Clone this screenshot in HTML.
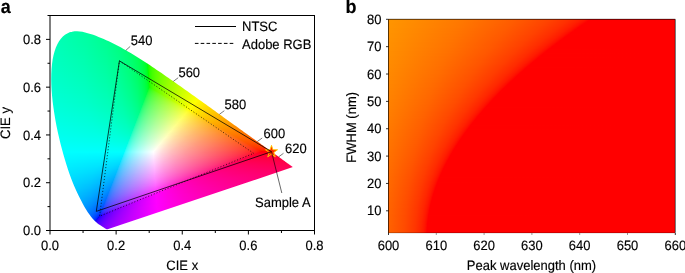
<!DOCTYPE html>
<html><head><meta charset="utf-8"><style>
html,body{margin:0;padding:0;background:#fff;}
body{width:685px;height:273px;overflow:hidden;position:relative;font-family:"Liberation Sans",sans-serif;}
.L{position:absolute;left:0;top:0;width:685px;height:273px;}
.L i{position:absolute;height:1px;display:block;}
#hs{clip-path:path('M107.57 229.31 L107.56 229.31 L107.55 229.31 L107.55 229.31 L107.54 229.31 L107.53 229.31 L107.52 229.31 L107.51 229.32 L107.49 229.32 L107.48 229.33 L107.46 229.33 L107.45 229.32 L107.43 229.32 L107.41 229.32 L107.40 229.32 L107.38 229.32 L107.37 229.33 L107.35 229.34 L107.34 229.34 L107.32 229.35 L107.31 229.35 L107.29 229.36 L107.28 229.36 L107.26 229.36 L107.23 229.36 L107.21 229.36 L107.18 229.36 L107.15 229.36 L107.12 229.35 L107.09 229.35 L107.06 229.35 L107.03 229.35 L107.00 229.35 L106.97 229.35 L106.93 229.35 L106.90 229.35 L106.86 229.34 L106.82 229.33 L106.78 229.32 L106.73 229.30 L106.67 229.28 L106.61 229.26 L106.53 229.23 L106.46 229.19 L106.39 229.16 L106.31 229.12 L106.22 229.07 L106.14 229.02 L106.04 228.97 L105.94 228.91 L105.84 228.85 L105.72 228.78 L105.59 228.71 L105.46 228.63 L105.32 228.55 L105.18 228.46 L105.03 228.36 L104.88 228.25 L104.71 228.14 L104.54 228.03 L104.36 227.91 L104.17 227.78 L103.96 227.65 L103.74 227.51 L103.51 227.36 L103.27 227.20 L103.00 227.04 L102.72 226.86 L102.43 226.67 L102.12 226.48 L101.79 226.27 L101.45 226.05 L101.09 225.83 L100.72 225.59 L100.33 225.34 L99.92 225.07 L99.49 224.78 L99.04 224.47 L98.58 224.14 L98.10 223.78 L97.60 223.40 L97.08 223.00 L96.55 222.57 L96.00 222.09 L95.42 221.56 L94.80 220.97 L94.14 220.30 L93.43 219.54 L92.68 218.69 L91.88 217.74 L91.04 216.69 L90.16 215.55 L89.25 214.30 L88.29 212.92 L87.29 211.41 L86.23 209.75 L85.13 207.93 L83.98 205.93 L82.77 203.74 L81.51 201.37 L80.18 198.80 L78.79 196.02 L77.34 193.03 L75.83 189.79 L74.28 186.30 L72.72 182.55 L71.16 178.55 L69.61 174.30 L68.07 169.80 L66.54 165.04 L65.01 160.03 L63.48 154.78 L61.97 149.30 L60.50 143.64 L59.09 137.83 L57.76 131.91 L56.51 125.92 L55.38 119.91 L54.36 113.87 L53.46 107.85 L52.70 101.88 L52.08 95.99 L51.61 90.24 L51.32 84.67 L51.20 79.28 L51.28 74.07 L51.54 69.04 L51.99 64.20 L52.64 59.61 L53.51 55.30 L54.59 51.29 L55.87 47.60 L57.35 44.26 L59.02 41.28 L60.85 38.69 L62.85 36.52 L64.99 34.76 L67.25 33.38 L69.61 32.36 L72.06 31.68 L74.57 31.31 L77.13 31.25 L79.74 31.44 L82.38 31.84 L85.05 32.42 L87.74 33.13 L90.45 33.95 L93.16 34.87 L95.86 35.86 L98.53 36.91 L101.15 37.99 L103.74 39.09 L106.28 40.22 L108.80 41.37 L111.29 42.56 L113.77 43.78 L116.23 45.03 L118.67 46.30 L121.09 47.61 L123.51 48.94 L125.92 50.30 L128.32 51.69 L130.72 53.10 L133.11 54.53 L135.49 55.99 L137.87 57.47 L140.25 58.96 L142.62 60.48 L144.99 62.01 L147.35 63.55 L149.72 65.12 L152.08 66.69 L154.45 68.28 L156.81 69.88 L159.18 71.49 L161.54 73.11 L163.90 74.74 L166.27 76.38 L168.63 78.02 L171.00 79.67 L173.36 81.33 L175.72 82.99 L178.08 84.65 L180.43 86.31 L182.79 87.98 L185.14 89.65 L187.49 91.32 L189.83 92.99 L192.16 94.66 L194.50 96.32 L196.82 97.99 L199.13 99.64 L201.44 101.30 L203.74 102.95 L206.02 104.59 L208.29 106.23 L210.56 107.86 L212.80 109.48 L215.03 111.08 L217.25 112.68 L219.44 114.26 L221.62 115.83 L223.78 117.38 L225.91 118.92 L228.03 120.44 L230.12 121.94 L232.18 123.42 L234.22 124.89 L236.23 126.33 L238.21 127.75 L240.16 129.16 L242.08 130.54 L243.96 131.90 L245.80 133.23 L247.60 134.52 L249.34 135.78 L251.03 137.00 L252.67 138.17 L254.25 139.31 L255.80 140.43 L257.31 141.52 L258.80 142.58 L260.24 143.62 L261.65 144.64 L263.01 145.62 L264.32 146.56 L265.58 147.46 L266.78 148.32 L267.94 149.15 L269.05 149.94 L270.12 150.71 L271.15 151.45 L272.13 152.16 L273.08 152.84 L273.98 153.49 L274.85 154.12 L275.68 154.71 L276.47 155.28 L277.22 155.83 L277.94 156.35 L278.63 156.84 L279.29 157.31 L279.91 157.76 L280.51 158.19 L281.09 158.61 L281.64 159.00 L282.16 159.38 L282.66 159.74 L283.14 160.08 L283.61 160.42 L284.06 160.74 L284.49 161.05 L284.91 161.35 L285.31 161.64 L285.70 161.93 L286.08 162.19 L286.44 162.45 L286.78 162.70 L287.11 162.94 L287.43 163.17 L287.73 163.39 L288.02 163.60 L288.30 163.80 L288.56 163.99 L288.82 164.17 L289.05 164.34 L289.27 164.50 L289.48 164.65 L289.67 164.79 L289.86 164.92 L290.03 165.04 L290.20 165.16 L290.36 165.28 L290.51 165.39 L290.65 165.49 L290.78 165.59 L290.91 165.68 L291.03 165.77 L291.14 165.85 L291.25 165.92 L291.35 165.99 L291.43 166.06 L291.51 166.11 L291.59 166.17 L291.65 166.21 L291.72 166.26 L291.78 166.31 L291.84 166.35 L291.90 166.39 L291.96 166.44 L292.02 166.48 L292.07 166.51 L292.12 166.55 L292.16 166.58 L292.21 166.62 L292.26 166.65 L292.30 166.68 L292.35 166.72 L292.39 166.75 L292.44 166.78 L292.49 166.82 L292.53 166.85 L292.57 166.88 L292.62 166.91 L292.66 166.94 L292.69 166.97 L292.73 166.99 L292.75 167.01 L292.77 167.02 L292.79 167.04 L292.81 167.05 L292.82 167.06 L292.84 167.07 L292.85 167.08 L292.86 167.09 L292.87 167.10 L292.88 167.10 L292.89 167.11 L292.90 167.12 L292.91 167.12 L292.91 167.12 Z');}
svg{position:absolute;left:0;top:0;will-change:transform;}
</style></head><body>
<div class="L" id="hs">
<i style="top:31px;left:72px;width:11px;background:linear-gradient(90deg,#00ffaa 0.5px,#00ffa3 10.5px)"></i>
<i style="top:32px;left:68px;width:20px;background:linear-gradient(90deg,#00ffad 0.5px,#00ffa0 19.5px)"></i>
<i style="top:33px;left:66px;width:25px;background:linear-gradient(90deg,#00ffae 0.5px,#00ff9e 24.5px)"></i>
<i style="top:34px;left:64px;width:31px;background:linear-gradient(90deg,#00ffb0 0.5px,#00ff9c 28.5px,#00ff9b 30.5px)"></i>
<i style="top:35px;left:63px;width:34px;background:linear-gradient(90deg,#00ffb1 0.5px,#00ff9e 28.5px,#00ff99 33.5px)"></i>
<i style="top:36px;left:61px;width:39px;background:linear-gradient(90deg,#00ffb2 0.5px,#00ff9f 29.5px,#00ff97 38.5px)"></i>
<i style="top:37px;left:60px;width:42px;background:linear-gradient(90deg,#00ffb3 0.5px,#00ffa0 29.5px,#00ff95 41.5px)"></i>
<i style="top:38px;left:60px;width:45px;background:linear-gradient(90deg,#00ffb4 0.5px,#00ffa1 29.5px,#00ff92 44.5px)"></i>
<i style="top:39px;left:59px;width:48px;background:linear-gradient(90deg,#00ffb5 0.5px,#00ffa1 30.5px,#00ff90 47.5px)"></i>
<i style="top:40px;left:58px;width:51px;background:linear-gradient(90deg,#00ffb6 0.5px,#00ffa3 30.5px,#00ff8e 50.5px)"></i>
<i style="top:41px;left:57px;width:55px;background:linear-gradient(90deg,#00ffb6 0.5px,#00ffa4 30.5px,#00ff8f 51.5px,#00ff8b 54.5px)"></i>
<i style="top:42px;left:57px;width:57px;background:linear-gradient(90deg,#00ffb7 0.5px,#00ffa4 30.5px,#00ff8f 51.5px,#00ff89 56.5px)"></i>
<i style="top:43px;left:56px;width:60px;background:linear-gradient(90deg,#00ffb8 0.5px,#00ffa5 31.5px,#00ff90 52.5px,#00ff86 59.5px)"></i>
<i style="top:44px;left:56px;width:62px;background:linear-gradient(90deg,#00ffb8 0.5px,#00ffa5 31.5px,#00ff90 52.5px,#00ff84 61.5px)"></i>
<i style="top:45px;left:55px;width:65px;background:linear-gradient(90deg,#00ffb9 0.5px,#00ffa6 31.5px,#00ff92 52.5px,#00ff81 64.5px)"></i>
<i style="top:46px;left:55px;width:67px;background:linear-gradient(90deg,#00ffba 0.5px,#00ffa7 31.5px,#00ff93 52.5px,#00ff7e 66.5px)"></i>
<i style="top:47px;left:54px;width:69px;background:linear-gradient(90deg,#00ffba 0.5px,#00ffa8 31.5px,#00ff94 52.5px,#00ff80 66.5px,#00ff7d 68.5px)"></i>
<i style="top:48px;left:54px;width:71px;background:linear-gradient(90deg,#00ffbb 0.5px,#00ffa9 31.5px,#00ff95 52.5px,#00ff81 66.5px,#00ff79 70.5px)"></i>
<i style="top:49px;left:54px;width:73px;background:linear-gradient(90deg,#00ffbb 0.5px,#00ffa9 31.5px,#00ff96 52.5px,#00ff81 66.5px,#00ff75 72.5px)"></i>
<i style="top:50px;left:53px;width:76px;background:linear-gradient(90deg,#00ffbc 0.5px,#00ffaa 32.5px,#00ff96 53.5px,#00ff82 67.5px,#00ff71 75.5px)"></i>
<i style="top:51px;left:53px;width:77px;background:linear-gradient(90deg,#00ffbd 0.5px,#00ffaa 32.5px,#00ff97 53.5px,#00ff82 67.5px,#00ff70 76.5px)"></i>
<i style="top:52px;left:53px;width:79px;background:linear-gradient(90deg,#00ffbd 0.5px,#00ffab 32.5px,#00ff97 53.5px,#00ff83 67.5px,#00ff6e 77.5px,#00ff6b 78.5px)"></i>
<i style="top:53px;left:52px;width:82px;background:linear-gradient(90deg,#00ffbe 0.5px,#00ffac 32.5px,#00ff99 53.5px,#00ff84 68.5px,#00ff6e 78.5px,#00ff66 81.5px)"></i>
<i style="top:54px;left:52px;width:84px;background:linear-gradient(90deg,#00ffbe 0.5px,#00ffac 32.5px,#00ff99 53.5px,#00ff84 68.5px,#00ff6f 78.5px,#00ff60 83.5px)"></i>
<i style="top:55px;left:52px;width:85px;background:linear-gradient(90deg,#00ffbf 0.5px,#00ffad 32.5px,#00ff9a 53.5px,#00ff85 68.5px,#00ff6f 78.5px,#00ff5d 84.5px)"></i>
<i style="top:56px;left:52px;width:87px;background:linear-gradient(90deg,#00ffbf 0.5px,#00ffae 32.5px,#00ff99 54.5px,#00ff85 68.5px,#00ff70 78.5px,#00ff59 85.5px,#00ff55 86.5px)"></i>
<i style="top:57px;left:52px;width:88px;background:linear-gradient(90deg,#00ffc0 0.5px,#00ffae 32.5px,#00ff9a 54.5px,#00ff86 68.5px,#00ff71 78.5px,#00ff5a 85.5px,#00ff52 87.5px)"></i>
<i style="top:58px;left:51px;width:91px;background:linear-gradient(90deg,#00ffc1 0.5px,#00ffaf 32.5px,#00ff9c 54.5px,#00ff87 69.5px,#00ff71 79.5px,#00ff5b 86.5px,#00ff48 90.5px)"></i>
<i style="top:59px;left:51px;width:93px;background:linear-gradient(90deg,#00ffc1 0.5px,#00ffb0 32.5px,#00ff9c 54.5px,#00ff87 69.5px,#00ff72 79.5px,#00ff5c 86.5px,#00ff49 90.5px,#00ff3c 92.5px)"></i>
<i style="top:60px;left:51px;width:94px;background:linear-gradient(90deg,#00ffc2 0.5px,#00ffb0 33.5px,#00ff9c 55.5px,#00ff88 69.5px,#00ff73 79.5px,#00ff5c 86.5px,#00ff49 90.5px,#00ff34 93.5px)"></i>
<i style="top:61px;left:51px;width:96px;background:linear-gradient(90deg,#00ffc2 0.5px,#00ffb0 33.5px,#00ff9c 55.5px,#00ff89 69.5px,#00ff73 79.5px,#00ff5d 86.5px,#00ff4a 90.5px,#00ff35 93.5px,#00ff2b 94.5px,#00ff1d 95.5px)"></i>
<i style="top:62px;left:51px;width:97px;background:linear-gradient(90deg,#00ffc3 0.5px,#00ffb1 33.5px,#00ff9d 55.5px,#00ff89 69.5px,#00ff74 79.5px,#00ff5e 86.5px,#00ff4b 90.5px,#00ff36 93.5px,#00ff2c 94.5px,#00ff1e 95.5px,#00ff03 96.5px)"></i>
<i style="top:63px;left:51px;width:99px;background:linear-gradient(90deg,#00ffc3 0.5px,#00ffb1 33.5px,#00ff9e 55.5px,#00ff8a 69.5px,#00ff75 79.5px,#00ff5e 86.5px,#00ff4c 90.5px,#00ff37 93.5px,#00ff2d 94.5px,#00ff20 95.5px,#00ff06 96.5px,#1bff00 97.5px,#2aff00 98.5px)"></i>
<i style="top:64px;left:50px;width:101px;background:linear-gradient(90deg,#00ffc4 0.5px,#00ffb2 33.5px,#00ff9f 55.5px,#00ff8a 70.5px,#00ff75 80.5px,#00ff5f 87.5px,#00ff4c 91.5px,#00ff38 94.5px,#00ff2e 95.5px,#00ff21 96.5px,#00ff09 97.5px,#19ff00 98.5px,#29ff00 99.5px,#35ff00 100.5px)"></i>
<i style="top:65px;left:50px;width:103px;background:linear-gradient(90deg,#00ffc4 0.5px,#00ffb3 33.5px,#00ffa0 55.5px,#00ff8b 70.5px,#00ff76 80.5px,#00ff60 87.5px,#00ff4d 91.5px,#00ff39 94.5px,#00ff2f 95.5px,#00ff22 96.5px,#00ff0c 97.5px,#18ff00 98.5px,#29ff00 99.5px,#3eff00 101.5px,#46ff00 102.5px)"></i>
<i style="top:66px;left:50px;width:104px;background:linear-gradient(90deg,#00ffc5 0.5px,#00ffb4 33.5px,#00ffa1 55.5px,#00ff8c 70.5px,#00ff77 80.5px,#00ff60 87.5px,#00ff4e 91.5px,#00ff39 94.5px,#00ff30 95.5px,#00ff23 96.5px,#00ff0e 97.5px,#17ff00 98.5px,#28ff00 99.5px,#3dff00 101.5px,#4dff00 103.5px)"></i>
<i style="top:67px;left:50px;width:106px;background:linear-gradient(90deg,#00ffc5 0.5px,#00ffb4 33.5px,#00ffa1 55.5px,#00ff8c 70.5px,#00ff77 80.5px,#00ff61 87.5px,#00ff4f 91.5px,#00ff3a 94.5px,#00ff31 95.5px,#00ff25 96.5px,#00ff10 97.5px,#15ff00 98.5px,#28ff00 99.5px,#34ff00 100.5px,#45ff00 102.5px,#59ff00 105.5px)"></i>
<i style="top:68px;left:50px;width:107px;background:linear-gradient(90deg,#00ffc6 0.5px,#00ffb5 33.5px,#00ffa2 55.5px,#00ff8d 70.5px,#00ff78 80.5px,#00ff62 87.5px,#00ff4f 91.5px,#00ff3b 94.5px,#00ff32 95.5px,#00ff26 96.5px,#00ff12 97.5px,#14ff00 98.5px,#27ff00 99.5px,#33ff00 100.5px,#45ff00 102.5px,#5eff00 106.5px)"></i>
<i style="top:69px;left:50px;width:109px;background:linear-gradient(90deg,#00ffc6 0.5px,#00ffb5 33.5px,#00ffa2 55.5px,#00ff8e 70.5px,#00ff79 80.5px,#00ff63 87.5px,#00ff50 91.5px,#00ff3c 94.5px,#00ff33 95.5px,#00ff27 96.5px,#00ff14 97.5px,#12ff00 98.5px,#26ff00 99.5px,#33ff00 100.5px,#45ff00 102.5px,#5fff00 106.5px,#69ff00 108.5px)"></i>
<i style="top:70px;left:50px;width:110px;background:linear-gradient(90deg,#00ffc7 0.5px,#00ffb6 33.5px,#00ffa3 55.5px,#00ff8f 70.5px,#00ff7a 80.5px,#00ff63 87.5px,#00ff51 91.5px,#00ff3d 94.5px,#00ff34 95.5px,#00ff28 96.5px,#00ff16 97.5px,#10ff00 98.5px,#26ff00 99.5px,#33ff00 100.5px,#45ff00 102.5px,#5fff00 106.5px,#6eff00 109.5px)"></i>
<i style="top:71px;left:50px;width:112px;background:linear-gradient(90deg,#00ffc7 0.5px,#00ffb6 33.5px,#00ffa4 55.5px,#00ff8f 70.5px,#00ff7a 80.5px,#00ff64 87.5px,#00ff52 91.5px,#00ff3e 94.5px,#00ff35 95.5px,#00ff29 96.5px,#00ff18 97.5px,#0eff00 98.5px,#25ff00 99.5px,#32ff00 100.5px,#45ff00 102.5px,#59ff00 105.5px,#72ff00 110.5px,#77ff00 111.5px)"></i>
<i style="top:72px;left:50px;width:113px;background:linear-gradient(90deg,#00ffc8 0.5px,#00ffb7 33.5px,#00ffa4 55.5px,#00ff90 70.5px,#00ff7b 80.5px,#00ff65 87.5px,#00ff53 91.5px,#00ff3f 94.5px,#00ff36 95.5px,#00ff2a 96.5px,#00ff1a 97.5px,#0cff00 98.5px,#24ff00 99.5px,#32ff00 100.5px,#45ff00 102.5px,#5aff00 105.5px,#73ff00 110.5px,#7bff00 112.5px)"></i>
<i style="top:73px;left:50px;width:115px;background:linear-gradient(90deg,#00ffc8 0.5px,#00ffb8 33.5px,#00ffa5 55.5px,#00ff91 70.5px,#00ff7c 80.5px,#00ff66 87.5px,#00ff53 91.5px,#00ff40 94.5px,#00ff2c 96.5px,#00ff1b 97.5px,#09ff00 98.5px,#23ff00 99.5px,#31ff00 100.5px,#45ff00 102.5px,#5aff00 105.5px,#73ff00 110.5px,#83ff00 114.5px)"></i>
<i style="top:74px;left:50px;width:116px;background:linear-gradient(90deg,#00ffc9 0.5px,#00ffb8 33.5px,#00ffa6 55.5px,#00ff91 70.5px,#00ff7d 80.5px,#00ff67 87.5px,#00ff54 91.5px,#00ff41 94.5px,#00ff2d 96.5px,#00ff1d 97.5px,#06ff00 98.5px,#22ff00 99.5px,#31ff00 100.5px,#45ff00 102.5px,#5aff00 105.5px,#74ff00 110.5px,#88ff00 115.5px)"></i>
<i style="top:75px;left:50px;width:118px;background:linear-gradient(90deg,#00ffc9 0.5px,#00ffb9 33.5px,#00ffa6 55.5px,#00ff92 70.5px,#00ff7d 80.5px,#00ff67 87.5px,#00ff55 91.5px,#00ff42 94.5px,#00ff2e 96.5px,#00ff1e 97.5px,#03ff00 98.5px,#21ff00 99.5px,#30ff00 100.5px,#45ff00 102.5px,#5aff00 105.5px,#74ff00 110.5px,#8fff00 117.5px)"></i>
<i style="top:76px;left:50px;width:119px;background:linear-gradient(90deg,#00ffca 0.5px,#00ffb9 33.5px,#00ffa7 55.5px,#00ff93 70.5px,#00ff7e 80.5px,#00ff68 87.5px,#00ff56 91.5px,#00ff43 94.5px,#00ff2f 96.5px,#00ff20 97.5px,#00ff00 98.5px,#20ff00 99.5px,#30ff00 100.5px,#45ff00 102.5px,#5aff00 105.5px,#74ff00 110.5px,#93ff00 118.5px)"></i>
<i style="top:77px;left:50px;width:120px;background:linear-gradient(90deg,#00ffca 0.5px,#00ffba 33.5px,#00ffa8 55.5px,#00ff94 70.5px,#00ff7f 80.5px,#00ff69 87.5px,#00ff57 91.5px,#00ff43 94.5px,#00ff30 96.5px,#00ff21 97.5px,#00ff03 98.5px,#1fff00 99.5px,#2fff00 100.5px,#44ff00 102.5px,#5aff00 105.5px,#75ff00 110.5px,#94ff00 118.5px,#97ff00 119.5px)"></i>
<i style="top:78px;left:50px;width:122px;background:linear-gradient(90deg,#00ffcb 0.5px,#00ffbb 33.5px,#00ffa8 55.5px,#00ff94 70.5px,#00ff80 80.5px,#00ff6a 87.5px,#00ff58 91.5px,#00ff44 94.5px,#00ff31 96.5px,#00ff23 97.5px,#00ff06 98.5px,#1eff00 99.5px,#2fff00 100.5px,#44ff00 102.5px,#5bff00 105.5px,#75ff00 110.5px,#95ff00 118.5px,#9fff00 121.5px)"></i>
<i style="top:79px;left:50px;width:123px;background:linear-gradient(90deg,#00ffcb 0.5px,#00ffbb 33.5px,#00ffa9 55.5px,#00ff95 70.5px,#00ff80 80.5px,#00ff6b 87.5px,#00ff59 91.5px,#00ff45 94.5px,#00ff32 96.5px,#00ff24 97.5px,#00ff09 98.5px,#1dff00 99.5px,#2eff00 100.5px,#44ff00 102.5px,#5bff00 105.5px,#76ff00 110.5px,#96ff00 118.5px,#a3ff00 122.5px)"></i>
<i style="top:80px;left:50px;width:125px;background:linear-gradient(90deg,#00ffcc 0.5px,#00ffbc 33.5px,#00ffaa 55.5px,#00ff96 70.5px,#00ff81 80.5px,#00ff6b 87.5px,#00ff59 91.5px,#00ff46 94.5px,#00ff34 96.5px,#00ff26 97.5px,#00ff0d 98.5px,#1cff00 99.5px,#2eff00 100.5px,#3aff00 101.5px,#4dff00 103.5px,#67ff00 107.5px,#83ff00 113.5px,#a3ff00 122.5px,#a9ff00 124.5px)"></i>
<i style="top:81px;left:50px;width:126px;background:linear-gradient(90deg,#00ffcc 0.5px,#00ffbc 34.5px,#00ffa9 56.5px,#00ff97 70.5px,#00ff82 80.5px,#00ff6c 87.5px,#00ff5a 91.5px,#00ff47 94.5px,#00ff35 96.5px,#00ff27 97.5px,#00ff10 98.5px,#1bff00 99.5px,#2dff00 100.5px,#3aff00 101.5px,#4dff00 103.5px,#67ff00 107.5px,#84ff00 113.5px,#a4ff00 122.5px,#adff00 125.5px)"></i>
<i style="top:82px;left:50px;width:128px;background:linear-gradient(90deg,#00ffcd 0.5px,#00ffbd 34.5px,#00ffaa 56.5px,#00ff97 70.5px,#00ff83 80.5px,#00ff6d 87.5px,#00ff5b 91.5px,#00ff48 94.5px,#00ff36 96.5px,#00ff28 97.5px,#00ff12 98.5px,#19ff00 99.5px,#2dff00 100.5px,#3aff00 101.5px,#4dff00 103.5px,#62ff00 106.5px,#7cff00 111.5px,#9bff00 119.5px,#b4ff00 127.5px)"></i>
<i style="top:83px;left:50px;width:129px;background:linear-gradient(90deg,#00ffcd 0.5px,#00ffbd 34.5px,#00ffab 56.5px,#00ff98 70.5px,#00ff84 80.5px,#00ff6e 87.5px,#00ff5c 91.5px,#00ff49 94.5px,#00ff37 96.5px,#00ff2a 97.5px,#00ff14 98.5px,#18ff00 99.5px,#2cff00 100.5px,#39ff00 101.5px,#4dff00 103.5px,#62ff00 106.5px,#7cff00 111.5px,#9cff00 119.5px,#b8ff00 128.5px)"></i>
<i style="top:84px;left:50px;width:130px;background:linear-gradient(90deg,#00ffce 0.5px,#00ffbe 34.5px,#00ffac 56.5px,#00ff99 70.5px,#00ff85 80.5px,#00ff6f 87.5px,#00ff5d 91.5px,#00ff4a 94.5px,#00ff38 96.5px,#00ff2b 97.5px,#00ff17 98.5px,#16ff00 99.5px,#2bff00 100.5px,#39ff00 101.5px,#4dff00 103.5px,#62ff00 106.5px,#7dff00 111.5px,#9dff00 119.5px,#bcff00 129.5px)"></i>
<i style="top:85px;left:50px;width:132px;background:linear-gradient(90deg,#00ffcf 0.5px,#00ffbe 34.5px,#00ffac 56.5px,#00ff9a 70.5px,#00ff85 80.5px,#00ff70 87.5px,#00ff5e 91.5px,#00ff4b 94.5px,#00ff39 96.5px,#00ff2c 97.5px,#00ff19 98.5px,#14ff00 99.5px,#2bff00 100.5px,#39ff00 101.5px,#4dff00 103.5px,#63ff00 106.5px,#7eff00 111.5px,#9eff00 119.5px,#bfff00 130.5px,#c2ff00 131.5px)"></i>
<i style="top:86px;left:50px;width:133px;background:linear-gradient(90deg,#00ffcf 0.5px,#00ffbf 34.5px,#00ffad 56.5px,#00ff9b 70.5px,#00ff86 80.5px,#00ff71 87.5px,#00ff5f 91.5px,#00ff4c 94.5px,#00ff3a 96.5px,#00ff2e 97.5px,#00ff1b 98.5px,#12ff00 99.5px,#2aff00 100.5px,#38ff00 101.5px,#4dff00 103.5px,#63ff00 106.5px,#7eff00 111.5px,#9fff00 119.5px,#c1ff00 130.5px,#c6ff00 132.5px)"></i>
<i style="top:87px;left:50px;width:135px;background:linear-gradient(90deg,#00ffd0 0.5px,#00ffc0 34.5px,#00ffae 56.5px,#00ff9b 70.5px,#00ff87 80.5px,#00ff72 87.5px,#00ff60 91.5px,#00ff4d 94.5px,#00ff3c 96.5px,#00ff2f 97.5px,#00ff1d 98.5px,#12ff03 99.5px,#29ff00 100.5px,#38ff00 101.5px,#4dff00 103.5px,#63ff00 106.5px,#7fff00 111.5px,#9fff00 119.5px,#c2ff00 130.5px,#ccff00 134.5px)"></i>
<i style="top:88px;left:50px;width:136px;background:linear-gradient(90deg,#00ffd0 0.5px,#00ffc0 34.5px,#00ffaf 56.5px,#00ff9c 70.5px,#00ff88 80.5px,#00ff73 87.5px,#00ff61 91.5px,#00ff4e 94.5px,#00ff3d 96.5px,#00ff30 97.5px,#00ff1e 98.5px,#1bff15 99.5px,#2cff0c 100.5px,#38ff00 101.5px,#4dff00 103.5px,#64ff00 106.5px,#7fff00 111.5px,#a0ff00 119.5px,#c3ff00 130.5px,#d0ff00 135.5px)"></i>
<i style="top:89px;left:50px;width:137px;background:linear-gradient(90deg,#00ffd1 0.5px,#00ffc1 34.5px,#00ffaf 56.5px,#00ff9d 70.5px,#00ff89 80.5px,#00ff74 87.5px,#00ff62 91.5px,#00ff4f 94.5px,#00ff3e 96.5px,#00ff32 97.5px,#09ff24 98.5px,#23ff1f 99.5px,#31ff1a 100.5px,#3cff13 101.5px,#4dff00 103.5px,#64ff00 106.5px,#80ff00 111.5px,#9eff00 118.5px,#c1ff00 129.5px,#d4ff00 136.5px)"></i>
<i style="top:90px;left:50px;width:139px;background:linear-gradient(90deg,#00ffd1 0.5px,#00ffc2 34.5px,#00ffb0 56.5px,#00ff9e 70.5px,#00ff8a 80.5px,#00ff75 87.5px,#00ff63 91.5px,#00ff50 94.5px,#00ff3f 96.5px,#00ff33 97.5px,#16ff2b 98.5px,#29ff27 99.5px,#36ff23 100.5px,#48ff18 102.5px,#4fff11 103.5px,#56ff06 104.5px,#5dff00 105.5px,#76ff00 109.5px,#93ff00 115.5px,#b3ff00 124.5px,#d8ff00 137.5px,#dbff00 138.5px)"></i>
<i style="top:91px;left:50px;width:140px;background:linear-gradient(90deg,#00ffd2 0.5px,#00ffc3 34.5px,#00ffb1 56.5px,#00ff9f 70.5px,#00ff8b 80.5px,#00ff76 87.5px,#00ff64 91.5px,#00ff52 94.5px,#00ff40 96.5px,#00ff34 97.5px,#1fff31 98.5px,#2eff2e 99.5px,#43ff27 101.5px,#59ff17 104.5px,#5fff0f 105.5px,#65ff03 106.5px,#6bff00 107.5px,#86ff00 112.5px,#a7ff00 120.5px,#caff00 131.5px,#dfff00 139.5px)"></i>
<i style="top:92px;left:50px;width:142px;background:linear-gradient(90deg,#00ffd2 0.5px,#00ffc3 34.5px,#00ffb2 56.5px,#00ffa0 70.5px,#00ff8c 80.5px,#00ff77 87.5px,#00ff60 92.5px,#00ff4b 95.5px,#00ff41 96.5px,#10ff39 97.5px,#26ff37 98.5px,#33ff34 99.5px,#47ff2d 101.5px,#62ff1c 105.5px,#67ff15 106.5px,#6dff0d 107.5px,#72ff00 108.5px,#90ff00 114.5px,#b2ff00 123.5px,#d8ff00 136.5px,#e5ff00 141.5px)"></i>
<i style="top:93px;left:50px;width:143px;background:linear-gradient(90deg,#00ffd3 0.5px,#00ffc4 34.5px,#00ffb3 56.5px,#00ffa1 70.5px,#00ff8d 80.5px,#00ff78 87.5px,#00ff61 92.5px,#00ff4c 95.5px,#00ff43 96.5px,#1aff3e 97.5px,#2cff3c 98.5px,#42ff36 100.5px,#58ff2d 103.5px,#6aff20 106.5px,#74ff14 108.5px,#7dff00 110.5px,#9dff00 117.5px,#c0ff00 127.5px,#e6ff00 141.5px,#e9ff00 142.5px)"></i>
<i style="top:94px;left:50px;width:144px;background:linear-gradient(90deg,#00ffd4 0.5px,#00ffc5 34.5px,#00ffb4 56.5px,#00ffa0 71.5px,#00ff8b 81.5px,#00ff79 87.5px,#00ff62 92.5px,#00ff4d 95.5px,#06ff45 96.5px,#22ff43 97.5px,#31ff40 98.5px,#45ff3c 100.5px,#5bff33 103.5px,#71ff24 107.5px,#7bff19 109.5px,#7fff12 110.5px,#84ff06 111.5px,#88ff00 112.5px,#aaff00 120.5px,#ceff00 131.5px,#edff00 143.5px)"></i>
<i style="top:95px;left:51px;width:145px;background:linear-gradient(90deg,#00ffd4 0.5px,#00ffc5 34.5px,#00ffb3 56.5px,#00ffa1 70.5px,#00ff8c 80.5px,#00ff7a 86.5px,#00ff63 91.5px,#00ff4e 94.5px,#15ff49 95.5px,#29ff47 96.5px,#36ff45 97.5px,#49ff40 99.5px,#64ff36 103.5px,#7dff23 108.5px,#86ff18 110.5px,#8aff10 111.5px,#8eff03 112.5px,#93ff00 113.5px,#b2ff00 121.5px,#d7ff00 133.5px,#f3ff00 144.5px)"></i>
<i style="top:96px;left:51px;width:146px;background:linear-gradient(90deg,#00ffd4 0.5px,#00ffc6 34.5px,#00ffb4 56.5px,#00ffa2 70.5px,#00ff8d 80.5px,#00ff7b 86.5px,#00ff64 91.5px,#00ff4f 94.5px,#1eff4d 95.5px,#2eff4b 96.5px,#44ff47 98.5px,#5aff40 101.5px,#76ff32 106.5px,#88ff23 110.5px,#90ff16 112.5px,#94ff0d 113.5px,#98ff00 114.5px,#baff00 123.5px,#e1ff00 136.5px,#f7ff00 145.5px)"></i>
<i style="top:97px;left:51px;width:148px;background:linear-gradient(90deg,#00ffd5 0.5px,#00ffc6 34.5px,#00ffb5 56.5px,#00ffa3 70.5px,#00ff8e 80.5px,#00ff7c 86.5px,#00ff65 91.5px,#00ff58 93.5px,#0dff52 94.5px,#25ff51 95.5px,#34ff4f 96.5px,#47ff4b 98.5px,#5dff45 101.5px,#78ff38 106.5px,#8eff26 111.5px,#96ff1c 113.5px,#9aff14 114.5px,#a2ff00 116.5px,#c6ff00 126.5px,#edff00 140.5px,#feff00 147.5px)"></i>
<i style="top:98px;left:51px;width:149px;background:linear-gradient(90deg,#00ffd6 0.5px,#00ffc7 34.5px,#00ffb6 56.5px,#00ffa4 70.5px,#00ff8f 80.5px,#00ff7d 86.5px,#00ff66 91.5px,#00ff59 93.5px,#19ff56 94.5px,#2cff54 95.5px,#38ff53 96.5px,#4bff4f 98.5px,#66ff47 102.5px,#84ff38 108.5px,#98ff26 113.5px,#a0ff1a 115.5px,#a3ff12 116.5px,#a7ff06 117.5px,#abff00 118.5px,#cdff00 128.5px,#f4ff00 142.5px,#fffe00 147.5px,#fffc00 148.5px)"></i>
<i style="top:99px;left:51px;width:150px;background:linear-gradient(90deg,#00ffd6 0.5px,#00ffc8 34.5px,#00ffb7 56.5px,#00ffa5 70.5px,#00ff90 80.5px,#00ff7e 86.5px,#00ff67 91.5px,#00ff61 92.5px,#03ff5b 93.5px,#22ff59 94.5px,#31ff58 95.5px,#46ff55 97.5px,#5cff4f 100.5px,#78ff45 105.5px,#97ff31 112.5px,#a5ff1f 116.5px,#adff10 118.5px,#b0ff03 119.5px,#b4ff00 120.5px,#d8ff00 131.5px,#fdff00 145.5px,#fffc00 147.5px,#fff800 149.5px)"></i>
<i style="top:100px;left:51px;width:152px;background:linear-gradient(90deg,#00ffd7 0.5px,#00ffc9 34.5px,#00ffb8 56.5px,#00ffa6 70.5px,#00ff91 80.5px,#00ff7f 86.5px,#00ff68 91.5px,#00ff63 92.5px,#13ff5e 93.5px,#29ff5d 94.5px,#36ff5b 95.5px,#4aff58 97.5px,#65ff51 101.5px,#84ff45 107.5px,#a0ff31 114.5px,#afff1e 118.5px,#b2ff17 119.5px,#b5ff0d 120.5px,#b9ff00 121.5px,#ddff00 132.5px,#ffff00 145.5px,#fff200 151.5px)"></i>
<i style="top:101px;left:51px;width:153px;background:linear-gradient(90deg,#00ffd7 0.5px,#00ffc9 34.5px,#00ffb9 56.5px,#00ffa7 70.5px,#00ff93 80.5px,#00ff80 86.5px,#00ff6a 91.5px,#00ff64 92.5px,#1dff62 93.5px,#2eff60 94.5px,#45ff5d 96.5px,#5cff59 99.5px,#78ff50 104.5px,#9bff3d 112.5px,#adff2c 117.5px,#b7ff1d 120.5px,#bbff15 121.5px,#c1ff00 123.5px,#e7ff00 135.5px,#ffff00 144.5px,#ffee00 152.5px)"></i>
<i style="top:102px;left:51px;width:155px;background:linear-gradient(90deg,#00ffd8 0.5px,#00ffc9 35.5px,#00ffba 56.5px,#00ffa8 70.5px,#00ff94 80.5px,#00ff81 86.5px,#00ff6b 91.5px,#0aff66 92.5px,#25ff65 93.5px,#34ff63 94.5px,#48ff61 96.5px,#5fff5c 99.5px,#7bff54 104.5px,#9dff43 112.5px,#b3ff30 118.5px,#bdff22 121.5px,#c3ff13 123.5px,#c7ff06 124.5px,#caff00 125.5px,#f1ff00 138.5px,#feff00 143.5px,#ffe800 154.5px)"></i>
<i style="top:103px;left:51px;width:156px;background:linear-gradient(90deg,#00ffd9 0.5px,#00ffca 35.5px,#00ffb9 57.5px,#00ffa7 71.5px,#00ff95 80.5px,#00ff83 86.5px,#00ff6c 91.5px,#18ff69 92.5px,#2cff68 93.5px,#39ff67 94.5px,#4cff64 96.5px,#68ff5e 100.5px,#86ff54 106.5px,#aaff40 115.5px,#bcff2f 120.5px,#c6ff21 123.5px,#ccff11 125.5px,#cfff02 126.5px,#d2ff00 127.5px,#fbff00 141.5px,#fffe00 143.5px,#ffe400 155.5px)"></i>
<i style="top:104px;left:52px;width:156px;background:linear-gradient(90deg,#00ffd9 0.5px,#00ffcb 34.5px,#00ffba 56.5px,#00ffa8 70.5px,#00ff96 79.5px,#00ff84 85.5px,#00ff6d 90.5px,#21ff6c 91.5px,#31ff6b 92.5px,#47ff68 94.5px,#5eff64 97.5px,#7bff5d 102.5px,#9eff4e 110.5px,#baff3a 118.5px,#c8ff2a 122.5px,#ceff20 124.5px,#d1ff18 125.5px,#d4ff0e 126.5px,#d7ff00 127.5px,#fdff00 140.5px,#fff600 144.5px,#ffe000 155.5px)"></i>
<i style="top:105px;left:52px;width:158px;background:linear-gradient(90deg,#00ffda 0.5px,#00ffcb 35.5px,#00ffbb 56.5px,#00ffa9 70.5px,#00ff97 79.5px,#00ff85 85.5px,#00ff74 89.5px,#11ff70 90.5px,#28ff6f 91.5px,#36ff6e 92.5px,#4bff6c 94.5px,#61ff68 97.5px,#7dff61 102.5px,#a0ff53 110.5px,#bdff40 118.5px,#cdff2e 123.5px,#d6ff1e 126.5px,#daff16 127.5px,#e0ff00 129.5px,#fffe00 140.5px,#ffe400 152.5px,#ffdb00 157.5px)"></i>
<i style="top:106px;left:52px;width:159px;background:linear-gradient(90deg,#00ffda 0.5px,#00ffcc 35.5px,#00ffbc 56.5px,#00ffab 70.5px,#00ff98 79.5px,#00ff86 85.5px,#00ff75 89.5px,#1cff73 90.5px,#2fff72 91.5px,#3bff71 92.5px,#4eff6f 94.5px,#6aff6a 98.5px,#89ff61 104.5px,#b1ff4f 114.5px,#ccff39 122.5px,#d9ff29 126.5px,#dfff1d 128.5px,#e2ff14 129.5px,#e5ff06 130.5px,#e8ff00 131.5px,#ffff00 139.5px,#ffe500 150.5px,#ffd700 158.5px)"></i>
<i style="top:107px;left:52px;width:161px;background:linear-gradient(90deg,#00ffdb 0.5px,#00ffcd 35.5px,#00ffbd 56.5px,#00ffac 70.5px,#00ff9a 79.5px,#00ff88 85.5px,#00ff7b 88.5px,#07ff77 89.5px,#25ff76 90.5px,#34ff75 91.5px,#49ff73 93.5px,#60ff6f 96.5px,#7dff69 101.5px,#a0ff5d 109.5px,#c4ff48 119.5px,#d8ff35 125.5px,#e4ff22 129.5px,#e7ff1b 130.5px,#eaff12 131.5px,#edff02 132.5px,#f3ff00 134.5px,#ffff00 138.5px,#ffe500 149.5px,#ffd200 160.5px)"></i>
<i style="top:108px;left:52px;width:162px;background:linear-gradient(90deg,#00ffdc 0.5px,#00ffce 35.5px,#00ffbe 56.5px,#00ffad 70.5px,#00ff9b 79.5px,#00ff89 85.5px,#00ff7d 88.5px,#2bff79 90.5px,#39ff78 91.5px,#4dff76 93.5px,#63ff72 96.5px,#7fff6c 101.5px,#a3ff60 109.5px,#caff4b 120.5px,#ddff39 126.5px,#eaff27 130.5px,#f0ff19 132.5px,#f3ff0f 133.5px,#f6ff00 134.5px,#feff00 137.5px,#ffe300 149.5px,#ffcf00 161.5px)"></i>
<i style="top:109px;left:52px;width:163px;background:linear-gradient(90deg,#00ffdc 0.5px,#00ffcf 35.5px,#00ffbf 56.5px,#00ffae 70.5px,#00ff9c 79.5px,#00ff8a 85.5px,#00ff7e 88.5px,#20ff7d 89.5px,#31ff7c 90.5px,#48ff7a 92.5px,#60ff77 95.5px,#7dff71 100.5px,#a1ff66 108.5px,#ccff50 120.5px,#e3ff3c 127.5px,#efff2c 131.5px,#f5ff20 133.5px,#f8ff17 134.5px,#feff00 136.5px,#ffe100 149.5px,#ffcb00 162.5px)"></i>
<i style="top:110px;left:52px;width:165px;background:linear-gradient(90deg,#00ffdd 0.5px,#00ffcf 35.5px,#00ffc0 56.5px,#00ffaf 70.5px,#00ff9d 79.5px,#00ff8c 85.5px,#00ff84 87.5px,#0fff81 88.5px,#28ff80 89.5px,#37ff7f 90.5px,#4cff7d 92.5px,#63ff7a 95.5px,#7fff74 100.5px,#a3ff69 108.5px,#ceff54 120.5px,#e8ff3f 128.5px,#f4ff30 132.5px,#fdff1e 135.5px,#fffe15 136.5px,#fffb06 137.5px,#fff800 138.5px,#ffdf00 149.5px,#ffc600 164.5px)"></i>
<i style="top:111px;left:53px;width:165px;background:linear-gradient(90deg,#00ffdd 0.5px,#00ffd0 35.5px,#00ffc0 56.5px,#00ffaf 70.5px,#00ff9c 79.5px,#00ff89 85.5px,#00ff85 86.5px,#1bff83 87.5px,#2fff82 88.5px,#3cff81 89.5px,#4fff80 91.5px,#6cff7b 95.5px,#8cff75 101.5px,#b5ff67 111.5px,#dbff52 122.5px,#f1ff3f 129.5px,#fdff2f 133.5px,#fffb23 135.5px,#fff611 137.5px,#fff302 138.5px,#ffeb00 141.5px,#ffd200 154.5px,#ffc300 164.5px)"></i>
<i style="top:112px;left:53px;width:166px;background:linear-gradient(90deg,#00ffde 0.5px,#00ffd1 35.5px,#00ffc2 56.5px,#00ffb0 70.5px,#00ff9e 79.5px,#00ff8b 85.5px,#03ff87 86.5px,#24ff86 87.5px,#34ff85 88.5px,#4aff83 90.5px,#62ff80 93.5px,#7fff7b 98.5px,#a4ff72 106.5px,#d3ff5d 119.5px,#f0ff49 128.5px,#ffff38 133.5px,#fff321 137.5px,#fff019 138.5px,#ffee0e 139.5px,#ffeb00 140.5px,#ffd300 152.5px,#ffc000 165.5px)"></i>
<i style="top:113px;left:53px;width:168px;background:linear-gradient(90deg,#00ffdf 0.5px,#00ffd2 35.5px,#00ffc3 56.5px,#00ffb1 70.5px,#00ff9f 79.5px,#00ff8c 85.5px,#2bff89 87.5px,#3aff88 88.5px,#4eff86 90.5px,#65ff83 93.5px,#82ff7e 98.5px,#a6ff75 106.5px,#d5ff62 119.5px,#f6ff4b 129.5px,#ffff42 132.5px,#fff12b 137.5px,#ffeb1e 139.5px,#ffe916 140.5px,#ffe609 141.5px,#ffe400 142.5px,#ffcc00 155.5px,#ffbb00 167.5px)"></i>
<i style="top:114px;left:53px;width:169px;background:linear-gradient(90deg,#00ffdf 0.5px,#00ffd3 35.5px,#00ffc4 56.5px,#00ffb2 70.5px,#00ffa0 79.5px,#00ff8e 85.5px,#20ff8c 86.5px,#32ff8c 87.5px,#49ff8a 89.5px,#61ff87 92.5px,#7fff82 97.5px,#a4ff7a 105.5px,#d4ff67 118.5px,#f8ff51 129.5px,#feff4c 131.5px,#ffec2e 138.5px,#ffe41b 141.5px,#ffe212 142.5px,#ffdf05 143.5px,#ffdd00 144.5px,#ffc500 158.5px,#ffb800 168.5px)"></i>
<i style="top:115px;left:53px;width:171px;background:linear-gradient(90deg,#00ffe0 0.5px,#00ffd3 35.5px,#00ffc5 56.5px,#00ffb4 70.5px,#00ffa2 79.5px,#00ff93 84.5px,#0cff90 85.5px,#28ff8f 86.5px,#37ff8e 87.5px,#4dff8d 89.5px,#65ff8a 92.5px,#82ff85 97.5px,#a7ff7d 105.5px,#d7ff6b 118.5px,#fbff56 129.5px,#fffd51 131.5px,#ffe730 139.5px,#ffe020 142.5px,#ffdb0f 144.5px,#ffd901 145.5px,#ffc100 159.5px,#ffb300 170.5px)"></i>
<i style="top:116px;left:53px;width:172px;background:linear-gradient(90deg,#00ffe1 0.5px,#00ffd4 36.5px,#00ffc5 57.5px,#00ffb3 71.5px,#00ffa1 80.5px,#00ff94 84.5px,#1aff93 85.5px,#2fff92 86.5px,#3cff91 87.5px,#51ff8f 89.5px,#68ff8d 92.5px,#85ff88 97.5px,#a9ff80 105.5px,#d9ff6f 118.5px,#fdff5b 129.5px,#fff752 132.5px,#ffe233 140.5px,#ffd91e 144.5px,#ffd616 145.5px,#ffd200 147.5px,#ffbb00 162.5px,#ffb000 171.5px)"></i>
<i style="top:117px;left:53px;width:173px;background:linear-gradient(90deg,#00ffe2 0.5px,#00ffd5 36.5px,#00ffc6 57.5px,#00ffb5 71.5px,#00ffa2 80.5px,#00ff96 84.5px,#24ff95 85.5px,#35ff94 86.5px,#4cff93 88.5px,#64ff91 91.5px,#82ff8c 96.5px,#a8ff84 104.5px,#d8ff75 117.5px,#fffe60 129.5px,#ffdd35 141.5px,#ffd422 145.5px,#ffd013 147.5px,#ffce08 148.5px,#ffcc00 149.5px,#ffb500 165.5px,#ffad00 172.5px)"></i>
<i style="top:118px;left:54px;width:174px;background:linear-gradient(90deg,#00ffe2 0.5px,#00ffd5 36.5px,#00ffc6 57.5px,#00ffb6 70.5px,#00ffa4 79.5px,#00ff9b 82.5px,#13ff99 83.5px,#2bff98 84.5px,#3aff97 85.5px,#50ff96 87.5px,#67ff93 90.5px,#85ff8f 95.5px,#aaff88 103.5px,#dbff78 116.5px,#ffff67 127.5px,#ffe042 138.5px,#ffd22a 144.5px,#ffcc19 147.5px,#ffca10 148.5px,#ffc804 149.5px,#ffc600 150.5px,#ffaf00 167.5px,#ffa800 173.5px)"></i>
<i style="top:119px;left:54px;width:175px;background:linear-gradient(90deg,#00ffe3 0.5px,#00ffd6 36.5px,#00ffc8 57.5px,#00ffb8 70.5px,#00ffa5 79.5px,#00ff9d 82.5px,#1fff9b 83.5px,#32ff9b 84.5px,#3fff9a 85.5px,#53ff98 87.5px,#71ff95 91.5px,#92ff90 97.5px,#bdff87 107.5px,#f5ff72 123.5px,#ffff6d 126.5px,#ffe04a 137.5px,#ffce2d 145.5px,#ffc81d 148.5px,#ffc40d 150.5px,#ffc201 151.5px,#ffaa00 169.5px,#ffa500 174.5px)"></i>
<i style="top:120px;left:54px;width:177px;background:linear-gradient(90deg,#00ffe4 0.5px,#00ffd7 36.5px,#00ffc9 57.5px,#00ffb9 70.5px,#00ffa7 79.5px,#00ffa1 81.5px,#08ff9f 82.5px,#27ff9e 83.5px,#38ff9d 84.5px,#4eff9c 86.5px,#67ff9a 89.5px,#85ff96 94.5px,#abff8f 102.5px,#dcff81 115.5px,#feff73 125.5px,#ffdb4b 138.5px,#ffca2f 146.5px,#ffc21b 150.5px,#ffc014 151.5px,#ffbc00 153.5px,#ffa500 172.5px,#ffa100 176.5px)"></i>
<i style="top:121px;left:54px;width:178px;background:linear-gradient(90deg,#00ffe4 0.5px,#00ffd8 36.5px,#00ffca 57.5px,#00ffbb 70.5px,#00ffa9 79.5px,#00ffa3 81.5px,#19ffa1 82.5px,#2fffa1 83.5px,#3dffa0 84.5px,#52ff9f 86.5px,#6aff9d 89.5px,#88ff99 94.5px,#adff92 102.5px,#dfff85 115.5px,#feff79 124.5px,#ffd94f 138.5px,#ffc531 147.5px,#ffbe1f 151.5px,#ffba11 153.5px,#ffb806 154.5px,#ffb700 155.5px,#ffa000 175.5px,#ff9e00 177.5px)"></i>
<i style="top:122px;left:54px;width:179px;background:linear-gradient(90deg,#00ffe5 0.5px,#00ffd9 37.5px,#00ffcb 58.5px,#00ffba 71.5px,#00ffaa 79.5px,#00ffa5 81.5px,#23ffa4 82.5px,#35ffa3 83.5px,#4dffa2 85.5px,#66ffa0 88.5px,#85ff9c 93.5px,#acff96 101.5px,#deff89 114.5px,#fdff7e 123.5px,#fff776 126.5px,#ffd753 138.5px,#ffc133 148.5px,#ffb81d 153.5px,#ffb40f 155.5px,#ffb303 156.5px,#ffb100 157.5px,#ff9b00 178.5px)"></i>
<i style="top:123px;left:55px;width:180px;background:linear-gradient(90deg,#00ffe6 0.5px,#00ffda 36.5px,#00ffcc 57.5px,#00ffbc 70.5px,#00ffac 78.5px,#00ffa9 79.5px,#10ffa7 80.5px,#2bffa7 81.5px,#3bffa6 82.5px,#51ffa5 84.5px,#69ffa3 87.5px,#88ff9f 92.5px,#aeff99 100.5px,#e1ff8d 113.5px,#fffe82 122.5px,#ffde61 133.5px,#ffbf38 147.5px,#ffb420 153.5px,#ffb114 155.5px,#ffaf0c 156.5px,#ffad00 157.5px,#ff9700 178.5px,#ff9700 179.5px)"></i>
<i style="top:124px;left:55px;width:181px;background:linear-gradient(90deg,#00ffe6 0.5px,#00ffda 37.5px,#00ffcc 58.5px,#00ffbc 71.5px,#00ffab 79.5px,#1effaa 80.5px,#32ffa9 81.5px,#40ffa9 82.5px,#55ffa8 84.5px,#6cffa6 87.5px,#8bffa2 92.5px,#b1ff9c 100.5px,#e3ff90 113.5px,#fffe87 121.5px,#ffde67 132.5px,#ffbd3d 147.5px,#ffb228 153.5px,#ffad19 156.5px,#ffab12 157.5px,#ffa800 159.5px,#ff9300 180.5px)"></i>
<i style="top:125px;left:55px;width:183px;background:linear-gradient(90deg,#00ffe7 0.5px,#00ffdb 37.5px,#00ffce 58.5px,#00ffbe 71.5px,#00ffb0 78.5px,#03ffad 79.5px,#27ffad 80.5px,#38ffac 81.5px,#50ffab 83.5px,#69ffa9 86.5px,#88ffa6 91.5px,#afffa0 99.5px,#e3ff95 112.5px,#ffff8c 120.5px,#ffde6d 131.5px,#ffbf47 145.5px,#ffae2a 154.5px,#ffa817 158.5px,#ffa610 159.5px,#ffa405 160.5px,#ffa300 161.5px,#ff8f00 182.5px)"></i>
<i style="top:126px;left:55px;width:184px;background:linear-gradient(90deg,#00ffe8 0.5px,#00ffdd 37.5px,#00ffcf 58.5px,#00ffbf 71.5px,#00ffb1 78.5px,#2fffaf 80.5px,#3effaf 81.5px,#54ffae 83.5px,#6cffac 86.5px,#8bffa9 91.5px,#b2ffa3 99.5px,#e5ff99 112.5px,#feff91 119.5px,#ffdc6f 131.5px,#ffbb48 146.5px,#ffaa2c 155.5px,#ffa41b 159.5px,#ffa10d 161.5px,#ff9f03 162.5px,#ff9e00 163.5px,#ff8c00 183.5px)"></i>
<i style="top:127px;left:55px;width:185px;background:linear-gradient(90deg,#00ffe9 0.5px,#00ffde 37.5px,#00ffd0 58.5px,#00ffc1 71.5px,#00ffb3 78.5px,#22ffb3 79.5px,#35ffb2 80.5px,#43ffb2 81.5px,#58ffb0 83.5px,#6fffaf 86.5px,#8effac 91.5px,#b4ffa6 99.5px,#e8ff9c 112.5px,#feff96 118.5px,#ffd972 131.5px,#ffb84b 146.5px,#ffa72e 156.5px,#ffa01e 160.5px,#ff9d13 162.5px,#ff9a00 164.5px,#ff8900 184.5px)"></i>
<i style="top:128px;left:56px;width:186px;background:linear-gradient(90deg,#00ffe9 0.5px,#00ffde 37.5px,#00ffd1 58.5px,#00ffc1 71.5px,#00ffb8 76.5px,#0dffb6 77.5px,#2bffb5 78.5px,#3bffb5 79.5px,#52ffb4 81.5px,#6cffb2 84.5px,#8bffaf 89.5px,#b3ffaa 97.5px,#e7ffa0 110.5px,#fdff9b 116.5px,#fff693 119.5px,#ffd774 130.5px,#ffb64f 145.5px,#ffa330 156.5px,#ff9b1c 161.5px,#ff9810 163.5px,#ff9500 165.5px,#ff8500 185.5px)"></i>
<i style="top:129px;left:56px;width:187px;background:linear-gradient(90deg,#00ffea 0.5px,#00ffdf 38.5px,#00ffd2 59.5px,#00ffc3 71.5px,#00ffba 76.5px,#1cffb9 77.5px,#32ffb8 78.5px,#41ffb8 79.5px,#57ffb7 81.5px,#6fffb5 84.5px,#8effb2 89.5px,#b6ffad 97.5px,#eaffa4 110.5px,#fffe9e 116.5px,#ffdf81 126.5px,#ffbe5e 140.5px,#ffa135 156.5px,#ff981f 162.5px,#ff9515 164.5px,#ff930e 165.5px,#ff9205 166.5px,#ff9000 167.5px,#ff8200 186.5px)"></i>
<i style="top:130px;left:56px;width:189px;background:linear-gradient(90deg,#00ffeb 0.5px,#00ffe0 38.5px,#00ffd3 59.5px,#00ffc5 71.5px,#00ffbc 76.5px,#27ffbb 77.5px,#39ffbb 78.5px,#51ffba 80.5px,#6bffb8 83.5px,#8bffb6 88.5px,#b4ffb1 96.5px,#e9ffa8 109.5px,#fffea3 115.5px,#ffdf85 125.5px,#ffc065 138.5px,#ff9d36 157.5px,#ff9422 163.5px,#ff9013 166.5px,#ff8d02 168.5px,#ff8b00 170.5px,#ff7e00 188.5px)"></i>
<i style="top:131px;left:56px;width:190px;background:linear-gradient(90deg,#00ffec 0.5px,#00ffe1 38.5px,#00ffd5 59.5px,#00ffc7 71.5px,#00ffc0 75.5px,#15ffbe 76.5px,#2fffbe 77.5px,#3fffbe 78.5px,#55ffbd 80.5px,#6fffbb 83.5px,#8effb9 88.5px,#b7ffb4 96.5px,#ecffac 109.5px,#ffffa8 114.5px,#ffdf8a 124.5px,#ffbf6a 137.5px,#ff9e3f 155.5px,#ff9228 163.5px,#ff8c17 167.5px,#ff8909 169.5px,#ff8800 170.5px,#ff7a00 189.5px)"></i>
<i style="top:132px;left:56px;width:191px;background:linear-gradient(90deg,#00ffed 0.5px,#00ffe2 39.5px,#00ffd6 60.5px,#00ffc7 72.5px,#00ffc2 75.5px,#21ffc1 76.5px,#36ffc1 77.5px,#44ffc0 78.5px,#5affc0 80.5px,#72ffbe 83.5px,#91ffbc 88.5px,#b9ffb8 96.5px,#efffaf 109.5px,#feffac 113.5px,#ffdc8c 124.5px,#ffbd6c 137.5px,#ff9b41 156.5px,#ff8d27 165.5px,#ff8715 169.5px,#ff8300 172.5px,#ff7700 190.5px)"></i>
<i style="top:133px;left:57px;width:192px;background:linear-gradient(90deg,#00ffed 0.5px,#00ffe3 39.5px,#00ffd7 59.5px,#00ffc9 71.5px,#00ffc6 73.5px,#09ffc4 74.5px,#2bffc4 75.5px,#3cffc4 76.5px,#54ffc3 78.5px,#6effc2 81.5px,#8fffbf 86.5px,#b8ffbb 94.5px,#eeffb4 107.5px,#feffb1 111.5px,#ffd98e 123.5px,#ffb96c 137.5px,#ff9741 156.5px,#ff8929 165.5px,#ff8419 169.5px,#ff810d 171.5px,#ff8004 172.5px,#ff7f00 173.5px,#ff7300 191.5px)"></i>
<i style="top:134px;left:57px;width:193px;background:linear-gradient(90deg,#00ffee 0.5px,#00ffe4 39.5px,#00ffd8 60.5px,#00ffca 72.5px,#00ffc8 73.5px,#1bffc7 74.5px,#32ffc7 75.5px,#42ffc7 76.5px,#58ffc6 78.5px,#72ffc5 81.5px,#92ffc2 86.5px,#bbffbf 94.5px,#f2ffb7 107.5px,#fdffb5 110.5px,#fff6ac 113.5px,#ffd790 123.5px,#ffb66e 137.5px,#ff9342 157.5px,#ff8427 167.5px,#ff7f17 171.5px,#ff7c0a 173.5px,#ff7b02 174.5px,#ff7800 178.5px,#ff6f00 192.5px)"></i>
<i style="top:135px;left:57px;width:194px;background:linear-gradient(90deg,#00ffef 0.5px,#00ffe5 40.5px,#00ffda 60.5px,#00ffcc 72.5px,#00ffcb 73.5px,#26ffca 74.5px,#39ffca 75.5px,#47ffc9 76.5px,#5dffc9 78.5px,#75ffc8 81.5px,#95ffc5 86.5px,#beffc2 94.5px,#f9ffba 108.5px,#fffeb8 110.5px,#ffdf9c 119.5px,#ffbe7b 132.5px,#ff9c55 150.5px,#ff8532 165.5px,#ff7d1f 171.5px,#ff7810 174.5px,#ff7600 176.5px,#ff6c00 193.5px)"></i>
<i style="top:136px;left:57px;width:196px;background:linear-gradient(90deg,#00fff0 0.5px,#00ffe6 41.5px,#00ffdb 61.5px,#00ffcf 72.5px,#12ffcd 73.5px,#2fffcd 74.5px,#3fffcd 75.5px,#57ffcc 77.5px,#71ffcb 80.5px,#92ffc9 85.5px,#bcffc6 93.5px,#f4ffbf 106.5px,#fffebd 109.5px,#ffdfa0 118.5px,#ffc082 130.5px,#ff9f5d 147.5px,#ff8336 165.5px,#ff7921 172.5px,#ff7514 175.5px,#ff7100 178.5px,#ff6800 195.5px)"></i>
<i style="top:137px;left:58px;width:196px;background:linear-gradient(90deg,#00fff1 0.5px,#00ffe7 41.5px,#00ffdc 61.5px,#00ffd1 71.5px,#20ffd0 72.5px,#36ffd0 73.5px,#45ffd0 74.5px,#5cffcf 76.5px,#75ffce 79.5px,#96ffcc 84.5px,#bfffc9 92.5px,#fbffc2 106.5px,#ffffc2 107.5px,#ffe0a5 116.5px,#ffc086 128.5px,#ff9e62 145.5px,#ff7f37 165.5px,#ff7420 173.5px,#ff7012 176.5px,#ff6d03 178.5px,#ff6c00 179.5px,#ff6400 195.5px)"></i>
<i style="top:138px;left:58px;width:198px;background:linear-gradient(90deg,#00fff2 0.5px,#00ffe9 41.5px,#00ffde 61.5px,#00ffd5 70.5px,#04ffd3 71.5px,#2affd3 72.5px,#3dffd3 73.5px,#56ffd2 75.5px,#71ffd1 78.5px,#93ffd0 83.5px,#bdffcd 91.5px,#f6ffc7 104.5px,#ffffc6 106.5px,#ffdda6 116.5px,#ffbe88 128.5px,#ff9c64 145.5px,#ff7a36 167.5px,#ff7022 174.5px,#ff6b10 178.5px,#ff6801 180.5px,#ff5f00 197.5px)"></i>
<i style="top:139px;left:58px;width:199px;background:linear-gradient(90deg,#00fff2 0.5px,#00ffea 42.5px,#00ffdf 62.5px,#00ffd7 70.5px,#33ffd6 72.5px,#43ffd6 73.5px,#5affd5 75.5px,#75ffd4 78.5px,#96ffd3 83.5px,#c0ffd0 91.5px,#faffcb 104.5px,#feffca 105.5px,#ffdaa7 116.5px,#ffb987 129.5px,#ff9662 147.5px,#ff7637 168.5px,#ff6b21 176.5px,#ff6714 179.5px,#ff6300 182.5px,#ff5c00 198.5px)"></i>
<i style="top:140px;left:58px;width:200px;background:linear-gradient(90deg,#00fff3 0.5px,#00ffeb 43.5px,#00ffe1 63.5px,#00ffda 70.5px,#25ffd9 71.5px,#3affd9 72.5px,#49ffd9 73.5px,#5fffd8 75.5px,#78ffd8 78.5px,#99ffd6 83.5px,#c4ffd4 91.5px,#fdffcf 104.5px,#fff9c8 106.5px,#ffdaac 115.5px,#ffbb8d 127.5px,#ff996a 144.5px,#ff7338 169.5px,#ff6823 177.5px,#ff6213 181.5px,#ff5f05 183.5px,#ff5e00 184.5px,#ff5700 199.5px)"></i>
<i style="top:141px;left:58px;width:202px;background:linear-gradient(90deg,#00fff4 0.5px,#00ffec 44.5px,#00ffe2 64.5px,#00ffde 69.5px,#0fffdd 70.5px,#2fffdc 71.5px,#40ffdc 72.5px,#59ffdc 74.5px,#74ffdb 77.5px,#97ffda 82.5px,#c2ffd7 90.5px,#fcffd3 103.5px,#fffdd1 104.5px,#ffddb3 113.5px,#ffbd93 125.5px,#ff9a70 142.5px,#ff723d 168.5px,#ff6425 178.5px,#ff5e16 182.5px,#ff5b0b 184.5px,#ff5a03 185.5px,#ff5900 186.5px,#ff5300 201.5px)"></i>
<i style="top:142px;left:59px;width:202px;background:linear-gradient(90deg,#00fff5 0.5px,#00ffed 45.5px,#00ffe3 65.5px,#00ffe0 68.5px,#1fffe0 69.5px,#37ffe0 70.5px,#46ffdf 71.5px,#5effdf 73.5px,#78ffde 76.5px,#9affdd 81.5px,#c5ffdb 89.5px,#fcffd7 101.5px,#fffed6 102.5px,#ffddb7 111.5px,#ffbc97 123.5px,#ff9b75 139.5px,#ff7346 164.5px,#ff6129 177.5px,#ff5a19 182.5px,#ff570f 184.5px,#ff5501 186.5px,#ff4e00 201.5px)"></i>
<i style="top:143px;left:59px;width:204px;background:linear-gradient(90deg,#00fff6 0.5px,#00ffef 46.5px,#00ffe5 66.5px,#00ffe3 68.5px,#2affe3 69.5px,#3effe3 70.5px,#4cffe2 71.5px,#62ffe2 73.5px,#7cffe1 76.5px,#9dffe0 81.5px,#c8ffde 89.5px,#ffffdb 101.5px,#ffe1be 109.5px,#ffc1a0 120.5px,#ffa07f 135.5px,#ff7a54 158.5px,#ff6132 175.5px,#ff571f 182.5px,#ff5313 185.5px,#ff4f00 188.5px,#ff4900 203.5px)"></i>
<i style="top:144px;left:59px;width:205px;background:linear-gradient(90deg,#00fff7 0.5px,#00fff0 47.5px,#00ffe7 67.5px,#17ffe6 68.5px,#33ffe6 69.5px,#44ffe6 70.5px,#5dffe5 72.5px,#78ffe5 75.5px,#9bffe4 80.5px,#c7ffe2 88.5px,#ffffdf 100.5px,#ffddbf 109.5px,#ffbea1 120.5px,#ff9c7e 136.5px,#ff7453 160.5px,#ff5c31 177.5px,#ff521e 184.5px,#ff4d12 187.5px,#ff4a04 189.5px,#ff4900 190.5px,#ff4400 204.5px)"></i>
<i style="top:145px;left:59px;width:206px;background:linear-gradient(90deg,#00fff8 0.5px,#00fff1 49.5px,#00ffea 67.5px,#25ffe9 68.5px,#3bffe9 69.5px,#4affe9 70.5px,#61ffe9 72.5px,#7cffe8 75.5px,#9effe7 80.5px,#caffe6 88.5px,#feffe3 99.5px,#ffdac0 109.5px,#ffb9a0 121.5px,#ff987e 137.5px,#ff6d50 163.5px,#ff5630 179.5px,#ff4c1d 186.5px,#ff4710 189.5px,#ff4403 191.5px,#ff4300 192.5px,#ff3f00 205.5px)"></i>
<i style="top:146px;left:60px;width:207px;background:linear-gradient(90deg,#00fff9 0.5px,#00fff3 50.5px,#00ffed 65.5px,#0affed 66.5px,#2fffec 67.5px,#42ffec 68.5px,#5cffec 70.5px,#78ffec 73.5px,#9bffeb 78.5px,#c9ffea 86.5px,#fdffe8 97.5px,#fff8e1 99.5px,#ffd7c1 108.5px,#ffb6a1 120.5px,#ff937e 137.5px,#ff664c 165.5px,#ff502f 180.5px,#ff461b 187.5px,#ff410e 190.5px,#ff3d01 192.5px,#ff3900 206.5px)"></i>
<i style="top:147px;left:60px;width:208px;background:linear-gradient(90deg,#00fffa 0.5px,#00fff4 53.5px,#00fff0 65.5px,#1efff0 66.5px,#37fff0 67.5px,#48fff0 68.5px,#60ffef 70.5px,#7cffef 73.5px,#9fffef 78.5px,#ccffee 86.5px,#fcffec 96.5px,#fffdea 97.5px,#ffdecc 105.5px,#ffbdac 116.5px,#ff9c8b 131.5px,#ff7461 154.5px,#ff5037 178.5px,#ff4221 187.5px,#ff3b12 191.5px,#ff3600 194.5px,#ff3300 207.5px)"></i>
<i style="top:148px;left:60px;width:210px;background:linear-gradient(90deg,#00fffb 0.5px,#00fff6 56.5px,#00fff3 65.5px,#2afff3 66.5px,#3ffff3 67.5px,#4efff3 68.5px,#65fff3 70.5px,#80fff3 73.5px,#a3fff2 78.5px,#d0fff1 86.5px,#fcfff0 95.5px,#fffeef 96.5px,#ffded0 104.5px,#ffbdb0 115.5px,#ff9b8e 130.5px,#ff7365 153.5px,#ff4c38 179.5px,#ff3d23 188.5px,#ff3615 192.5px,#ff3004 195.5px,#ff2e00 196.5px,#ff2b00 209.5px)"></i>
<i style="top:149px;left:61px;width:210px;background:linear-gradient(90deg,#00fffc 0.5px,#00fff7 60.5px,#00fff7 63.5px,#14fff7 64.5px,#33fff7 65.5px,#45fff6 66.5px,#5ffff6 68.5px,#7cfff6 71.5px,#a0fff6 76.5px,#cefff5 84.5px,#fffff4 94.5px,#ffded4 102.5px,#ffbfb6 112.5px,#ff9f95 126.5px,#ff776d 148.5px,#ff4739 179.5px,#ff3522 189.5px,#ff2d14 193.5px,#ff2602 196.5px,#ff2500 198.5px,#ff2300 209.5px)"></i>
<i style="top:150px;left:61px;width:211px;background:linear-gradient(90deg,#00fffd 0.5px,#00fffa 63.5px,#24fffa 64.5px,#3cfffa 65.5px,#4cfffa 66.5px,#64fffa 68.5px,#80fffa 71.5px,#a3fffa 76.5px,#d2fff9 84.5px,#fffff9 93.5px,#ffded9 101.5px,#ffbfba 111.5px,#ff9e99 125.5px,#ff7872 146.5px,#ff4037 181.5px,#ff2c21 191.5px,#ff2312 195.5px,#ff1a00 198.5px,#ff1700 210.5px)"></i>
<i style="top:151px;left:61px;width:213px;background:linear-gradient(90deg,#00fffe 0.5px,#00fffd 62.5px,#04fffd 63.5px,#2ffffd 64.5px,#43fffd 65.5px,#52fffd 66.5px,#69fffd 68.5px,#84fffd 71.5px,#a7fffd 76.5px,#d5fffd 84.5px,#fefffd 92.5px,#ffdbd9 101.5px,#ffbcbb 111.5px,#ff9b9a 125.5px,#ff7372 147.5px,#ff3a38 182.5px,#ff2422 192.5px,#ff1411 197.5px,#ff0500 200.5px,#ff0300 212.5px)"></i>
<i style="top:152px;left:61px;width:214px;background:linear-gradient(90deg,#00ffff 0.5px,#00fdff 62.5px,#37fdff 64.5px,#49fdff 65.5px,#62fdff 67.5px,#7ffdff 70.5px,#a3fdff 75.5px,#d2fdff 83.5px,#fffcff 92.5px,#ffdfe1 99.5px,#ffbfc1 109.5px,#ff9d9f 123.5px,#ff7578 144.5px,#ff373d 181.5px,#ff2029 191.5px,#ff121e 195.5px,#ff0014 198.5px,#ff0013 213.5px)"></i>
<i style="top:153px;left:62px;width:214px;background:linear-gradient(90deg,#00fdff 0.5px,#00faff 61.5px,#28faff 62.5px,#3efaff 63.5px,#4efaff 64.5px,#66f9ff 66.5px,#81f9ff 69.5px,#a4f9ff 74.5px,#d2f9ff 82.5px,#fff8ff 91.5px,#ffd7de 99.5px,#ffb9bf 109.5px,#ff989e 123.5px,#ff7178 144.5px,#ff3944 177.5px,#ff2233 187.5px,#ff152a 191.5px,#ff0323 194.5px,#ff0022 195.5px,#ff001f 213.5px)"></i>
<i style="top:154px;left:62px;width:216px;background:linear-gradient(90deg,#00fcff 0.5px,#00f8ff 56.5px,#00f7ff 60.5px,#10f6ff 61.5px,#32f6ff 62.5px,#44f6ff 63.5px,#5ef6ff 65.5px,#7bf6ff 68.5px,#9ff5ff 73.5px,#cdf5ff 81.5px,#fff4ff 91.5px,#ffd4df 99.5px,#ffb6c0 109.5px,#ff959f 123.5px,#ff6e7a 144.5px,#ff384a 175.5px,#ff2139 185.5px,#ff1332 189.5px,#ff002b 192.5px,#ff0027 215.5px)"></i>
<i style="top:155px;left:62px;width:217px;background:linear-gradient(90deg,#00fbff 0.5px,#00f6ff 52.5px,#00f3ff 60.5px,#21f3ff 61.5px,#39f3ff 62.5px,#49f3ff 63.5px,#62f3ff 65.5px,#7df2ff 68.5px,#a0f2ff 73.5px,#cef1ff 81.5px,#feefff 91.5px,#ffcddc 100.5px,#ffadbc 111.5px,#ff8c9b 126.5px,#ff6373 149.5px,#ff364d 174.5px,#ff203f 183.5px,#ff1038 187.5px,#ff0334 189.5px,#ff0033 190.5px,#ff002e 216.5px)"></i>
<i style="top:156px;left:62px;width:219px;background:linear-gradient(90deg,#00faff 0.5px,#00f4ff 48.5px,#00f0ff 60.5px,#2bf0ff 61.5px,#3fefff 62.5px,#4eefff 63.5px,#65efff 65.5px,#7fefff 68.5px,#a2eeff 73.5px,#ceedff 81.5px,#feebff 91.5px,#ffcadd 100.5px,#ffaabd 111.5px,#ff899c 126.5px,#ff5f74 149.5px,#ff3552 172.5px,#ff2246 180.5px,#ff1340 184.5px,#ff003b 187.5px,#ff0033 218.5px)"></i>
<i style="top:157px;left:63px;width:219px;background:linear-gradient(90deg,#00f9ff 0.5px,#00f2ff 45.5px,#00edff 58.5px,#17ecff 59.5px,#34ecff 60.5px,#45ecff 61.5px,#5eecff 63.5px,#7aebff 66.5px,#9deaff 71.5px,#cae9ff 79.5px,#fee7ff 90.5px,#ffc3da 100.5px,#ffa5bb 111.5px,#ff8299 127.5px,#ff5570 152.5px,#ff3356 170.5px,#ff1d4a 178.5px,#ff1145 181.5px,#ff0342 183.5px,#ff0041 184.5px,#ff0038 218.5px)"></i>
<i style="top:158px;left:63px;width:220px;background:linear-gradient(90deg,#00f8ff 0.5px,#00f1ff 43.5px,#00e9ff 58.5px,#25e9ff 59.5px,#3be9ff 60.5px,#4ae9ff 61.5px,#61e8ff 63.5px,#7ce8ff 66.5px,#9ee7ff 71.5px,#cae5ff 79.5px,#fee3ff 90.5px,#ffcde8 96.5px,#ffaec9 106.5px,#ff8da8 120.5px,#ff6784 140.5px,#ff365d 166.5px,#ff2252 174.5px,#ff134c 178.5px,#ff0047 181.5px,#ff003d 219.5px)"></i>
<i style="top:159px;left:63px;width:222px;background:linear-gradient(90deg,#00f7ff 0.5px,#00efff 41.5px,#00e7ff 57.5px,#0ae6ff 58.5px,#2ee6ff 59.5px,#41e6ff 60.5px,#5ae5ff 62.5px,#76e5ff 65.5px,#99e3ff 70.5px,#c6e2ff 78.5px,#fddeff 90.5px,#ffd4f4 93.5px,#ffb6d5 102.5px,#ff97b6 114.5px,#ff7494 131.5px,#ff4068 159.5px,#ff2759 170.5px,#ff1652 175.5px,#ff0b4f 177.5px,#ff034e 178.5px,#ff004d 179.5px,#ff0040 221.5px)"></i>
<i style="top:160px;left:64px;width:222px;background:linear-gradient(90deg,#00f5ff 0.5px,#00edff 39.5px,#00e3ff 56.5px,#1de3ff 57.5px,#36e2ff 58.5px,#46e2ff 59.5px,#5ee2ff 61.5px,#78e1ff 64.5px,#9ae0ff 69.5px,#c6deff 77.5px,#fddaff 89.5px,#ffd4f9 91.5px,#ffb6d9 100.5px,#ff96b9 112.5px,#ff7397 129.5px,#ff406d 156.5px,#ff265d 167.5px,#ff1456 172.5px,#ff0052 175.5px,#ff0044 221.5px)"></i>
<i style="top:161px;left:64px;width:224px;background:linear-gradient(90deg,#00f4ff 0.5px,#00ecff 37.5px,#00e2ff 54.5px,#00e0ff 56.5px,#28dfff 57.5px,#3cdfff 58.5px,#4bdfff 59.5px,#61deff 61.5px,#7adeff 64.5px,#9cdcff 69.5px,#c7daff 77.5px,#fdd6ff 89.5px,#ffd0f9 91.5px,#ffb2d9 100.5px,#ff93ba 112.5px,#ff7098 129.5px,#ff3b6e 156.5px,#ff2562 165.5px,#ff165c 169.5px,#ff0b59 171.5px,#ff0358 172.5px,#ff0057 173.5px,#ff0047 221.5px,#ff0047 223.5px)"></i>
<i style="top:162px;left:64px;width:225px;background:linear-gradient(90deg,#00f3ff 0.5px,#00eaff 36.5px,#00dfff 53.5px,#00ddff 55.5px,#13dcff 56.5px,#30dcff 57.5px,#42dcff 58.5px,#5adbff 60.5px,#75dbff 63.5px,#97d9ff 68.5px,#c2d7ff 76.5px,#fdd2ff 89.5px,#ffd0fd 90.5px,#ffb2dd 99.5px,#ff92bd 111.5px,#ff6e9b 128.5px,#ff3b72 154.5px,#ff2466 163.5px,#ff1460 167.5px,#ff005c 170.5px,#ff004c 215.5px,#ff004a 224.5px)"></i>
<i style="top:163px;left:65px;width:225px;background:linear-gradient(90deg,#00f1ff 0.5px,#00e8ff 34.5px,#00ddff 51.5px,#00daff 54.5px,#21d9ff 55.5px,#37d9ff 56.5px,#47d9ff 57.5px,#5dd8ff 59.5px,#77d7ff 62.5px,#98d6ff 67.5px,#c3d3ff 75.5px,#fcceff 88.5px,#ffccfe 89.5px,#ffaede 98.5px,#ff8fbe 110.5px,#ff6b9c 127.5px,#ff3875 152.5px,#ff226a 160.5px,#ff1265 164.5px,#ff0362 166.5px,#ff0061 167.5px,#ff0050 210.5px,#ff004d 224.5px)"></i>
<i style="top:164px;left:65px;width:227px;background:linear-gradient(90deg,#00f0ff 0.5px,#00e7ff 33.5px,#00dbff 50.5px,#00d7ff 53.5px,#03d6ff 54.5px,#2bd6ff 55.5px,#3dd6ff 56.5px,#56d5ff 58.5px,#72d4ff 61.5px,#94d2ff 66.5px,#bed0ff 74.5px,#f8caff 87.5px,#ffc8fe 89.5px,#ffaade 98.5px,#ff8bbf 110.5px,#ff679d 127.5px,#ff3879 150.5px,#ff216e 158.5px,#ff146a 161.5px,#ff0066 164.5px,#ff0055 205.5px,#ff004f 226.5px)"></i>
<i style="top:165px;left:65px;width:228px;background:linear-gradient(90deg,#00efff 0.5px,#00e5ff 32.5px,#00daff 48.5px,#00d4ff 53.5px,#32d3ff 55.5px,#42d2ff 56.5px,#5ad2ff 58.5px,#74d1ff 61.5px,#95cfff 66.5px,#bfccff 74.5px,#f8c6ff 87.5px,#ffc4fe 89.5px,#ffa7df 98.5px,#ff88bf 110.5px,#ff649e 127.5px,#ff377d 148.5px,#ff2072 156.5px,#ff126e 159.5px,#ff036b 161.5px,#ff006a 162.5px,#ff0059 202.5px,#ff0051 227.5px)"></i>
<i style="top:166px;left:66px;width:229px;background:linear-gradient(90deg,#00eeff 0.5px,#00e4ff 30.5px,#00d8ff 46.5px,#00d0ff 52.5px,#24d0ff 53.5px,#39d0ff 54.5px,#47cfff 55.5px,#5dcfff 57.5px,#76cdff 60.5px,#96ccff 65.5px,#c0c8ff 73.5px,#fcc1ff 87.5px,#ffc0fe 88.5px,#ffa3df 97.5px,#ff84c0 109.5px,#ff609f 126.5px,#ff3681 145.5px,#ff2277 152.5px,#ff1573 155.5px,#ff006f 158.5px,#ff005d 196.5px,#ff0054 228.5px)"></i>
<i style="top:167px;left:66px;width:228px;background:linear-gradient(90deg,#00ecff 0.5px,#00e2ff 30.5px,#00d5ff 46.5px,#00ceff 51.5px,#0ecdff 52.5px,#2dcdff 53.5px,#3eccff 54.5px,#56ccff 56.5px,#71cbff 59.5px,#92c8ff 64.5px,#bcc5ff 72.5px,#f3beff 85.5px,#ffbcff 88.5px,#ff9fe0 97.5px,#ff81c1 109.5px,#ff5c9f 126.5px,#ff3685 143.5px,#ff207b 150.5px,#ff1277 153.5px,#ff0374 155.5px,#ff0073 156.5px,#ff0061 192.5px,#ff0056 227.5px)"></i>
<i style="top:168px;left:66px;width:225px;background:linear-gradient(90deg,#00ebff 0.5px,#00e0ff 29.5px,#00d3ff 45.5px,#00cbff 51.5px,#1dcaff 52.5px,#34caff 53.5px,#43c9ff 54.5px,#5ac8ff 56.5px,#73c7ff 59.5px,#93c5ff 64.5px,#bcc1ff 72.5px,#f3baff 85.5px,#ffb8ff 88.5px,#ff9ce0 97.5px,#ff7dc2 109.5px,#ff58a0 126.5px,#ff3287 142.5px,#ff1f7f 148.5px,#ff0f7b 151.5px,#ff0078 153.5px,#ff0066 187.5px,#ff0059 224.5px)"></i>
<i style="top:169px;left:66px;width:222px;background:linear-gradient(90deg,#00eaff 0.5px,#00dfff 28.5px,#00d1ff 44.5px,#00c7ff 51.5px,#27c7ff 52.5px,#3ac6ff 53.5px,#48c6ff 54.5px,#5dc5ff 56.5px,#7cc3ff 60.5px,#9fc1ff 66.5px,#cabcff 75.5px,#ffb4ff 88.5px,#ff95de 98.5px,#ff75be 111.5px,#ff4d9c 129.5px,#ff2f8a 141.5px,#ff1d83 146.5px,#ff1380 148.5px,#ff037d 150.5px,#ff007c 151.5px,#ff006a 184.5px,#ff005d 221.5px)"></i>
<i style="top:170px;left:67px;width:218px;background:linear-gradient(90deg,#00e8ff 0.5px,#00ddff 27.5px,#00d0ff 42.5px,#00c5ff 49.5px,#15c4ff 50.5px,#2fc4ff 51.5px,#3fc3ff 52.5px,#56c2ff 54.5px,#70c1ff 57.5px,#90bfff 62.5px,#b9baff 70.5px,#efb2ff 83.5px,#ffafff 87.5px,#ff91df 97.5px,#ff71bf 110.5px,#ff489d 128.5px,#ff2a8c 139.5px,#ff1b87 143.5px,#ff1084 145.5px,#ff0081 147.5px,#ff006e 179.5px,#ff0060 217.5px)"></i>
<i style="top:171px;left:67px;width:215px;background:linear-gradient(90deg,#00e7ff 0.5px,#00dcff 26.5px,#00ceff 41.5px,#00c2ff 49.5px,#21c1ff 50.5px,#36c0ff 51.5px,#44c0ff 52.5px,#5abfff 54.5px,#72beff 57.5px,#91bbff 62.5px,#b9b7ff 70.5px,#efaeff 83.5px,#feabff 87.5px,#ff8bdc 98.5px,#ff6bbd 111.5px,#ff3e9b 130.5px,#ff268f 138.5px,#ff1389 142.5px,#ff0386 144.5px,#ff0085 145.5px,#ff0072 176.5px,#ff0063 214.5px)"></i>
<i style="top:172px;left:67px;width:212px;background:linear-gradient(90deg,#00e6ff 0.5px,#00daff 26.5px,#00cbff 41.5px,#00c0ff 48.5px,#08beff 49.5px,#2abeff 50.5px,#3bbdff 51.5px,#53bcff 53.5px,#6dbbff 56.5px,#8db8ff 61.5px,#b6b4ff 69.5px,#ebabff 82.5px,#fea7ff 87.5px,#ff84da 99.5px,#ff62ba 113.5px,#ff389c 130.5px,#ff2091 137.5px,#ff108d 140.5px,#ff008a 142.5px,#ff0077 171.5px,#ff0066 211.5px)"></i>
<i style="top:173px;left:68px;width:208px;background:linear-gradient(90deg,#00e4ff 0.5px,#00d8ff 25.5px,#00caff 39.5px,#00bcff 47.5px,#1abbff 48.5px,#31bbff 49.5px,#40baff 50.5px,#56b9ff 52.5px,#6fb8ff 55.5px,#8fb5ff 60.5px,#b6b0ff 68.5px,#eba7ff 81.5px,#fea2ff 86.5px,#ff80db 98.5px,#ff5dbb 112.5px,#ff349e 128.5px,#ff1e95 134.5px,#ff1492 136.5px,#ff038f 138.5px,#ff008e 139.5px,#ff007a 167.5px,#ff0069 207.5px)"></i>
<i style="top:174px;left:68px;width:205px;background:linear-gradient(90deg,#00e3ff 0.5px,#00d6ff 24.5px,#00c8ff 38.5px,#00b9ff 47.5px,#24b8ff 48.5px,#37b7ff 49.5px,#45b7ff 50.5px,#59b6ff 52.5px,#78b4ff 56.5px,#9ab0ff 62.5px,#c4aaff 71.5px,#fe9eff 86.5px,#ff81e1 96.5px,#ff60c1 109.5px,#ff36a4 125.5px,#ff219a 131.5px,#ff1196 134.5px,#ff0093 136.5px,#ff007f 163.5px,#ff006c 204.5px)"></i>
<i style="top:175px;left:69px;width:201px;background:linear-gradient(90deg,#00e1ff 0.5px,#00d4ff 23.5px,#00c5ff 37.5px,#00b7ff 45.5px,#11b5ff 46.5px,#2cb5ff 47.5px,#3cb4ff 48.5px,#53b3ff 50.5px,#6cb2ff 53.5px,#8cafff 58.5px,#b3a9ff 66.5px,#e89fff 79.5px,#fd99ff 85.5px,#ff8ef3 89.5px,#ff70d4 100.5px,#ff49b4 115.5px,#ff2ca3 125.5px,#ff1a9d 129.5px,#ff0d9a 131.5px,#ff0298 132.5px,#ff0097 133.5px,#ff0083 159.5px,#ff0070 198.5px,#ff006f 200.5px)"></i>
<i style="top:176px;left:69px;width:198px;background:linear-gradient(90deg,#00e0ff 0.5px,#00d2ff 23.5px,#00c3ff 37.5px,#00b3ff 45.5px,#1eb2ff 46.5px,#33b2ff 47.5px,#41b1ff 48.5px,#56b0ff 50.5px,#6eaeff 53.5px,#8dabff 58.5px,#b4a6ff 66.5px,#e89bff 79.5px,#fd95ff 85.5px,#ff8df6 88.5px,#ff6ed7 99.5px,#ff46b7 114.5px,#ff2aa7 123.5px,#ff18a1 127.5px,#ff119f 128.5px,#ff009c 130.5px,#ff0087 155.5px,#ff0074 192.5px,#ff0072 197.5px)"></i>
<i style="top:177px;left:69px;width:195px;background:linear-gradient(90deg,#00deff 0.5px,#00d1ff 22.5px,#00c1ff 36.5px,#00b2ff 44.5px,#03b0ff 45.5px,#27afff 46.5px,#38aeff 47.5px,#50adff 49.5px,#69acff 52.5px,#89a8ff 57.5px,#b0a3ff 65.5px,#e498ff 78.5px,#fd90ff 85.5px,#ff8bfa 87.5px,#ff6cda 98.5px,#ff43ba 113.5px,#ff29ab 121.5px,#ff1ba6 124.5px,#ff0da3 126.5px,#ff02a2 127.5px,#ff009f 129.5px,#ff008b 153.5px,#ff0077 189.5px,#ff0075 194.5px)"></i>
<i style="top:178px;left:70px;width:191px;background:linear-gradient(90deg,#00dcff 0.5px,#00cfff 21.5px,#00c0ff 34.5px,#00aeff 43.5px,#2eacff 45.5px,#3dabff 46.5px,#53aaff 48.5px,#6ba8ff 51.5px,#8aa5ff 56.5px,#b19fff 64.5px,#e493ff 77.5px,#fd8cff 84.5px,#ff86fa 86.5px,#ff67db 97.5px,#ff3dba 112.5px,#ff27b0 118.5px,#ff19aa 121.5px,#ff12a9 122.5px,#ff00a6 124.5px,#ff0090 147.5px,#ff007c 181.5px,#ff0078 190.5px)"></i>
<i style="top:179px;left:70px;width:189px;background:linear-gradient(90deg,#00dbff 0.5px,#00cdff 21.5px,#00bdff 34.5px,#00adff 42.5px,#00aaff 43.5px,#21a9ff 44.5px,#34a9ff 45.5px,#42a8ff 46.5px,#56a7ff 48.5px,#74a4ff 52.5px,#96a0ff 58.5px,#be99ff 67.5px,#f988ff 83.5px,#ff85fe 85.5px,#ff65de 96.5px,#ff39bd 111.5px,#ff21b2 117.5px,#ff16af 119.5px,#ff0dad 120.5px,#ff02ab 121.5px,#ff00a9 123.5px,#ff0093 145.5px,#ff007f 178.5px,#ff007a 188.5px)"></i>
<i style="top:180px;left:70px;width:186px;background:linear-gradient(90deg,#00d9ff 0.5px,#00cbff 21.5px,#00baff 34.5px,#00a9ff 42.5px,#0ca7ff 43.5px,#29a6ff 44.5px,#3aa5ff 45.5px,#50a4ff 47.5px,#69a2ff 50.5px,#889fff 55.5px,#ae98ff 63.5px,#e18cff 76.5px,#ff80fe 85.5px,#ff5fde 96.5px,#ff34bf 110.5px,#ff1fb6 115.5px,#ff12b3 117.5px,#ff00af 119.5px,#ff0099 140.5px,#ff0085 170.5px,#ff007d 185.5px)"></i>
<i style="top:181px;left:71px;width:182px;background:linear-gradient(90deg,#00d7ff 0.5px,#00c9ff 20.5px,#00b9ff 32.5px,#00a8ff 40.5px,#00a5ff 41.5px,#1ba4ff 42.5px,#30a3ff 43.5px,#3ea2ff 44.5px,#53a1ff 46.5px,#6b9fff 49.5px,#899bff 54.5px,#af94ff 62.5px,#e187ff 75.5px,#ff7bfe 84.5px,#ff5adf 95.5px,#ff33c4 107.5px,#ff22bc 111.5px,#ff16b9 113.5px,#ff0eb7 114.5px,#ff02b5 115.5px,#ff00b2 117.5px,#ff009d 137.5px,#ff0088 167.5px,#ff0080 181.5px)"></i>
<i style="top:182px;left:71px;width:179px;background:linear-gradient(90deg,#00d6ff 0.5px,#00c8ff 19.5px,#00b8ff 31.5px,#00a7ff 39.5px,#00a1ff 41.5px,#24a0ff 42.5px,#36a0ff 43.5px,#4d9eff 45.5px,#669cff 48.5px,#8598ff 53.5px,#ab91ff 61.5px,#dd84ff 74.5px,#ff76ff 84.5px,#ff54df 95.5px,#ff32c9 105.5px,#ff20c1 109.5px,#ff13bd 111.5px,#ff00b9 113.5px,#ff00a3 132.5px,#ff008e 159.5px,#ff0083 178.5px)"></i>
<i style="top:183px;left:72px;width:175px;background:linear-gradient(90deg,#00d4ff 0.5px,#00c5ff 19.5px,#00b3ff 31.5px,#00a0ff 39.5px,#139eff 40.5px,#2c9dff 41.5px,#3b9cff 42.5px,#509bff 44.5px,#6899ff 47.5px,#8695ff 52.5px,#ac8eff 60.5px,#dd7fff 73.5px,#ff70ff 83.5px,#ff4ee0 94.5px,#ff31cd 102.5px,#ff1ec5 106.5px,#ff0ec1 108.5px,#ff02bf 109.5px,#ff00bc 111.5px,#ff00a5 130.5px,#ff0090 157.5px,#ff0086 174.5px)"></i>
<i style="top:184px;left:72px;width:172px;background:linear-gradient(90deg,#00d2ff 0.5px,#00c3ff 18.5px,#00b2ff 30.5px,#009fff 38.5px,#009cff 39.5px,#1e9bff 40.5px,#329aff 41.5px,#3f99ff 42.5px,#5398ff 44.5px,#7195ff 48.5px,#928fff 54.5px,#b986ff 63.5px,#ee73ff 78.5px,#ff6bff 83.5px,#ff47e0 94.5px,#ff2bd0 101.5px,#ff1bca 104.5px,#ff13c8 105.5px,#ff08c6 106.5px,#ff00c4 107.5px,#ff00ad 124.5px,#ff0097 149.5px,#ff0089 171.5px)"></i>
<i style="top:185px;left:72px;width:169px;background:linear-gradient(90deg,#00d1ff 0.5px,#00c1ff 18.5px,#00b1ff 29.5px,#009eff 37.5px,#009bff 38.5px,#0798ff 39.5px,#2797ff 40.5px,#3797ff 41.5px,#4d95ff 43.5px,#6593ff 46.5px,#848eff 51.5px,#a987ff 59.5px,#da77ff 72.5px,#ff65ff 83.5px,#ff3bde 95.5px,#ff25d3 100.5px,#ff18ce 102.5px,#ff0fcc 103.5px,#ff02ca 104.5px,#ff00c5 107.5px,#ff00ae 125.5px,#ff0098 150.5px,#ff008d 168.5px)"></i>
<i style="top:186px;left:73px;width:165px;background:linear-gradient(90deg,#00cfff 0.5px,#00bfff 17.5px,#00aeff 28.5px,#009aff 36.5px,#0097ff 37.5px,#2d94ff 39.5px,#3c93ff 40.5px,#5092ff 42.5px,#688fff 45.5px,#858bff 50.5px,#aa83ff 58.5px,#da72ff 71.5px,#ff5eff 82.5px,#ff36e1 93.5px,#ff22d8 97.5px,#ff14d3 99.5px,#ff09d1 100.5px,#ff00cf 101.5px,#ff00b7 117.5px,#ff00a1 139.5px,#ff0090 164.5px)"></i>
<i style="top:187px;left:73px;width:162px;background:linear-gradient(90deg,#00cdff 0.5px,#00bdff 17.5px,#00abff 28.5px,#0099ff 35.5px,#0093ff 37.5px,#2192ff 38.5px,#3391ff 39.5px,#4a8fff 41.5px,#638dff 44.5px,#8188ff 49.5px,#a680ff 57.5px,#d76eff 70.5px,#fe57ff 82.5px,#ff35e6 91.5px,#ff20dd 95.5px,#ff0fd8 97.5px,#ff01d6 98.5px,#ff00cb 104.5px,#ff00b4 121.5px,#ff009e 145.5px,#ff0093 161.5px)"></i>
<i style="top:188px;left:74px;width:158px;background:linear-gradient(90deg,#00cbff 0.5px,#00bbff 16.5px,#00a8ff 27.5px,#0095ff 34.5px,#0092ff 35.5px,#0f8fff 36.5px,#298eff 37.5px,#388dff 38.5px,#4e8cff 40.5px,#6589ff 43.5px,#8384ff 48.5px,#a77bff 56.5px,#d769ff 69.5px,#fb53ff 80.5px,#ff4dfd 82.5px,#ff2fe9 89.5px,#ff1de2 92.5px,#ff15df 93.5px,#ff09dd 94.5px,#ff00db 95.5px,#ff00c3 109.5px,#ff00ac 129.5px,#ff0096 157.5px)"></i>
<i style="top:189px;left:74px;width:155px;background:linear-gradient(90deg,#00c9ff 0.5px,#00b8ff 16.5px,#00a7ff 26.5px,#0095ff 33.5px,#008eff 35.5px,#1b8cff 36.5px,#2f8bff 37.5px,#3d8aff 38.5px,#5188ff 40.5px,#6e84ff 44.5px,#8e7eff 50.5px,#b872ff 60.5px,#e55cff 73.5px,#fe48ff 81.5px,#ff2def 87.5px,#ff1ae7 90.5px,#ff10e5 91.5px,#ff01e2 92.5px,#ff00ca 105.5px,#ff00b3 123.5px,#ff009d 149.5px,#ff0099 154.5px)"></i>
<i style="top:190px;left:75px;width:151px;background:linear-gradient(90deg,#00c7ff 0.5px,#00b6ff 15.5px,#00a4ff 25.5px,#0091ff 32.5px,#0289ff 34.5px,#2488ff 35.5px,#3487ff 36.5px,#4b86ff 38.5px,#6383ff 41.5px,#807dff 46.5px,#a574ff 54.5px,#d460ff 67.5px,#f14bff 76.5px,#fe3fff 80.5px,#ff2bf5 84.5px,#ff1eef 86.5px,#ff16ec 87.5px,#ff09ea 88.5px,#ff00e7 89.5px,#ff00ce 102.5px,#ff00b6 120.5px,#ff00a0 145.5px,#ff009c 150.5px)"></i>
<i style="top:191px;left:75px;width:148px;background:linear-gradient(90deg,#00c5ff 0.5px,#00b4ff 15.5px,#00a1ff 25.5px,#008cff 32.5px,#0088ff 33.5px,#2b85ff 35.5px,#3984ff 36.5px,#4e82ff 38.5px,#657fff 41.5px,#817aff 46.5px,#a570ff 54.5px,#d45aff 67.5px,#ee46ff 75.5px,#fe34ff 80.5px,#ff23f8 83.5px,#ff1bf5 84.5px,#ff11f2 85.5px,#ff01ef 86.5px,#ff00d6 98.5px,#ff00be 114.5px,#ff00a7 137.5px,#ff00a0 147.5px)"></i>
<i style="top:192px;left:76px;width:144px;background:linear-gradient(90deg,#00c2ff 0.5px,#00b1ff 14.5px,#009eff 24.5px,#008cff 30.5px,#0084ff 32.5px,#1f82ff 33.5px,#3181ff 34.5px,#487fff 36.5px,#607cff 39.5px,#7e77ff 44.5px,#a26cff 52.5px,#d156ff 65.5px,#eb41ff 73.5px,#fa2cff 78.5px,#ff20fe 80.5px,#ff17fb 81.5px,#ff0af8 82.5px,#ff00f5 83.5px,#ff00dc 94.5px,#ff00c4 109.5px,#ff00ae 130.5px,#ff00a3 143.5px)"></i>
<i style="top:193px;left:76px;width:141px;background:linear-gradient(90deg,#00c0ff 0.5px,#00afff 14.5px,#009dff 23.5px,#008bff 29.5px,#0083ff 31.5px,#0a80ff 32.5px,#267fff 33.5px,#367eff 34.5px,#4b7cff 36.5px,#6278ff 39.5px,#7f73ff 44.5px,#a368ff 52.5px,#ce52ff 64.5px,#e53eff 71.5px,#f12eff 75.5px,#f723ff 77.5px,#fa1cff 78.5px,#fd11ff 79.5px,#ff00fe 80.5px,#ff00e5 90.5px,#ff00cc 104.5px,#ff00b4 124.5px,#ff00a7 140.5px)"></i>
<i style="top:194px;left:77px;width:137px;background:linear-gradient(90deg,#00beff 0.5px,#00adff 13.5px,#009aff 22.5px,#0087ff 28.5px,#007fff 30.5px,#197cff 31.5px,#2d7bff 32.5px,#3a7aff 33.5px,#4e78ff 35.5px,#6b73ff 39.5px,#8a6cff 45.5px,#b35cff 55.5px,#d248ff 64.5px,#e534ff 70.5px,#ee26ff 73.5px,#f417ff 75.5px,#f709ff 76.5px,#fa00ff 77.5px,#ff00fe 79.5px,#ff00e4 90.5px,#ff00cb 105.5px,#ff00b3 126.5px,#ff00aa 136.5px)"></i>
<i style="top:195px;left:77px;width:134px;background:linear-gradient(90deg,#00bcff 0.5px,#00aaff 13.5px,#0097ff 22.5px,#0082ff 28.5px,#007aff 30.5px,#2278ff 31.5px,#3277ff 32.5px,#4875ff 34.5px,#6072ff 37.5px,#7d6bff 42.5px,#a15fff 50.5px,#c54bff 60.5px,#dc36ff 67.5px,#e528ff 70.5px,#eb1bff 72.5px,#ee11ff 73.5px,#f100ff 74.5px,#ff00fe 79.5px,#ff00e4 90.5px,#ff00cb 105.5px,#ff00b4 126.5px,#ff00ae 133.5px)"></i>
<i style="top:196px;left:78px;width:130px;background:linear-gradient(90deg,#00b9ff 0.5px,#00a8ff 12.5px,#0093ff 21.5px,#007eff 27.5px,#0079ff 28.5px,#1176ff 29.5px,#2975ff 30.5px,#3774ff 31.5px,#4b71ff 33.5px,#626eff 36.5px,#7e67ff 41.5px,#a15aff 49.5px,#c544ff 59.5px,#d633ff 64.5px,#df25ff 67.5px,#e516ff 69.5px,#e809ff 70.5px,#eb00ff 71.5px,#ff00fe 78.5px,#ff00e5 89.5px,#ff00cc 104.5px,#ff00b5 125.5px,#ff00b1 129.5px)"></i>
<i style="top:197px;left:78px;width:127px;background:linear-gradient(90deg,#00b7ff 0.5px,#00a5ff 12.5px,#0092ff 20.5px,#007eff 26.5px,#0074ff 28.5px,#1c72ff 29.5px,#2e71ff 30.5px,#3b70ff 31.5px,#4e6dff 33.5px,#6a68ff 37.5px,#895fff 43.5px,#b14cff 53.5px,#c938ff 60.5px,#d627ff 64.5px,#dc1aff 66.5px,#df10ff 67.5px,#e200ff 68.5px,#ff00ff 78.5px,#ff00e5 89.5px,#ff00cd 104.5px,#ff00b6 125.5px,#ff00b5 126.5px)"></i>
<i style="top:198px;left:79px;width:123px;background:linear-gradient(90deg,#00b4ff 0.5px,#00a0ff 12.5px,#008cff 20.5px,#0079ff 25.5px,#0074ff 26.5px,#066fff 27.5px,#246eff 28.5px,#336dff 29.5px,#496aff 31.5px,#5f66ff 34.5px,#7c5fff 39.5px,#9f51ff 47.5px,#bc3cff 55.5px,#cc29ff 60.5px,#d31dff 62.5px,#d615ff 63.5px,#d908ff 64.5px,#dc00ff 65.5px,#ff00ff 77.5px,#ff00e4 89.5px,#ff00cb 105.5px,#ff00b9 122.5px)"></i>
<i style="top:199px;left:79px;width:120px;background:linear-gradient(90deg,#00b2ff 0.5px,#00a0ff 11.5px,#008bff 19.5px,#0079ff 24.5px,#006fff 26.5px,#2a6aff 28.5px,#3869ff 29.5px,#4c66ff 31.5px,#6860ff 35.5px,#8757ff 41.5px,#ab43ff 50.5px,#c02fff 56.5px,#ca20ff 59.5px,#cd19ff 60.5px,#d00fff 61.5px,#d300ff 62.5px,#fa00ff 75.5px,#ff00ff 77.5px,#ff00e5 89.5px,#ff00cc 105.5px,#ff00bd 119.5px)"></i>
<i style="top:200px;left:80px;width:116px;background:linear-gradient(90deg,#00aeff 0.5px,#009bff 11.5px,#0088ff 18.5px,#0074ff 23.5px,#0069ff 25.5px,#1f67ff 26.5px,#3066ff 27.5px,#4663ff 29.5px,#5d5fff 32.5px,#7a57ff 37.5px,#9d46ff 45.5px,#b334ff 51.5px,#c023ff 55.5px,#c714ff 57.5px,#ca07ff 58.5px,#cd00ff 59.5px,#f400ff 72.5px,#ff00ff 76.5px,#ff00e4 89.5px,#ff00cb 106.5px,#ff00c1 115.5px)"></i>
<i style="top:201px;left:80px;width:113px;background:linear-gradient(90deg,#00acff 0.5px,#0098ff 11.5px,#0084ff 18.5px,#006fff 23.5px,#0069ff 24.5px,#0d64ff 25.5px,#2663ff 26.5px,#3562ff 27.5px,#495fff 29.5px,#5f5aff 32.5px,#7b51ff 37.5px,#9d3fff 45.5px,#b02eff 50.5px,#ba1fff 53.5px,#bd18ff 54.5px,#c10eff 55.5px,#c400ff 56.5px,#ea00ff 68.5px,#ff00ff 76.5px,#ff00e4 89.5px,#ff00cb 106.5px,#ff00c5 112.5px)"></i>
<i style="top:202px;left:81px;width:109px;background:linear-gradient(90deg,#00a8ff 0.5px,#0095ff 10.5px,#0080ff 17.5px,#0069ff 22.5px,#0063ff 23.5px,#1960ff 24.5px,#2c5fff 25.5px,#395dff 26.5px,#4c5aff 28.5px,#6753ff 32.5px,#8647ff 38.5px,#a233ff 45.5px,#b022ff 49.5px,#b713ff 51.5px,#ba06ff 52.5px,#be00ff 53.5px,#e400ff 65.5px,#ff00ff 75.5px,#ff00e3 89.5px,#ff00ca 107.5px,#ff00c9 108.5px)"></i>
<i style="top:203px;left:81px;width:106px;background:linear-gradient(90deg,#00a6ff 0.5px,#0092ff 10.5px,#007cff 17.5px,#0069ff 21.5px,#025dff 23.5px,#225cff 24.5px,#315aff 25.5px,#4657ff 27.5px,#5d52ff 30.5px,#7948ff 35.5px,#9734ff 42.5px,#a624ff 46.5px,#ad17ff 48.5px,#b10dff 49.5px,#b400ff 50.5px,#d900ff 61.5px,#fe00ff 75.5px,#ff00e2 90.5px,#ff00cd 105.5px)"></i>
<i style="top:204px;left:82px;width:102px;background:linear-gradient(90deg,#00a2ff 0.5px,#008fff 9.5px,#007cff 15.5px,#0069ff 19.5px,#005dff 21.5px,#1359ff 22.5px,#2857ff 23.5px,#3655ff 24.5px,#4952ff 26.5px,#5f4cff 29.5px,#7a41ff 34.5px,#942fff 40.5px,#a021ff 43.5px,#a712ff 45.5px,#ab06ff 46.5px,#ae00ff 47.5px,#d400ff 58.5px,#fc00ff 73.5px,#ff00fd 75.5px,#ff00e4 88.5px,#ff00d1 101.5px)"></i>
<i style="top:205px;left:82px;width:99px;background:linear-gradient(90deg,#00a0ff 0.5px,#008cff 9.5px,#0077ff 15.5px,#0064ff 19.5px,#0057ff 21.5px,#1d54ff 22.5px,#2e52ff 23.5px,#444eff 25.5px,#5b48ff 28.5px,#773cff 33.5px,#8d2cff 38.5px,#991dff 41.5px,#9d16ff 42.5px,#a10dff 43.5px,#a400ff 44.5px,#c800ff 54.5px,#f000ff 68.5px,#fe00ff 74.5px,#ff00e1 90.5px,#ff00d6 98.5px)"></i>
<i style="top:206px;left:83px;width:95px;background:linear-gradient(90deg,#009bff 0.5px,#0088ff 8.5px,#0073ff 14.5px,#005eff 18.5px,#0057ff 19.5px,#0950ff 20.5px,#244fff 21.5px,#324dff 22.5px,#4749ff 24.5px,#5d42ff 27.5px,#7835ff 32.5px,#8a25ff 36.5px,#921aff 38.5px,#9612ff 39.5px,#9a05ff 40.5px,#9e00ff 41.5px,#c000ff 50.5px,#e600ff 63.5px,#fe00ff 73.5px,#ff00e0 90.5px,#ff00db 94.5px)"></i>
<i style="top:207px;left:83px;width:92px;background:linear-gradient(90deg,#0099ff 0.5px,#0085ff 8.5px,#006eff 14.5px,#005eff 17.5px,#0050ff 19.5px,#174bff 20.5px,#2a49ff 21.5px,#3747ff 22.5px,#4a43ff 24.5px,#6539ff 28.5px,#7e27ff 33.5px,#8b16ff 36.5px,#9300ff 38.5px,#b300ff 46.5px,#d900ff 58.5px,#fe00ff 73.5px,#ff00e1 90.5px,#ff00e0 91.5px)"></i>
<i style="top:208px;left:84px;width:88px;background:linear-gradient(90deg,#0094ff 0.5px,#007eff 8.5px,#006aff 13.5px,#0058ff 16.5px,#0048ff 18.5px,#1f45ff 19.5px,#2f43ff 20.5px,#443fff 22.5px,#5b37ff 25.5px,#7624ff 30.5px,#7f19ff 32.5px,#8411ff 33.5px,#8805ff 34.5px,#8d00ff 35.5px,#ae00ff 43.5px,#d100ff 54.5px,#f900ff 70.5px,#ff00fe 73.5px,#ff00e5 87.5px)"></i>
<i style="top:209px;left:85px;width:84px;background:linear-gradient(90deg,#008fff 0.5px,#007bff 7.5px,#0065ff 12.5px,#0051ff 15.5px,#0049ff 16.5px,#0f42ff 17.5px,#263fff 18.5px,#343dff 19.5px,#4737ff 21.5px,#5d2eff 24.5px,#731cff 28.5px,#7715ff 29.5px,#8100ff 31.5px,#a000ff 38.5px,#c300ff 48.5px,#e900ff 62.5px,#ff00fe 72.5px,#ff00ea 83.5px)"></i>
<i style="top:210px;left:85px;width:81px;background:linear-gradient(90deg,#008cff 0.5px,#0077ff 7.5px,#0065ff 11.5px,#0052ff 14.5px,#0040ff 16.5px,#1a3bff 17.5px,#2c38ff 18.5px,#4232ff 20.5px,#5828ff 23.5px,#6a18ff 26.5px,#6f10ff 27.5px,#7404ff 28.5px,#7900ff 29.5px,#9600ff 35.5px,#b800ff 44.5px,#dd00ff 57.5px,#ff00fe 72.5px,#ff00ef 80.5px)"></i>
<i style="top:211px;left:86px;width:77px;background:linear-gradient(90deg,#0087ff 0.5px,#0073ff 6.5px,#005fff 10.5px,#004aff 13.5px,#0041ff 14.5px,#0536ff 15.5px,#2234ff 16.5px,#3030ff 17.5px,#4529ff 19.5px,#5a1bff 22.5px,#6014ff 23.5px,#6c00ff 25.5px,#8700ff 30.5px,#a800ff 38.5px,#cb00ff 49.5px,#f300ff 65.5px,#ff00ff 71.5px,#ff00f5 76.5px)"></i>
<i style="top:212px;left:87px;width:73px;background:linear-gradient(90deg,#0080ff 0.5px,#006aff 6.5px,#005aff 9.5px,#004bff 11.5px,#0037ff 13.5px,#142eff 14.5px,#282bff 15.5px,#3527ff 16.5px,#481eff 18.5px,#5610ff 20.5px,#5c04ff 21.5px,#6300ff 22.5px,#8000ff 27.5px,#9f00ff 34.5px,#c000ff 44.5px,#e700ff 59.5px,#ff00ff 70.5px,#ff00fb 72.5px)"></i>
<i style="top:213px;left:87px;width:70px;background:linear-gradient(90deg,#007dff 0.5px,#006aff 5.5px,#0054ff 9.5px,#0043ff 11.5px,#0039ff 12.5px,#002aff 13.5px,#1d24ff 14.5px,#2d20ff 15.5px,#4214ff 17.5px,#5200ff 19.5px,#6800ff 22.5px,#8300ff 27.5px,#a400ff 35.5px,#c700ff 46.5px,#ee00ff 62.5px,#fd00ff 69.5px)"></i>
<i style="top:214px;left:88px;width:66px;background:linear-gradient(90deg,#0076ff 0.5px,#0060ff 5.5px,#004dff 8.5px,#003aff 10.5px,#002dff 11.5px,#0c1dff 12.5px,#2417ff 13.5px,#320fff 14.5px,#3c03ff 15.5px,#4700ff 16.5px,#5f00ff 19.5px,#7d00ff 24.5px,#9b00ff 31.5px,#bc00ff 41.5px,#e300ff 56.5px,#f700ff 65.5px)"></i>
<i style="top:215px;left:89px;width:62px;background:linear-gradient(90deg,#006eff 0.5px,#005bff 4.5px,#0045ff 7.5px,#003bff 8.5px,#002fff 9.5px,#001bff 10.5px,#1809ff 11.5px,#2a00ff 12.5px,#3900ff 13.5px,#4e00ff 15.5px,#6400ff 18.5px,#8000ff 23.5px,#a100ff 31.5px,#c300ff 42.5px,#ea00ff 58.5px,#f100ff 61.5px)"></i>
<i style="top:216px;left:89px;width:59px;background:linear-gradient(90deg,#006aff 0.5px,#0055ff 4.5px,#0046ff 6.5px,#003dff 7.5px,#0031ff 8.5px,#001fff 9.5px,#0a00ff 10.5px,#2700ff 11.5px,#3700ff 12.5px,#4c00ff 14.5px,#6300ff 17.5px,#7e00ff 22.5px,#9f00ff 30.5px,#c100ff 41.5px,#e800ff 57.5px,#eb00ff 58.5px)"></i>
<i style="top:217px;left:90px;width:55px;background:linear-gradient(90deg,#0061ff 0.5px,#004fff 3.5px,#003eff 5.5px,#0032ff 6.5px,#0022ff 7.5px,#0100ff 8.5px,#2400ff 9.5px,#3400ff 10.5px,#4a00ff 12.5px,#6100ff 15.5px,#7d00ff 20.5px,#9a00ff 27.5px,#bd00ff 38.5px,#e200ff 53.5px,#e400ff 54.5px)"></i>
<i style="top:218px;left:91px;width:51px;background:linear-gradient(90deg,#0056ff 0.5px,#0048ff 2.5px,#0034ff 4.5px,#0025ff 5.5px,#0008ff 6.5px,#2000ff 7.5px,#3100ff 8.5px,#4800ff 10.5px,#5f00ff 13.5px,#7b00ff 18.5px,#9800ff 25.5px,#bb00ff 36.5px,#de00ff 50.5px)"></i>
<i style="top:219px;left:92px;width:47px;background:linear-gradient(90deg,#0049ff 0.5px,#0036ff 2.5px,#0028ff 3.5px,#000fff 4.5px,#1c00ff 5.5px,#2f00ff 6.5px,#3b00ff 7.5px,#4e00ff 9.5px,#6a00ff 13.5px,#8700ff 19.5px,#a800ff 28.5px,#cc00ff 41.5px,#d800ff 46.5px)"></i>
<i style="top:220px;left:93px;width:43px;background:linear-gradient(90deg,#0037ff 0.5px,#002aff 1.5px,#0015ff 2.5px,#1700ff 3.5px,#2c00ff 4.5px,#3900ff 5.5px,#4d00ff 7.5px,#6200ff 10.5px,#7c00ff 15.5px,#9c00ff 23.5px,#c000ff 35.5px,#d100ff 42.5px)"></i>
<i style="top:221px;left:94px;width:39px;background:linear-gradient(90deg,#0019ff 0.5px,#1200ff 1.5px,#2900ff 2.5px,#3700ff 3.5px,#4b00ff 5.5px,#6000ff 8.5px,#7b00ff 13.5px,#9a00ff 21.5px,#bc00ff 32.5px,#cb00ff 38.5px)"></i>
<i style="top:222px;left:95px;width:35px;background:linear-gradient(90deg,#2600ff 0.5px,#3400ff 1.5px,#4900ff 3.5px,#5f00ff 6.5px,#7900ff 11.5px,#9900ff 19.5px,#ba00ff 30.5px,#c400ff 34.5px)"></i>
<i style="top:223px;left:96px;width:31px;background:linear-gradient(90deg,#3d00ff 0.5px,#5600ff 3.5px,#6e00ff 7.5px,#8c00ff 14.5px,#ad00ff 24.5px,#be00ff 30.5px)"></i>
<i style="top:224px;left:98px;width:26px;background:linear-gradient(90deg,#5500ff 0.5px,#6c00ff 4.5px,#8b00ff 11.5px,#ac00ff 21.5px,#b700ff 25.5px)"></i>
<i style="top:225px;left:99px;width:22px;background:linear-gradient(90deg,#6000ff 0.5px,#7900ff 5.5px,#9800ff 13.5px,#b000ff 21.5px)"></i>
<i style="top:226px;left:101px;width:17px;background:linear-gradient(90deg,#6e00ff 0.5px,#8c00ff 7.5px,#a900ff 16.5px)"></i>
<i style="top:227px;left:102px;width:13px;background:linear-gradient(90deg,#7600ff 0.5px,#9500ff 8.5px,#a100ff 12.5px)"></i>
<i style="top:228px;left:104px;width:8px;background:linear-gradient(90deg,#8100ff 0.5px,#9a00ff 7.5px)"></i>
<i style="top:229px;left:105px;width:5px;background:linear-gradient(90deg,#8700ff 0.5px,#9500ff 4.5px)"></i>
</div>
<div class="L" id="hm">
<i style="top:19px;left:388px;width:287px;background:linear-gradient(90deg,#ff9500 0.5px,#ff7800 73.5px,#ff5c00 126.5px,#ff4400 160.5px,#ff3000 180.5px,#ff1e00 192.5px,#ff1000 198.5px,#ff0000 202.5px,#ff0000 286.5px)"></i>
<i style="top:20px;left:388px;width:287px;background:linear-gradient(90deg,#ff9500 0.5px,#ff7800 73.5px,#ff5c00 125.5px,#ff4400 159.5px,#ff3000 179.5px,#ff1f00 190.5px,#ff1200 196.5px,#ff0100 200.5px,#ff0000 204.5px,#ff0000 286.5px)"></i>
<i style="top:21px;left:388px;width:287px;background:linear-gradient(90deg,#ff9500 0.5px,#ff7800 72.5px,#ff5c00 124.5px,#ff4400 158.5px,#ff2f00 178.5px,#ff1f00 189.5px,#ff1000 195.5px,#ff0000 199.5px,#ff0000 286.5px)"></i>
<i style="top:22px;left:388px;width:287px;background:linear-gradient(90deg,#ff9500 0.5px,#ff7700 72.5px,#ff5c00 123.5px,#ff4400 156.5px,#ff3000 176.5px,#ff2000 187.5px,#ff1200 193.5px,#ff0200 197.5px,#ff0000 199.5px,#ff0000 286.5px)"></i>
<i style="top:23px;left:388px;width:287px;background:linear-gradient(90deg,#ff9400 0.5px,#ff7700 71.5px,#ff5c00 122.5px,#ff4400 155.5px,#ff3000 175.5px,#ff1f00 186.5px,#ff1000 192.5px,#ff0000 196.5px,#ff0000 286.5px)"></i>
<i style="top:24px;left:388px;width:287px;background:linear-gradient(90deg,#ff9400 0.5px,#ff7700 71.5px,#ff5b00 122.5px,#ff4300 155.5px,#ff2f00 174.5px,#ff1e00 185.5px,#ff1200 190.5px,#ff0200 194.5px,#ff0000 196.5px,#ff0000 286.5px)"></i>
<i style="top:25px;left:388px;width:287px;background:linear-gradient(90deg,#ff9400 0.5px,#ff7700 70.5px,#ff5c00 120.5px,#ff4400 153.5px,#ff2f00 173.5px,#ff1d00 184.5px,#ff1100 189.5px,#ff0000 193.5px,#ff0000 286.5px)"></i>
<i style="top:26px;left:388px;width:287px;background:linear-gradient(90deg,#ff9400 0.5px,#ff7700 70.5px,#ff5b00 120.5px,#ff4300 152.5px,#ff3000 171.5px,#ff1f00 182.5px,#ff1300 187.5px,#ff0700 190.5px,#ff0200 191.5px,#ff0000 192.5px,#ff0000 286.5px)"></i>
<i style="top:27px;left:388px;width:287px;background:linear-gradient(90deg,#ff9400 0.5px,#ff7700 69.5px,#ff5b00 119.5px,#ff4300 151.5px,#ff2f00 170.5px,#ff1e00 181.5px,#ff1100 186.5px,#ff0000 190.5px,#ff0000 286.5px)"></i>
<i style="top:28px;left:388px;width:287px;background:linear-gradient(90deg,#ff9300 0.5px,#ff7600 69.5px,#ff5b00 118.5px,#ff4300 150.5px,#ff2f00 169.5px,#ff1f00 179.5px,#ff1300 184.5px,#ff0800 187.5px,#ff0000 189.5px,#ff0000 286.5px)"></i>
<i style="top:29px;left:388px;width:287px;background:linear-gradient(90deg,#ff9300 0.5px,#ff7600 68.5px,#ff5b00 117.5px,#ff4300 149.5px,#ff2e00 168.5px,#ff1e00 178.5px,#ff1200 183.5px,#ff0100 187.5px,#ff0000 196.5px,#ff0000 286.5px)"></i>
<i style="top:30px;left:388px;width:287px;background:linear-gradient(90deg,#ff9300 0.5px,#ff7600 68.5px,#ff5b00 116.5px,#ff4300 147.5px,#ff2f00 166.5px,#ff1f00 176.5px,#ff1100 182.5px,#ff0000 186.5px,#ff0000 286.5px)"></i>
<i style="top:31px;left:388px;width:287px;background:linear-gradient(90deg,#ff9300 0.5px,#ff7500 68.5px,#ff5a00 116.5px,#ff4200 147.5px,#ff2f00 165.5px,#ff1f00 175.5px,#ff1300 180.5px,#ff0700 183.5px,#ff0200 184.5px,#ff0000 186.5px,#ff0000 286.5px)"></i>
<i style="top:32px;left:388px;width:287px;background:linear-gradient(90deg,#ff9300 0.5px,#ff7600 67.5px,#ff5a00 115.5px,#ff4200 146.5px,#ff2e00 164.5px,#ff1e00 174.5px,#ff1100 179.5px,#ff0000 183.5px,#ff0000 286.5px)"></i>
<i style="top:33px;left:388px;width:287px;background:linear-gradient(90deg,#ff9200 0.5px,#ff7500 67.5px,#ff5a00 114.5px,#ff4300 144.5px,#ff2f00 162.5px,#ff1f00 172.5px,#ff1300 177.5px,#ff0800 180.5px,#ff0000 182.5px,#ff0000 286.5px)"></i>
<i style="top:34px;left:388px;width:287px;background:linear-gradient(90deg,#ff9200 0.5px,#ff7500 66.5px,#ff5a00 113.5px,#ff4300 143.5px,#ff2f00 161.5px,#ff1f00 171.5px,#ff1200 176.5px,#ff0100 180.5px,#ff0000 194.5px,#ff0000 286.5px)"></i>
<i style="top:35px;left:388px;width:287px;background:linear-gradient(90deg,#ff9200 0.5px,#ff7500 66.5px,#ff5900 113.5px,#ff4100 143.5px,#ff2d00 161.5px,#ff1c00 171.5px,#ff1100 175.5px,#ff0000 179.5px,#ff0000 286.5px)"></i>
<i style="top:36px;left:388px;width:287px;background:linear-gradient(90deg,#ff9200 0.5px,#ff7500 65.5px,#ff5a00 111.5px,#ff4200 141.5px,#ff2e00 159.5px,#ff1d00 169.5px,#ff1000 174.5px,#ff0200 177.5px,#ff0000 178.5px,#ff0000 286.5px)"></i>
<i style="top:37px;left:388px;width:287px;background:linear-gradient(90deg,#ff9200 0.5px,#ff7400 65.5px,#ff5900 111.5px,#ff4200 140.5px,#ff2e00 158.5px,#ff1d00 168.5px,#ff0e00 173.5px,#ff0000 176.5px,#ff0000 286.5px)"></i>
<i style="top:38px;left:388px;width:287px;background:linear-gradient(90deg,#ff9100 0.5px,#ff7500 64.5px,#ff5900 110.5px,#ff4200 139.5px,#ff2d00 157.5px,#ff1e00 166.5px,#ff1100 171.5px,#ff0000 175.5px,#ff0000 286.5px)"></i>
<i style="top:39px;left:388px;width:287px;background:linear-gradient(90deg,#ff9100 0.5px,#ff7400 64.5px,#ff5900 109.5px,#ff4200 138.5px,#ff2e00 155.5px,#ff1d00 165.5px,#ff1000 170.5px,#ff0200 173.5px,#ff0000 175.5px,#ff0000 286.5px)"></i>
<i style="top:40px;left:388px;width:287px;background:linear-gradient(90deg,#ff9100 0.5px,#ff7400 63.5px,#ff5900 108.5px,#ff4200 137.5px,#ff2e00 154.5px,#ff1d00 164.5px,#ff0e00 169.5px,#ff0000 172.5px,#ff0000 286.5px)"></i>
<i style="top:41px;left:388px;width:287px;background:linear-gradient(90deg,#ff9100 0.5px,#ff7400 63.5px,#ff5800 108.5px,#ff4100 136.5px,#ff2e00 153.5px,#ff1e00 162.5px,#ff1100 167.5px,#ff0000 171.5px,#ff0000 286.5px)"></i>
<i style="top:42px;left:388px;width:287px;background:linear-gradient(90deg,#ff9000 0.5px,#ff7300 63.5px,#ff5800 107.5px,#ff4100 135.5px,#ff2d00 152.5px,#ff1e00 161.5px,#ff1000 166.5px,#ff0200 169.5px,#ff0000 171.5px,#ff0000 286.5px)"></i>
<i style="top:43px;left:388px;width:287px;background:linear-gradient(90deg,#ff9000 0.5px,#ff7300 62.5px,#ff5800 106.5px,#ff4100 134.5px,#ff2d00 151.5px,#ff1d00 160.5px,#ff0e00 165.5px,#ff0000 168.5px,#ff0000 286.5px)"></i>
<i style="top:44px;left:388px;width:287px;background:linear-gradient(90deg,#ff9000 0.5px,#ff7300 62.5px,#ff5800 105.5px,#ff4100 133.5px,#ff2d00 150.5px,#ff1c00 159.5px,#ff1100 163.5px,#ff0000 167.5px,#ff0000 286.5px)"></i>
<i style="top:45px;left:388px;width:287px;background:linear-gradient(90deg,#ff9000 0.5px,#ff7300 61.5px,#ff5800 104.5px,#ff4100 132.5px,#ff2e00 148.5px,#ff1e00 157.5px,#ff1000 162.5px,#ff0200 165.5px,#ff0000 167.5px,#ff0000 286.5px)"></i>
<i style="top:46px;left:388px;width:287px;background:linear-gradient(90deg,#ff9000 0.5px,#ff7300 61.5px,#ff5800 104.5px,#ff4100 131.5px,#ff2d00 147.5px,#ff1d00 156.5px,#ff0f00 161.5px,#ff0000 164.5px,#ff0000 286.5px)"></i>
<i style="top:47px;left:388px;width:287px;background:linear-gradient(90deg,#ff8f00 0.5px,#ff7300 60.5px,#ff5800 103.5px,#ff4000 130.5px,#ff2d00 146.5px,#ff1d00 155.5px,#ff1200 159.5px,#ff0000 163.5px,#ff0000 286.5px)"></i>
<i style="top:48px;left:388px;width:287px;background:linear-gradient(90deg,#ff8f00 0.5px,#ff7200 60.5px,#ff5800 102.5px,#ff4000 129.5px,#ff2d00 145.5px,#ff1c00 154.5px,#ff1100 158.5px,#ff0200 161.5px,#ff0000 162.5px,#ff0000 286.5px)"></i>
<i style="top:49px;left:388px;width:287px;background:linear-gradient(90deg,#ff8f00 0.5px,#ff7200 60.5px,#ff5700 102.5px,#ff3f00 129.5px,#ff2c00 144.5px,#ff1b00 153.5px,#ff1000 157.5px,#ff0100 160.5px,#ff0000 286.5px)"></i>
<i style="top:50px;left:388px;width:287px;background:linear-gradient(90deg,#ff8f00 0.5px,#ff7200 59.5px,#ff5700 101.5px,#ff4000 127.5px,#ff2c00 143.5px,#ff1d00 151.5px,#ff1200 155.5px,#ff0000 159.5px,#ff0000 286.5px)"></i>
<i style="top:51px;left:388px;width:287px;background:linear-gradient(90deg,#ff8e00 0.5px,#ff7100 59.5px,#ff5700 100.5px,#ff4000 126.5px,#ff2c00 142.5px,#ff1d00 150.5px,#ff1100 154.5px,#ff0300 157.5px,#ff0000 158.5px,#ff0000 286.5px)"></i>
<i style="top:52px;left:388px;width:287px;background:linear-gradient(90deg,#ff8e00 0.5px,#ff7200 58.5px,#ff5700 99.5px,#ff4000 125.5px,#ff2d00 140.5px,#ff1c00 149.5px,#ff1000 153.5px,#ff0200 156.5px,#ff0000 158.5px,#ff0000 286.5px)"></i>
<i style="top:53px;left:388px;width:287px;background:linear-gradient(90deg,#ff8e00 0.5px,#ff7100 58.5px,#ff5700 98.5px,#ff4000 124.5px,#ff2d00 139.5px,#ff1c00 148.5px,#ff0f00 152.5px,#ff0100 155.5px,#ff0000 286.5px)"></i>
<i style="top:54px;left:388px;width:287px;background:linear-gradient(90deg,#ff8e00 0.5px,#ff7100 57.5px,#ff5700 97.5px,#ff4000 123.5px,#ff2c00 138.5px,#ff1d00 146.5px,#ff1200 150.5px,#ff0000 154.5px,#ff0000 286.5px)"></i>
<i style="top:55px;left:388px;width:287px;background:linear-gradient(90deg,#ff8e00 0.5px,#ff7100 57.5px,#ff5600 97.5px,#ff3f00 122.5px,#ff2c00 137.5px,#ff1d00 145.5px,#ff1100 149.5px,#ff0300 152.5px,#ff0000 153.5px,#ff0000 286.5px)"></i>
<i style="top:56px;left:388px;width:287px;background:linear-gradient(90deg,#ff8d00 0.5px,#ff7000 57.5px,#ff5600 96.5px,#ff3f00 121.5px,#ff2c00 136.5px,#ff1c00 144.5px,#ff1100 148.5px,#ff0200 151.5px,#ff0000 153.5px,#ff0000 286.5px)"></i>
<i style="top:57px;left:388px;width:287px;background:linear-gradient(90deg,#ff8d00 0.5px,#ff7000 56.5px,#ff5600 95.5px,#ff3f00 120.5px,#ff2c00 135.5px,#ff1c00 143.5px,#ff1000 147.5px,#ff0100 150.5px,#ff0000 286.5px)"></i>
<i style="top:58px;left:388px;width:287px;background:linear-gradient(90deg,#ff8d00 0.5px,#ff7000 56.5px,#ff5500 95.5px,#ff3e00 120.5px,#ff2b00 134.5px,#ff1b00 142.5px,#ff0f00 146.5px,#ff0000 149.5px,#ff0000 286.5px)"></i>
<i style="top:59px;left:388px;width:287px;background:linear-gradient(90deg,#ff8d00 0.5px,#ff7000 55.5px,#ff5500 94.5px,#ff3e00 119.5px,#ff2b00 133.5px,#ff1b00 141.5px,#ff0e00 145.5px,#ff0000 148.5px,#ff0000 286.5px)"></i>
<i style="top:60px;left:388px;width:287px;background:linear-gradient(90deg,#ff8c00 0.5px,#ff7000 55.5px,#ff5500 93.5px,#ff3f00 117.5px,#ff2b00 132.5px,#ff1b00 140.5px,#ff0d00 144.5px,#ff0300 146.5px,#ff0000 147.5px,#ff0000 286.5px)"></i>
<i style="top:61px;left:388px;width:287px;background:linear-gradient(90deg,#ff8c00 0.5px,#ff6f00 55.5px,#ff5500 93.5px,#ff3e00 117.5px,#ff2b00 131.5px,#ff1a00 139.5px,#ff0c00 143.5px,#ff0100 145.5px,#ff0000 148.5px,#ff0000 286.5px)"></i>
<i style="top:62px;left:388px;width:287px;background:linear-gradient(90deg,#ff8c00 0.5px,#ff6f00 54.5px,#ff5500 92.5px,#ff3e00 116.5px,#ff2a00 130.5px,#ff1a00 138.5px,#ff1000 141.5px,#ff0000 144.5px,#ff0000 286.5px)"></i>
<i style="top:63px;left:388px;width:287px;background:linear-gradient(90deg,#ff8c00 0.5px,#ff6f00 54.5px,#ff5500 91.5px,#ff3e00 115.5px,#ff2a00 129.5px,#ff1c00 136.5px,#ff0f00 140.5px,#ff0000 143.5px,#ff0000 286.5px)"></i>
<i style="top:64px;left:388px;width:287px;background:linear-gradient(90deg,#ff8b00 0.5px,#ff6f00 53.5px,#ff5500 90.5px,#ff3e00 114.5px,#ff2a00 128.5px,#ff1b00 135.5px,#ff0e00 139.5px,#ff0000 142.5px,#ff0000 286.5px)"></i>
<i style="top:65px;left:388px;width:287px;background:linear-gradient(90deg,#ff8b00 0.5px,#ff6f00 53.5px,#ff5400 90.5px,#ff3d00 113.5px,#ff2a00 127.5px,#ff1b00 134.5px,#ff0e00 138.5px,#ff0300 140.5px,#ff0000 141.5px,#ff0000 286.5px)"></i>
<i style="top:66px;left:388px;width:287px;background:linear-gradient(90deg,#ff8b00 0.5px,#ff6e00 53.5px,#ff5400 89.5px,#ff3d00 112.5px,#ff2a00 126.5px,#ff1b00 133.5px,#ff0d00 137.5px,#ff0200 139.5px,#ff0000 141.5px,#ff0000 286.5px)"></i>
<i style="top:67px;left:388px;width:287px;background:linear-gradient(90deg,#ff8b00 0.5px,#ff6e00 52.5px,#ff5400 88.5px,#ff3d00 111.5px,#ff2900 125.5px,#ff1a00 132.5px,#ff1000 135.5px,#ff0100 138.5px,#ff0000 286.5px)"></i>
<i style="top:68px;left:388px;width:287px;background:linear-gradient(90deg,#ff8a00 0.5px,#ff6e00 52.5px,#ff5300 88.5px,#ff3c00 111.5px,#ff2900 124.5px,#ff1a00 131.5px,#ff1000 134.5px,#ff0000 137.5px,#ff0000 286.5px)"></i>
<i style="top:69px;left:388px;width:287px;background:linear-gradient(90deg,#ff8a00 0.5px,#ff6e00 51.5px,#ff5300 87.5px,#ff3d00 109.5px,#ff2b00 122.5px,#ff1c00 129.5px,#ff0f00 133.5px,#ff0000 136.5px,#ff0000 286.5px)"></i>
<i style="top:70px;left:388px;width:287px;background:linear-gradient(90deg,#ff8a00 0.5px,#ff6d00 51.5px,#ff5300 86.5px,#ff3d00 108.5px,#ff2b00 121.5px,#ff1c00 128.5px,#ff0f00 132.5px,#ff0000 135.5px,#ff0000 286.5px)"></i>
<i style="top:71px;left:388px;width:287px;background:linear-gradient(90deg,#ff8a00 0.5px,#ff6d00 51.5px,#ff5300 86.5px,#ff3c00 108.5px,#ff2900 121.5px,#ff1900 128.5px,#ff0e00 131.5px,#ff0300 133.5px,#ff0000 134.5px,#ff0000 286.5px)"></i>
<i style="top:72px;left:388px;width:287px;background:linear-gradient(90deg,#ff8900 0.5px,#ff6d00 50.5px,#ff5300 85.5px,#ff3c00 107.5px,#ff2900 120.5px,#ff1900 127.5px,#ff0e00 130.5px,#ff0200 132.5px,#ff0000 133.5px,#ff0000 286.5px)"></i>
<i style="top:73px;left:388px;width:287px;background:linear-gradient(90deg,#ff8900 0.5px,#ff6d00 50.5px,#ff5300 84.5px,#ff3c00 106.5px,#ff2900 119.5px,#ff1800 126.5px,#ff0d00 129.5px,#ff0200 131.5px,#ff0000 133.5px,#ff0000 286.5px)"></i>
<i style="top:74px;left:388px;width:287px;background:linear-gradient(90deg,#ff8900 0.5px,#ff6c00 50.5px,#ff5200 84.5px,#ff3c00 105.5px,#ff2800 118.5px,#ff1800 125.5px,#ff0c00 128.5px,#ff0100 130.5px,#ff0000 139.5px,#ff0000 286.5px)"></i>
<i style="top:75px;left:388px;width:287px;background:linear-gradient(90deg,#ff8900 0.5px,#ff6c00 49.5px,#ff5200 83.5px,#ff3c00 104.5px,#ff2800 117.5px,#ff1b00 123.5px,#ff1100 126.5px,#ff0000 129.5px,#ff0000 286.5px)"></i>
<i style="top:76px;left:388px;width:287px;background:linear-gradient(90deg,#ff8800 0.5px,#ff6c00 49.5px,#ff5200 82.5px,#ff3c00 103.5px,#ff2a00 115.5px,#ff1a00 122.5px,#ff1000 125.5px,#ff0000 128.5px,#ff0000 286.5px)"></i>
<i style="top:77px;left:388px;width:287px;background:linear-gradient(90deg,#ff8800 0.5px,#ff6c00 48.5px,#ff5200 81.5px,#ff3c00 102.5px,#ff2a00 114.5px,#ff1a00 121.5px,#ff1000 124.5px,#ff0000 127.5px,#ff0000 286.5px)"></i>
<i style="top:78px;left:388px;width:287px;background:linear-gradient(90deg,#ff8800 0.5px,#ff6b00 48.5px,#ff5200 81.5px,#ff3b00 102.5px,#ff2800 114.5px,#ff1a00 120.5px,#ff1000 123.5px,#ff0000 126.5px,#ff0000 286.5px)"></i>
<i style="top:79px;left:388px;width:287px;background:linear-gradient(90deg,#ff8800 0.5px,#ff6b00 48.5px,#ff5100 81.5px,#ff3b00 101.5px,#ff2800 113.5px,#ff1a00 119.5px,#ff0f00 122.5px,#ff0000 125.5px,#ff0000 286.5px)"></i>
<i style="top:80px;left:388px;width:287px;background:linear-gradient(90deg,#ff8700 0.5px,#ff6b00 47.5px,#ff5100 80.5px,#ff3b00 100.5px,#ff2800 112.5px,#ff1a00 118.5px,#ff0f00 121.5px,#ff0400 123.5px,#ff0000 124.5px,#ff0000 286.5px)"></i>
<i style="top:81px;left:388px;width:287px;background:linear-gradient(90deg,#ff8700 0.5px,#ff6b00 47.5px,#ff5100 79.5px,#ff3b00 99.5px,#ff2800 111.5px,#ff1a00 117.5px,#ff0f00 120.5px,#ff0300 122.5px,#ff0000 123.5px,#ff0000 286.5px)"></i>
<i style="top:82px;left:388px;width:287px;background:linear-gradient(90deg,#ff8700 0.5px,#ff6a00 47.5px,#ff5000 79.5px,#ff3a00 99.5px,#ff2800 110.5px,#ff1a00 116.5px,#ff0e00 119.5px,#ff0300 121.5px,#ff0000 122.5px,#ff0000 286.5px)"></i>
<i style="top:83px;left:388px;width:287px;background:linear-gradient(90deg,#ff8700 0.5px,#ff6a00 46.5px,#ff5000 78.5px,#ff3a00 98.5px,#ff2800 109.5px,#ff1900 115.5px,#ff0e00 118.5px,#ff0300 120.5px,#ff0000 121.5px,#ff0000 286.5px)"></i>
<i style="top:84px;left:388px;width:287px;background:linear-gradient(90deg,#ff8600 0.5px,#ff6a00 46.5px,#ff5000 77.5px,#ff3a00 97.5px,#ff2800 108.5px,#ff1900 114.5px,#ff0e00 117.5px,#ff0200 119.5px,#ff0000 120.5px,#ff0000 286.5px)"></i>
<i style="top:85px;left:388px;width:287px;background:linear-gradient(90deg,#ff8600 0.5px,#ff6a00 45.5px,#ff5100 76.5px,#ff3a00 96.5px,#ff2800 107.5px,#ff1900 113.5px,#ff0e00 116.5px,#ff0200 118.5px,#ff0000 119.5px,#ff0000 286.5px)"></i>
<i style="top:86px;left:388px;width:287px;background:linear-gradient(90deg,#ff8600 0.5px,#ff6a00 45.5px,#ff5000 76.5px,#ff3a00 95.5px,#ff2800 106.5px,#ff1900 112.5px,#ff0e00 115.5px,#ff0200 117.5px,#ff0000 119.5px,#ff0000 286.5px)"></i>
<i style="top:87px;left:388px;width:287px;background:linear-gradient(90deg,#ff8600 0.5px,#ff6900 45.5px,#ff5000 75.5px,#ff3a00 94.5px,#ff2800 105.5px,#ff1900 111.5px,#ff0e00 114.5px,#ff0200 116.5px,#ff0000 118.5px,#ff0000 286.5px)"></i>
<i style="top:88px;left:388px;width:287px;background:linear-gradient(90deg,#ff8500 0.5px,#ff6900 44.5px,#ff5000 74.5px,#ff3a00 93.5px,#ff2800 104.5px,#ff1900 110.5px,#ff0d00 113.5px,#ff0100 115.5px,#ff0000 118.5px,#ff0000 286.5px)"></i>
<i style="top:89px;left:388px;width:287px;background:linear-gradient(90deg,#ff8500 0.5px,#ff6900 44.5px,#ff4f00 74.5px,#ff3900 93.5px,#ff2600 104.5px,#ff1600 110.5px,#ff0d00 112.5px,#ff0100 114.5px,#ff0000 117.5px,#ff0000 286.5px)"></i>
<i style="top:90px;left:388px;width:287px;background:linear-gradient(90deg,#ff8500 0.5px,#ff6800 44.5px,#ff4e00 74.5px,#ff3900 92.5px,#ff2600 103.5px,#ff1600 109.5px,#ff0d00 111.5px,#ff0100 113.5px,#ff0000 116.5px,#ff0000 286.5px)"></i>
<i style="top:91px;left:388px;width:287px;background:linear-gradient(90deg,#ff8400 0.5px,#ff6900 43.5px,#ff4f00 73.5px,#ff3900 91.5px,#ff2600 102.5px,#ff1900 107.5px,#ff0d00 110.5px,#ff0100 112.5px,#ff0000 116.5px,#ff0000 286.5px)"></i>
<i style="top:92px;left:388px;width:287px;background:linear-gradient(90deg,#ff8400 0.5px,#ff6800 43.5px,#ff4f00 72.5px,#ff3900 90.5px,#ff2600 101.5px,#ff1900 106.5px,#ff0e00 109.5px,#ff0100 111.5px,#ff0000 114.5px,#ff0000 286.5px)"></i>
<i style="top:93px;left:388px;width:287px;background:linear-gradient(90deg,#ff8400 0.5px,#ff6800 43.5px,#ff4e00 72.5px,#ff3800 90.5px,#ff2600 100.5px,#ff1a00 105.5px,#ff0e00 108.5px,#ff0100 110.5px,#ff0000 113.5px,#ff0000 286.5px)"></i>
<i style="top:94px;left:388px;width:287px;background:linear-gradient(90deg,#ff8400 0.5px,#ff6800 42.5px,#ff4e00 71.5px,#ff3800 89.5px,#ff2700 99.5px,#ff1600 105.5px,#ff0e00 107.5px,#ff0200 109.5px,#ff0000 111.5px,#ff0000 286.5px)"></i>
<i style="top:95px;left:388px;width:287px;background:linear-gradient(90deg,#ff8300 0.5px,#ff6700 42.5px,#ff4e00 70.5px,#ff3800 88.5px,#ff2700 98.5px,#ff1600 104.5px,#ff0e00 106.5px,#ff0200 108.5px,#ff0000 110.5px,#ff0000 286.5px)"></i>
<i style="top:96px;left:388px;width:287px;background:linear-gradient(90deg,#ff8300 0.5px,#ff6700 42.5px,#ff4e00 70.5px,#ff3900 87.5px,#ff2700 97.5px,#ff1700 103.5px,#ff0e00 105.5px,#ff0200 107.5px,#ff0000 109.5px,#ff0000 286.5px)"></i>
<i style="top:97px;left:388px;width:287px;background:linear-gradient(90deg,#ff8300 0.5px,#ff6700 41.5px,#ff4e00 69.5px,#ff3900 86.5px,#ff2700 96.5px,#ff1700 102.5px,#ff0e00 104.5px,#ff0200 106.5px,#ff0000 107.5px,#ff0000 286.5px)"></i>
<i style="top:98px;left:388px;width:287px;background:linear-gradient(90deg,#ff8300 0.5px,#ff6700 41.5px,#ff4d00 69.5px,#ff3700 86.5px,#ff2500 96.5px,#ff1700 101.5px,#ff0f00 103.5px,#ff0200 105.5px,#ff0000 106.5px,#ff0000 286.5px)"></i>
<i style="top:99px;left:388px;width:287px;background:linear-gradient(90deg,#ff8200 0.5px,#ff6600 41.5px,#ff4d00 68.5px,#ff3800 85.5px,#ff2500 95.5px,#ff1700 100.5px,#ff0f00 102.5px,#ff0300 104.5px,#ff0000 105.5px,#ff0000 286.5px)"></i>
<i style="top:100px;left:388px;width:287px;background:linear-gradient(90deg,#ff8200 0.5px,#ff6600 40.5px,#ff4d00 67.5px,#ff3800 84.5px,#ff2600 94.5px,#ff1800 99.5px,#ff0f00 101.5px,#ff0300 103.5px,#ff0000 104.5px,#ff0000 286.5px)"></i>
<i style="top:101px;left:388px;width:287px;background:linear-gradient(90deg,#ff8200 0.5px,#ff6600 40.5px,#ff4d00 67.5px,#ff3700 84.5px,#ff2600 93.5px,#ff1800 98.5px,#ff1000 100.5px,#ff0400 102.5px,#ff0000 103.5px,#ff0000 286.5px)"></i>
<i style="top:102px;left:388px;width:287px;background:linear-gradient(90deg,#ff8100 0.5px,#ff6500 40.5px,#ff4c00 67.5px,#ff3700 83.5px,#ff2600 92.5px,#ff1800 97.5px,#ff0b00 100.5px,#ff0400 101.5px,#ff0000 102.5px,#ff0000 286.5px)"></i>
<i style="top:103px;left:388px;width:287px;background:linear-gradient(90deg,#ff8100 0.5px,#ff6600 39.5px,#ff4c00 66.5px,#ff3700 82.5px,#ff2600 91.5px,#ff1900 96.5px,#ff0b00 99.5px,#ff0000 101.5px,#ff0000 286.5px)"></i>
<i style="top:104px;left:388px;width:287px;background:linear-gradient(90deg,#ff8100 0.5px,#ff6500 39.5px,#ff4c00 65.5px,#ff3700 81.5px,#ff2700 90.5px,#ff1900 95.5px,#ff0c00 98.5px,#ff0000 100.5px,#ff0000 286.5px)"></i>
<i style="top:105px;left:388px;width:287px;background:linear-gradient(90deg,#ff8100 0.5px,#ff6400 39.5px,#ff4b00 65.5px,#ff3600 81.5px,#ff2500 90.5px,#ff1600 95.5px,#ff0c00 97.5px,#ff0000 99.5px,#ff0000 286.5px)"></i>
<i style="top:106px;left:388px;width:287px;background:linear-gradient(90deg,#ff8000 0.5px,#ff6500 38.5px,#ff4c00 64.5px,#ff3600 80.5px,#ff2500 89.5px,#ff1600 94.5px,#ff0d00 96.5px,#ff0000 98.5px,#ff0000 286.5px)"></i>
<i style="top:107px;left:388px;width:287px;background:linear-gradient(90deg,#ff8000 0.5px,#ff6400 38.5px,#ff4b00 64.5px,#ff3500 80.5px,#ff2300 89.5px,#ff1700 93.5px,#ff0e00 95.5px,#ff0100 97.5px,#ff0000 286.5px)"></i>
<i style="top:108px;left:388px;width:287px;background:linear-gradient(90deg,#ff8000 0.5px,#ff6400 38.5px,#ff4b00 63.5px,#ff3500 79.5px,#ff2300 88.5px,#ff1700 92.5px,#ff0e00 94.5px,#ff0100 96.5px,#ff0000 100.5px,#ff0000 286.5px)"></i>
<i style="top:109px;left:388px;width:287px;background:linear-gradient(90deg,#ff7f00 0.5px,#ff6400 37.5px,#ff4b00 62.5px,#ff3600 78.5px,#ff2400 87.5px,#ff1800 91.5px,#ff0f00 93.5px,#ff0200 95.5px,#ff0000 96.5px,#ff0000 286.5px)"></i>
<i style="top:110px;left:388px;width:287px;background:linear-gradient(90deg,#ff7f00 0.5px,#ff6400 37.5px,#ff4b00 62.5px,#ff3600 77.5px,#ff2400 86.5px,#ff1400 91.5px,#ff0a00 93.5px,#ff0300 94.5px,#ff0000 95.5px,#ff0000 286.5px)"></i>
<i style="top:111px;left:388px;width:287px;background:linear-gradient(90deg,#ff7f00 0.5px,#ff6300 37.5px,#ff4a00 62.5px,#ff3500 77.5px,#ff2400 85.5px,#ff1500 90.5px,#ff0b00 92.5px,#ff0400 93.5px,#ff0000 94.5px,#ff0000 286.5px)"></i>
<i style="top:112px;left:388px;width:287px;background:linear-gradient(90deg,#ff7e00 0.5px,#ff6200 37.5px,#ff4a00 61.5px,#ff3500 76.5px,#ff2500 84.5px,#ff1600 89.5px,#ff0c00 91.5px,#ff0000 93.5px,#ff0000 286.5px)"></i>
<i style="top:113px;left:388px;width:287px;background:linear-gradient(90deg,#ff7e00 0.5px,#ff6300 36.5px,#ff4a00 60.5px,#ff3500 75.5px,#ff2300 84.5px,#ff1600 88.5px,#ff0d00 90.5px,#ff0000 92.5px,#ff0000 286.5px)"></i>
<i style="top:114px;left:388px;width:287px;background:linear-gradient(90deg,#ff7e00 0.5px,#ff6200 36.5px,#ff4a00 60.5px,#ff3400 75.5px,#ff2300 83.5px,#ff1700 87.5px,#ff0e00 89.5px,#ff0000 91.5px,#ff0000 286.5px)"></i>
<i style="top:115px;left:388px;width:287px;background:linear-gradient(90deg,#ff7e00 0.5px,#ff6200 36.5px,#ff4900 60.5px,#ff3400 74.5px,#ff2400 82.5px,#ff1700 86.5px,#ff0e00 88.5px,#ff0100 90.5px,#ff0000 101.5px,#ff0000 286.5px)"></i>
<i style="top:116px;left:388px;width:287px;background:linear-gradient(90deg,#ff7d00 0.5px,#ff6200 35.5px,#ff4900 59.5px,#ff3500 73.5px,#ff2400 81.5px,#ff1800 85.5px,#ff0f00 87.5px,#ff0200 89.5px,#ff0000 90.5px,#ff0000 286.5px)"></i>
<i style="top:117px;left:388px;width:287px;background:linear-gradient(90deg,#ff7d00 0.5px,#ff6200 35.5px,#ff4900 58.5px,#ff3500 72.5px,#ff2500 80.5px,#ff1500 85.5px,#ff0b00 87.5px,#ff0300 88.5px,#ff0000 89.5px,#ff0000 286.5px)"></i>
<i style="top:118px;left:388px;width:287px;background:linear-gradient(90deg,#ff7d00 0.5px,#ff6100 35.5px,#ff4900 58.5px,#ff3400 72.5px,#ff2300 80.5px,#ff1600 84.5px,#ff0c00 86.5px,#ff0500 87.5px,#ff0000 88.5px,#ff0000 286.5px)"></i>
<i style="top:119px;left:388px;width:287px;background:linear-gradient(90deg,#ff7c00 0.5px,#ff6100 34.5px,#ff4900 57.5px,#ff3400 71.5px,#ff2300 79.5px,#ff1700 83.5px,#ff0d00 85.5px,#ff0000 87.5px,#ff0000 286.5px)"></i>
<i style="top:120px;left:388px;width:287px;background:linear-gradient(90deg,#ff7c00 0.5px,#ff6100 34.5px,#ff4800 57.5px,#ff3300 71.5px,#ff2100 79.5px,#ff1300 83.5px,#ff0800 85.5px,#ff0000 86.5px,#ff0000 286.5px)"></i>
<i style="top:121px;left:388px;width:287px;background:linear-gradient(90deg,#ff7c00 0.5px,#ff6000 34.5px,#ff4900 56.5px,#ff3400 70.5px,#ff2200 78.5px,#ff1400 82.5px,#ff0900 84.5px,#ff0200 85.5px,#ff0000 87.5px,#ff0000 286.5px)"></i>
<i style="top:122px;left:388px;width:287px;background:linear-gradient(90deg,#ff7c00 0.5px,#ff6000 34.5px,#ff4800 56.5px,#ff3200 70.5px,#ff2300 77.5px,#ff1500 81.5px,#ff0a00 83.5px,#ff0300 84.5px,#ff0000 85.5px,#ff0000 286.5px)"></i>
<i style="top:123px;left:388px;width:287px;background:linear-gradient(90deg,#ff7b00 0.5px,#ff6000 33.5px,#ff4800 55.5px,#ff3300 69.5px,#ff2000 77.5px,#ff1200 81.5px,#ff0500 83.5px,#ff0000 84.5px,#ff0000 286.5px)"></i>
<i style="top:124px;left:388px;width:287px;background:linear-gradient(90deg,#ff7b00 0.5px,#ff6000 33.5px,#ff4700 55.5px,#ff3300 68.5px,#ff2100 76.5px,#ff1300 80.5px,#ff0000 83.5px,#ff0000 286.5px)"></i>
<i style="top:125px;left:388px;width:287px;background:linear-gradient(90deg,#ff7b00 0.5px,#ff5f00 33.5px,#ff4600 55.5px,#ff3200 68.5px,#ff2200 75.5px,#ff1400 79.5px,#ff0800 81.5px,#ff0100 82.5px,#ff0000 286.5px)"></i>
<i style="top:126px;left:388px;width:287px;background:linear-gradient(90deg,#ff7a00 0.5px,#ff5f00 33.5px,#ff4700 54.5px,#ff3200 67.5px,#ff2300 74.5px,#ff1500 78.5px,#ff0a00 80.5px,#ff0300 81.5px,#ff0000 82.5px,#ff0000 286.5px)"></i>
<i style="top:127px;left:388px;width:287px;background:linear-gradient(90deg,#ff7a00 0.5px,#ff5f00 32.5px,#ff4700 53.5px,#ff3300 66.5px,#ff2300 73.5px,#ff1600 77.5px,#ff0c00 79.5px,#ff0400 80.5px,#ff0000 81.5px,#ff0000 286.5px)"></i>
<i style="top:128px;left:388px;width:287px;background:linear-gradient(90deg,#ff7a00 0.5px,#ff5f00 32.5px,#ff4700 53.5px,#ff3200 66.5px,#ff2100 73.5px,#ff1300 77.5px,#ff0000 80.5px,#ff0000 286.5px)"></i>
<i style="top:129px;left:388px;width:287px;background:linear-gradient(90deg,#ff7900 0.5px,#ff5e00 32.5px,#ff4600 53.5px,#ff3200 65.5px,#ff2200 72.5px,#ff1400 76.5px,#ff0800 78.5px,#ff0100 79.5px,#ff0000 286.5px)"></i>
<i style="top:130px;left:388px;width:287px;background:linear-gradient(90deg,#ff7900 0.5px,#ff5e00 31.5px,#ff4600 52.5px,#ff3100 65.5px,#ff2000 72.5px,#ff1500 75.5px,#ff0a00 77.5px,#ff0300 78.5px,#ff0000 79.5px,#ff0000 286.5px)"></i>
<i style="top:131px;left:388px;width:287px;background:linear-gradient(90deg,#ff7900 0.5px,#ff5e00 31.5px,#ff4500 52.5px,#ff3200 64.5px,#ff2100 71.5px,#ff1200 75.5px,#ff0500 77.5px,#ff0000 78.5px,#ff0000 286.5px)"></i>
<i style="top:132px;left:388px;width:287px;background:linear-gradient(90deg,#ff7800 0.5px,#ff5d00 31.5px,#ff4600 51.5px,#ff3200 63.5px,#ff2200 70.5px,#ff1300 74.5px,#ff0000 77.5px,#ff0000 286.5px)"></i>
<i style="top:133px;left:388px;width:287px;background:linear-gradient(90deg,#ff7800 0.5px,#ff5d00 31.5px,#ff4500 51.5px,#ff3100 63.5px,#ff2000 70.5px,#ff1500 73.5px,#ff0900 75.5px,#ff0100 76.5px,#ff0000 81.5px,#ff0000 286.5px)"></i>
<i style="top:134px;left:388px;width:287px;background:linear-gradient(90deg,#ff7800 0.5px,#ff5d00 30.5px,#ff4600 50.5px,#ff3200 62.5px,#ff2100 69.5px,#ff1600 72.5px,#ff0b00 74.5px,#ff0300 75.5px,#ff0000 76.5px,#ff0000 286.5px)"></i>
<i style="top:135px;left:388px;width:287px;background:linear-gradient(90deg,#ff7800 0.5px,#ff5d00 30.5px,#ff4500 50.5px,#ff3000 62.5px,#ff1f00 69.5px,#ff1300 72.5px,#ff0000 75.5px,#ff0000 286.5px)"></i>
<i style="top:136px;left:388px;width:287px;background:linear-gradient(90deg,#ff7700 0.5px,#ff5c00 30.5px,#ff4500 49.5px,#ff3100 61.5px,#ff2000 68.5px,#ff1400 71.5px,#ff0800 73.5px,#ff0000 74.5px,#ff0000 286.5px)"></i>
<i style="top:137px;left:388px;width:287px;background:linear-gradient(90deg,#ff7700 0.5px,#ff5c00 30.5px,#ff4400 49.5px,#ff3000 61.5px,#ff2100 67.5px,#ff1600 70.5px,#ff0a00 72.5px,#ff0300 73.5px,#ff0000 74.5px,#ff0000 286.5px)"></i>
<i style="top:138px;left:388px;width:287px;background:linear-gradient(90deg,#ff7700 0.5px,#ff5c00 29.5px,#ff4500 48.5px,#ff3000 60.5px,#ff2200 66.5px,#ff1200 70.5px,#ff0500 72.5px,#ff0000 73.5px,#ff0000 286.5px)"></i>
<i style="top:139px;left:388px;width:287px;background:linear-gradient(90deg,#ff7600 0.5px,#ff5c00 29.5px,#ff4400 48.5px,#ff2f00 60.5px,#ff2000 66.5px,#ff1400 69.5px,#ff0800 71.5px,#ff0000 72.5px,#ff0000 286.5px)"></i>
<i style="top:140px;left:388px;width:287px;background:linear-gradient(90deg,#ff7600 0.5px,#ff5b00 29.5px,#ff4300 48.5px,#ff3000 59.5px,#ff2100 65.5px,#ff1600 68.5px,#ff0a00 70.5px,#ff0200 71.5px,#ff0000 72.5px,#ff0000 286.5px)"></i>
<i style="top:141px;left:388px;width:287px;background:linear-gradient(90deg,#ff7600 0.5px,#ff5b00 29.5px,#ff4200 48.5px,#ff2f00 59.5px,#ff1f00 65.5px,#ff1200 68.5px,#ff0500 70.5px,#ff0000 71.5px,#ff0000 286.5px)"></i>
<i style="top:142px;left:388px;width:287px;background:linear-gradient(90deg,#ff7500 0.5px,#ff5b00 28.5px,#ff4300 47.5px,#ff2f00 58.5px,#ff2000 64.5px,#ff1400 67.5px,#ff0800 69.5px,#ff0000 70.5px,#ff0000 286.5px)"></i>
<i style="top:143px;left:388px;width:287px;background:linear-gradient(90deg,#ff7500 0.5px,#ff5b00 28.5px,#ff4400 46.5px,#ff3000 57.5px,#ff2100 63.5px,#ff1600 66.5px,#ff0a00 68.5px,#ff0300 69.5px,#ff0000 70.5px,#ff0000 286.5px)"></i>
<i style="top:144px;left:388px;width:287px;background:linear-gradient(90deg,#ff7500 0.5px,#ff5a00 28.5px,#ff4300 46.5px,#ff2f00 57.5px,#ff1f00 63.5px,#ff1300 66.5px,#ff0000 69.5px,#ff0000 286.5px)"></i>
<i style="top:145px;left:388px;width:287px;background:linear-gradient(90deg,#ff7500 0.5px,#ff5a00 28.5px,#ff4200 46.5px,#ff2e00 57.5px,#ff1d00 63.5px,#ff0f00 66.5px,#ff0000 68.5px,#ff0000 286.5px)"></i>
<i style="top:146px;left:388px;width:287px;background:linear-gradient(90deg,#ff7400 0.5px,#ff5a00 27.5px,#ff4300 45.5px,#ff2f00 56.5px,#ff1e00 62.5px,#ff1200 65.5px,#ff0300 67.5px,#ff0000 68.5px,#ff0000 286.5px)"></i>
<i style="top:147px;left:388px;width:287px;background:linear-gradient(90deg,#ff7400 0.5px,#ff5a00 27.5px,#ff4200 45.5px,#ff3000 55.5px,#ff2000 61.5px,#ff1400 64.5px,#ff0000 67.5px,#ff0000 286.5px)"></i>
<i style="top:148px;left:388px;width:287px;background:linear-gradient(90deg,#ff7400 0.5px,#ff5900 27.5px,#ff4300 44.5px,#ff2e00 55.5px,#ff1e00 61.5px,#ff1000 64.5px,#ff0100 66.5px,#ff0000 70.5px,#ff0000 286.5px)"></i>
<i style="top:149px;left:388px;width:287px;background:linear-gradient(90deg,#ff7300 0.5px,#ff5900 27.5px,#ff4200 44.5px,#ff2f00 54.5px,#ff1f00 60.5px,#ff1200 63.5px,#ff0400 65.5px,#ff0000 66.5px,#ff0000 286.5px)"></i>
<i style="top:150px;left:388px;width:287px;background:linear-gradient(90deg,#ff7300 0.5px,#ff5800 27.5px,#ff4100 44.5px,#ff2e00 54.5px,#ff1d00 60.5px,#ff0f00 63.5px,#ff0000 65.5px,#ff0000 286.5px)"></i>
<i style="top:151px;left:388px;width:287px;background:linear-gradient(90deg,#ff7300 0.5px,#ff5900 26.5px,#ff4200 43.5px,#ff2f00 53.5px,#ff1e00 59.5px,#ff1100 62.5px,#ff0300 64.5px,#ff0000 65.5px,#ff0000 286.5px)"></i>
<i style="top:152px;left:388px;width:287px;background:linear-gradient(90deg,#ff7200 0.5px,#ff5800 26.5px,#ff4100 43.5px,#ff2e00 53.5px,#ff1c00 59.5px,#ff0e00 62.5px,#ff0000 64.5px,#ff0000 286.5px)"></i>
<i style="top:153px;left:388px;width:287px;background:linear-gradient(90deg,#ff7200 0.5px,#ff5800 26.5px,#ff4000 43.5px,#ff2c00 53.5px,#ff1e00 58.5px,#ff1000 61.5px,#ff0100 63.5px,#ff0000 67.5px,#ff0000 286.5px)"></i>
<i style="top:154px;left:388px;width:287px;background:linear-gradient(90deg,#ff7200 0.5px,#ff5700 26.5px,#ff4100 42.5px,#ff2d00 52.5px,#ff1f00 57.5px,#ff1300 60.5px,#ff0500 62.5px,#ff0000 63.5px,#ff0000 286.5px)"></i>
<i style="top:155px;left:388px;width:287px;background:linear-gradient(90deg,#ff7200 0.5px,#ff5800 25.5px,#ff4000 42.5px,#ff2c00 52.5px,#ff1d00 57.5px,#ff1000 60.5px,#ff0000 62.5px,#ff0000 286.5px)"></i>
<i style="top:156px;left:388px;width:287px;background:linear-gradient(90deg,#ff7100 0.5px,#ff5700 25.5px,#ff4100 41.5px,#ff2d00 51.5px,#ff1f00 56.5px,#ff1200 59.5px,#ff0400 61.5px,#ff0000 62.5px,#ff0000 286.5px)"></i>
<i style="top:157px;left:388px;width:287px;background:linear-gradient(90deg,#ff7100 0.5px,#ff5700 25.5px,#ff4000 41.5px,#ff2c00 51.5px,#ff1d00 56.5px,#ff0f00 59.5px,#ff0000 61.5px,#ff0000 286.5px)"></i>
<i style="top:158px;left:388px;width:287px;background:linear-gradient(90deg,#ff7100 0.5px,#ff5600 25.5px,#ff3f00 41.5px,#ff2d00 50.5px,#ff1f00 55.5px,#ff1200 58.5px,#ff0300 60.5px,#ff0000 61.5px,#ff0000 286.5px)"></i>
<i style="top:159px;left:388px;width:287px;background:linear-gradient(90deg,#ff7000 0.5px,#ff5600 25.5px,#ff3f00 41.5px,#ff2c00 50.5px,#ff1d00 55.5px,#ff0e00 58.5px,#ff0000 60.5px,#ff0000 286.5px)"></i>
<i style="top:160px;left:388px;width:287px;background:linear-gradient(90deg,#ff7000 0.5px,#ff5700 24.5px,#ff3f00 40.5px,#ff2d00 49.5px,#ff1f00 54.5px,#ff1100 57.5px,#ff0200 59.5px,#ff0000 60.5px,#ff0000 286.5px)"></i>
<i style="top:161px;left:388px;width:287px;background:linear-gradient(90deg,#ff7000 0.5px,#ff5600 24.5px,#ff3f00 40.5px,#ff2c00 49.5px,#ff1d00 54.5px,#ff1400 56.5px,#ff0e00 57.5px,#ff0600 58.5px,#ff0000 59.5px,#ff0000 286.5px)"></i>
<i style="top:162px;left:388px;width:287px;background:linear-gradient(90deg,#ff6f00 0.5px,#ff5600 24.5px,#ff4000 39.5px,#ff2d00 48.5px,#ff1f00 53.5px,#ff1100 56.5px,#ff0200 58.5px,#ff0000 60.5px,#ff0000 286.5px)"></i>
<i style="top:163px;left:388px;width:287px;background:linear-gradient(90deg,#ff6f00 0.5px,#ff5500 24.5px,#ff3f00 39.5px,#ff2c00 48.5px,#ff1d00 53.5px,#ff1400 55.5px,#ff0e00 56.5px,#ff0600 57.5px,#ff0000 58.5px,#ff0000 286.5px)"></i>
<i style="top:164px;left:388px;width:287px;background:linear-gradient(90deg,#ff6f00 0.5px,#ff5500 24.5px,#ff3e00 39.5px,#ff2b00 48.5px,#ff1b00 53.5px,#ff1100 55.5px,#ff0100 57.5px,#ff0000 61.5px,#ff0000 286.5px)"></i>
<i style="top:165px;left:388px;width:287px;background:linear-gradient(90deg,#ff6f00 0.5px,#ff5500 23.5px,#ff3f00 38.5px,#ff2c00 47.5px,#ff1d00 52.5px,#ff1400 54.5px,#ff0e00 55.5px,#ff0500 56.5px,#ff0000 57.5px,#ff0000 286.5px)"></i>
<i style="top:166px;left:388px;width:287px;background:linear-gradient(90deg,#ff6e00 0.5px,#ff5500 23.5px,#ff3e00 38.5px,#ff2b00 47.5px,#ff1b00 52.5px,#ff1100 54.5px,#ff0100 56.5px,#ff0000 61.5px,#ff0000 286.5px)"></i>
<i style="top:167px;left:388px;width:287px;background:linear-gradient(90deg,#ff6e00 0.5px,#ff5400 23.5px,#ff3d00 38.5px,#ff2a00 47.5px,#ff1d00 51.5px,#ff1400 53.5px,#ff0e00 54.5px,#ff0600 55.5px,#ff0000 56.5px,#ff0000 286.5px)"></i>
<i style="top:168px;left:388px;width:287px;background:linear-gradient(90deg,#ff6e00 0.5px,#ff5400 23.5px,#ff3d00 38.5px,#ff2b00 46.5px,#ff1b00 51.5px,#ff1100 53.5px,#ff0100 55.5px,#ff0000 58.5px,#ff0000 286.5px)"></i>
<i style="top:169px;left:388px;width:287px;background:linear-gradient(90deg,#ff6d00 0.5px,#ff5300 23.5px,#ff3e00 37.5px,#ff2a00 46.5px,#ff1d00 50.5px,#ff1400 52.5px,#ff0e00 53.5px,#ff0600 54.5px,#ff0000 55.5px,#ff0000 286.5px)"></i>
<i style="top:170px;left:388px;width:287px;background:linear-gradient(90deg,#ff6d00 0.5px,#ff5300 23.5px,#ff3d00 37.5px,#ff2b00 45.5px,#ff1b00 50.5px,#ff1200 52.5px,#ff0200 54.5px,#ff0000 56.5px,#ff0000 286.5px)"></i>
<i style="top:171px;left:388px;width:287px;background:linear-gradient(90deg,#ff6d00 0.5px,#ff5400 22.5px,#ff3e00 36.5px,#ff2a00 45.5px,#ff1900 50.5px,#ff0f00 52.5px,#ff0000 54.5px,#ff0000 286.5px)"></i>
<i style="top:172px;left:388px;width:287px;background:linear-gradient(90deg,#ff6d00 0.5px,#ff5300 22.5px,#ff3d00 36.5px,#ff2c00 44.5px,#ff1c00 49.5px,#ff1200 51.5px,#ff0300 53.5px,#ff0000 54.5px,#ff0000 286.5px)"></i>
<i style="top:173px;left:388px;width:287px;background:linear-gradient(90deg,#ff6c00 0.5px,#ff5300 22.5px,#ff3d00 36.5px,#ff2b00 44.5px,#ff1a00 49.5px,#ff0f00 51.5px,#ff0000 53.5px,#ff0000 286.5px)"></i>
<i style="top:174px;left:388px;width:287px;background:linear-gradient(90deg,#ff6c00 0.5px,#ff5200 22.5px,#ff3c00 36.5px,#ff2a00 44.5px,#ff1c00 48.5px,#ff1300 50.5px,#ff0c00 51.5px,#ff0300 52.5px,#ff0000 53.5px,#ff0000 286.5px)"></i>
<i style="top:175px;left:388px;width:287px;background:linear-gradient(90deg,#ff6c00 0.5px,#ff5200 22.5px,#ff3b00 36.5px,#ff2800 44.5px,#ff1b00 48.5px,#ff1000 50.5px,#ff0000 52.5px,#ff0000 286.5px)"></i>
<i style="top:176px;left:388px;width:287px;background:linear-gradient(90deg,#ff6b00 0.5px,#ff5100 22.5px,#ff3c00 35.5px,#ff2a00 43.5px,#ff1d00 47.5px,#ff1400 49.5px,#ff0d00 50.5px,#ff0500 51.5px,#ff0000 52.5px,#ff0000 286.5px)"></i>
<i style="top:177px;left:388px;width:287px;background:linear-gradient(90deg,#ff6b00 0.5px,#ff5200 21.5px,#ff3c00 35.5px,#ff2900 43.5px,#ff1b00 47.5px,#ff1100 49.5px,#ff0100 51.5px,#ff0000 286.5px)"></i>
<i style="top:178px;left:388px;width:287px;background:linear-gradient(90deg,#ff6b00 0.5px,#ff5200 21.5px,#ff3b00 35.5px,#ff2800 43.5px,#ff1900 47.5px,#ff0e00 49.5px,#ff0600 50.5px,#ff0000 51.5px,#ff0000 286.5px)"></i>
<i style="top:179px;left:388px;width:287px;background:linear-gradient(90deg,#ff6b00 0.5px,#ff5100 21.5px,#ff3c00 34.5px,#ff2a00 42.5px,#ff1c00 46.5px,#ff1200 48.5px,#ff0200 50.5px,#ff0000 51.5px,#ff0000 286.5px)"></i>
<i style="top:180px;left:388px;width:287px;background:linear-gradient(90deg,#ff6a00 0.5px,#ff5100 21.5px,#ff3b00 34.5px,#ff2900 42.5px,#ff1a00 46.5px,#ff1000 48.5px,#ff0000 50.5px,#ff0000 286.5px)"></i>
<i style="top:181px;left:388px;width:287px;background:linear-gradient(90deg,#ff6a00 0.5px,#ff5100 21.5px,#ff3b00 34.5px,#ff2700 42.5px,#ff1900 46.5px,#ff0d00 48.5px,#ff0400 49.5px,#ff0000 50.5px,#ff0000 286.5px)"></i>
<i style="top:182px;left:388px;width:287px;background:linear-gradient(90deg,#ff6a00 0.5px,#ff5000 21.5px,#ff3a00 34.5px,#ff2900 41.5px,#ff1b00 45.5px,#ff1100 47.5px,#ff0100 49.5px,#ff0000 286.5px)"></i>
<i style="top:183px;left:388px;width:287px;background:linear-gradient(90deg,#ff6a00 0.5px,#ff5100 20.5px,#ff3b00 33.5px,#ff2800 41.5px,#ff1a00 45.5px,#ff0f00 47.5px,#ff0600 48.5px,#ff0000 49.5px,#ff0000 286.5px)"></i>
<i style="top:184px;left:388px;width:287px;background:linear-gradient(90deg,#ff6900 0.5px,#ff5100 20.5px,#ff3b00 33.5px,#ff2700 41.5px,#ff1800 45.5px,#ff0c00 47.5px,#ff0300 48.5px,#ff0000 49.5px,#ff0000 286.5px)"></i>
<i style="top:185px;left:388px;width:287px;background:linear-gradient(90deg,#ff6900 0.5px,#ff5000 20.5px,#ff3a00 33.5px,#ff2900 40.5px,#ff1b00 44.5px,#ff1000 46.5px,#ff0000 48.5px,#ff0000 286.5px)"></i>
<i style="top:186px;left:388px;width:287px;background:linear-gradient(90deg,#ff6900 0.5px,#ff5000 20.5px,#ff3900 33.5px,#ff2800 40.5px,#ff1900 44.5px,#ff0e00 46.5px,#ff0500 47.5px,#ff0000 48.5px,#ff0000 286.5px)"></i>
<i style="top:187px;left:388px;width:287px;background:linear-gradient(90deg,#ff6900 0.5px,#ff4f00 20.5px,#ff3b00 32.5px,#ff2a00 39.5px,#ff1c00 43.5px,#ff1200 45.5px,#ff0200 47.5px,#ff0000 48.5px,#ff0000 286.5px)"></i>
<i style="top:188px;left:388px;width:287px;background:linear-gradient(90deg,#ff6800 0.5px,#ff4f00 20.5px,#ff3a00 32.5px,#ff2900 39.5px,#ff1b00 43.5px,#ff1000 45.5px,#ff0000 47.5px,#ff0000 286.5px)"></i>
<i style="top:189px;left:388px;width:287px;background:linear-gradient(90deg,#ff6800 0.5px,#ff4f00 20.5px,#ff3a00 32.5px,#ff2800 39.5px,#ff1900 43.5px,#ff0e00 45.5px,#ff0500 46.5px,#ff0000 47.5px,#ff0000 286.5px)"></i>
<i style="top:190px;left:388px;width:287px;background:linear-gradient(90deg,#ff6800 0.5px,#ff4e00 20.5px,#ff3900 32.5px,#ff2700 39.5px,#ff1800 43.5px,#ff0b00 45.5px,#ff0200 46.5px,#ff0000 48.5px,#ff0000 286.5px)"></i>
<i style="top:191px;left:388px;width:287px;background:linear-gradient(90deg,#ff6800 0.5px,#ff4f00 19.5px,#ff3a00 31.5px,#ff2900 38.5px,#ff1b00 42.5px,#ff1000 44.5px,#ff0000 46.5px,#ff0000 286.5px)"></i>
<i style="top:192px;left:388px;width:287px;background:linear-gradient(90deg,#ff6700 0.5px,#ff4f00 19.5px,#ff3a00 31.5px,#ff2800 38.5px,#ff1a00 42.5px,#ff0e00 44.5px,#ff0500 45.5px,#ff0000 46.5px,#ff0000 286.5px)"></i>
<i style="top:193px;left:388px;width:287px;background:linear-gradient(90deg,#ff6700 0.5px,#ff4f00 19.5px,#ff3900 31.5px,#ff2700 38.5px,#ff1800 42.5px,#ff0b00 44.5px,#ff0200 45.5px,#ff0000 46.5px,#ff0000 286.5px)"></i>
<i style="top:194px;left:388px;width:287px;background:linear-gradient(90deg,#ff6700 0.5px,#ff4e00 19.5px,#ff3900 31.5px,#ff2700 38.5px,#ff1700 42.5px,#ff1100 43.5px,#ff0000 45.5px,#ff0000 286.5px)"></i>
<i style="top:195px;left:388px;width:287px;background:linear-gradient(90deg,#ff6700 0.5px,#ff4e00 19.5px,#ff3800 31.5px,#ff2600 38.5px,#ff1a00 41.5px,#ff0f00 43.5px,#ff0600 44.5px,#ff0000 45.5px,#ff0000 286.5px)"></i>
<i style="top:196px;left:388px;width:287px;background:linear-gradient(90deg,#ff6700 0.5px,#ff4d00 19.5px,#ff3700 31.5px,#ff2500 38.5px,#ff1900 41.5px,#ff0c00 43.5px,#ff0300 44.5px,#ff0000 45.5px,#ff0000 286.5px)"></i>
<i style="top:197px;left:388px;width:287px;background:linear-gradient(90deg,#ff6600 0.5px,#ff4d00 19.5px,#ff3700 31.5px,#ff2700 37.5px,#ff1700 41.5px,#ff1200 42.5px,#ff0000 44.5px,#ff0000 286.5px)"></i>
<i style="top:198px;left:388px;width:287px;background:linear-gradient(90deg,#ff6600 0.5px,#ff4d00 19.5px,#ff3900 30.5px,#ff2600 37.5px,#ff1b00 40.5px,#ff1000 42.5px,#ff0000 44.5px,#ff0000 286.5px)"></i>
<i style="top:199px;left:388px;width:287px;background:linear-gradient(90deg,#ff6600 0.5px,#ff4e00 18.5px,#ff3800 30.5px,#ff2500 37.5px,#ff1a00 40.5px,#ff0e00 42.5px,#ff0500 43.5px,#ff0000 44.5px,#ff0000 286.5px)"></i>
<i style="top:200px;left:388px;width:287px;background:linear-gradient(90deg,#ff6600 0.5px,#ff4e00 18.5px,#ff3800 30.5px,#ff2500 37.5px,#ff1800 40.5px,#ff0c00 42.5px,#ff0200 43.5px,#ff0000 44.5px,#ff0000 286.5px)"></i>
<i style="top:201px;left:388px;width:287px;background:linear-gradient(90deg,#ff6600 0.5px,#ff4d00 18.5px,#ff3700 30.5px,#ff2700 36.5px,#ff1700 40.5px,#ff1100 41.5px,#ff0000 43.5px,#ff0000 286.5px)"></i>
<i style="top:202px;left:388px;width:287px;background:linear-gradient(90deg,#ff6500 0.5px,#ff4d00 18.5px,#ff3900 29.5px,#ff2600 36.5px,#ff1b00 39.5px,#ff0f00 41.5px,#ff0000 43.5px,#ff0000 286.5px)"></i>
<i style="top:203px;left:388px;width:287px;background:linear-gradient(90deg,#ff6500 0.5px,#ff4d00 18.5px,#ff3800 29.5px,#ff2600 36.5px,#ff1a00 39.5px,#ff0e00 41.5px,#ff0400 42.5px,#ff0000 43.5px,#ff0000 286.5px)"></i>
<i style="top:204px;left:388px;width:287px;background:linear-gradient(90deg,#ff6500 0.5px,#ff4c00 18.5px,#ff3800 29.5px,#ff2500 36.5px,#ff1900 39.5px,#ff0c00 41.5px,#ff0200 42.5px,#ff0000 43.5px,#ff0000 286.5px)"></i>
<i style="top:205px;left:388px;width:287px;background:linear-gradient(90deg,#ff6500 0.5px,#ff4c00 18.5px,#ff3700 29.5px,#ff2700 35.5px,#ff1700 39.5px,#ff1200 40.5px,#ff0000 42.5px,#ff0000 286.5px)"></i>
<i style="top:206px;left:388px;width:287px;background:linear-gradient(90deg,#ff6500 0.5px,#ff4c00 18.5px,#ff3700 29.5px,#ff2700 35.5px,#ff1b00 38.5px,#ff1000 40.5px,#ff0000 42.5px,#ff0000 286.5px)"></i>
<i style="top:207px;left:388px;width:287px;background:linear-gradient(90deg,#ff6500 0.5px,#ff4c00 18.5px,#ff3600 29.5px,#ff2600 35.5px,#ff1a00 38.5px,#ff0e00 40.5px,#ff0500 41.5px,#ff0000 42.5px,#ff0000 286.5px)"></i>
<i style="top:208px;left:388px;width:287px;background:linear-gradient(90deg,#ff6400 0.5px,#ff4b00 18.5px,#ff3600 29.5px,#ff2500 35.5px,#ff1900 38.5px,#ff0d00 40.5px,#ff0300 41.5px,#ff0000 42.5px,#ff0000 286.5px)"></i>
<i style="top:209px;left:388px;width:287px;background:linear-gradient(90deg,#ff6400 0.5px,#ff4b00 18.5px,#ff3600 29.5px,#ff2500 35.5px,#ff1800 38.5px,#ff0b00 40.5px,#ff0100 41.5px,#ff0000 44.5px,#ff0000 286.5px)"></i>
<i style="top:210px;left:388px;width:287px;background:linear-gradient(90deg,#ff6400 0.5px,#ff4c00 17.5px,#ff3700 28.5px,#ff2700 34.5px,#ff1700 38.5px,#ff1100 39.5px,#ff0000 41.5px,#ff0000 286.5px)"></i>
<i style="top:211px;left:388px;width:287px;background:linear-gradient(90deg,#ff6400 0.5px,#ff4c00 17.5px,#ff3700 28.5px,#ff2700 34.5px,#ff1b00 37.5px,#ff1000 39.5px,#ff0000 41.5px,#ff0000 286.5px)"></i>
<i style="top:212px;left:388px;width:287px;background:linear-gradient(90deg,#ff6400 0.5px,#ff4c00 17.5px,#ff3700 28.5px,#ff2600 34.5px,#ff1a00 37.5px,#ff0f00 39.5px,#ff0600 40.5px,#ff0000 41.5px,#ff0000 286.5px)"></i>
<i style="top:213px;left:388px;width:287px;background:linear-gradient(90deg,#ff6400 0.5px,#ff4c00 17.5px,#ff3600 28.5px,#ff2600 34.5px,#ff1a00 37.5px,#ff0d00 39.5px,#ff0400 40.5px,#ff0000 41.5px,#ff0000 286.5px)"></i>
<i style="top:214px;left:388px;width:287px;background:linear-gradient(90deg,#ff6300 0.5px,#ff4c00 17.5px,#ff3600 28.5px,#ff2500 34.5px,#ff1900 37.5px,#ff0c00 39.5px,#ff0200 40.5px,#ff0000 41.5px,#ff0000 286.5px)"></i>
<i style="top:215px;left:388px;width:287px;background:linear-gradient(90deg,#ff6300 0.5px,#ff4b00 17.5px,#ff3600 28.5px,#ff2500 34.5px,#ff1800 37.5px,#ff0a00 39.5px,#ff0100 40.5px,#ff0000 286.5px)"></i>
<i style="top:216px;left:388px;width:287px;background:linear-gradient(90deg,#ff6300 0.5px,#ff4b00 17.5px,#ff3500 28.5px,#ff2400 34.5px,#ff1700 37.5px,#ff1100 38.5px,#ff0000 40.5px,#ff0000 286.5px)"></i>
<i style="top:217px;left:388px;width:287px;background:linear-gradient(90deg,#ff6300 0.5px,#ff4b00 17.5px,#ff3500 28.5px,#ff2400 34.5px,#ff1600 37.5px,#ff1000 38.5px,#ff0000 40.5px,#ff0000 286.5px)"></i>
<i style="top:218px;left:388px;width:287px;background:linear-gradient(90deg,#ff6300 0.5px,#ff4b00 17.5px,#ff3700 27.5px,#ff2700 33.5px,#ff1b00 36.5px,#ff0f00 38.5px,#ff0600 39.5px,#ff0000 40.5px,#ff0000 286.5px)"></i>
<i style="top:219px;left:388px;width:287px;background:linear-gradient(90deg,#ff6300 0.5px,#ff4b00 17.5px,#ff3700 27.5px,#ff2600 33.5px,#ff1a00 36.5px,#ff0e00 38.5px,#ff0500 39.5px,#ff0000 40.5px,#ff0000 286.5px)"></i>
<i style="top:220px;left:388px;width:287px;background:linear-gradient(90deg,#ff6300 0.5px,#ff4a00 17.5px,#ff3700 27.5px,#ff2600 33.5px,#ff1a00 36.5px,#ff0d00 38.5px,#ff0400 39.5px,#ff0000 40.5px,#ff0000 286.5px)"></i>
<i style="top:221px;left:388px;width:287px;background:linear-gradient(90deg,#ff6300 0.5px,#ff4a00 17.5px,#ff3600 27.5px,#ff2500 33.5px,#ff1900 36.5px,#ff0c00 38.5px,#ff0200 39.5px,#ff0000 40.5px,#ff0000 286.5px)"></i>
<i style="top:222px;left:388px;width:287px;background:linear-gradient(90deg,#ff6300 0.5px,#ff4a00 17.5px,#ff3600 27.5px,#ff2500 33.5px,#ff1800 36.5px,#ff0b00 38.5px,#ff0100 39.5px,#ff0000 44.5px,#ff0000 286.5px)"></i>
<i style="top:223px;left:388px;width:287px;background:linear-gradient(90deg,#ff6300 0.5px,#ff4a00 17.5px,#ff3600 27.5px,#ff2500 33.5px,#ff1800 36.5px,#ff1200 37.5px,#ff0000 39.5px,#ff0000 286.5px)"></i>
<i style="top:224px;left:388px;width:287px;background:linear-gradient(90deg,#ff6300 0.5px,#ff4b00 16.5px,#ff3600 27.5px,#ff2400 33.5px,#ff1700 36.5px,#ff1100 37.5px,#ff0000 39.5px,#ff0000 286.5px)"></i>
<i style="top:225px;left:388px;width:287px;background:linear-gradient(90deg,#ff6200 0.5px,#ff4b00 16.5px,#ff3500 27.5px,#ff2400 33.5px,#ff1700 36.5px,#ff1100 37.5px,#ff0000 39.5px,#ff0000 286.5px)"></i>
<i style="top:226px;left:388px;width:287px;background:linear-gradient(90deg,#ff6200 0.5px,#ff4b00 16.5px,#ff3500 27.5px,#ff2400 33.5px,#ff1600 36.5px,#ff1000 37.5px,#ff0000 39.5px,#ff0000 286.5px)"></i>
<i style="top:227px;left:388px;width:287px;background:linear-gradient(90deg,#ff6200 0.5px,#ff4b00 16.5px,#ff3500 27.5px,#ff2300 33.5px,#ff1600 36.5px,#ff0f00 37.5px,#ff0600 38.5px,#ff0000 39.5px,#ff0000 286.5px)"></i>
<i style="top:228px;left:388px;width:287px;background:linear-gradient(90deg,#ff6200 0.5px,#ff4b00 16.5px,#ff3700 26.5px,#ff2700 32.5px,#ff1b00 35.5px,#ff0f00 37.5px,#ff0600 38.5px,#ff0000 39.5px,#ff0000 286.5px)"></i>
<i style="top:229px;left:388px;width:287px;background:linear-gradient(90deg,#ff6200 0.5px,#ff4b00 16.5px,#ff3700 26.5px,#ff2600 32.5px,#ff1a00 35.5px,#ff0e00 37.5px,#ff0500 38.5px,#ff0000 39.5px,#ff0000 286.5px)"></i>
<i style="top:230px;left:388px;width:287px;background:linear-gradient(90deg,#ff6200 0.5px,#ff4b00 16.5px,#ff3700 26.5px,#ff2600 32.5px,#ff1a00 35.5px,#ff0e00 37.5px,#ff0500 38.5px,#ff0000 39.5px,#ff0000 286.5px)"></i>
<i style="top:231px;left:388px;width:287px;background:linear-gradient(90deg,#ff6200 0.5px,#ff4b00 16.5px,#ff3700 26.5px,#ff2600 32.5px,#ff1a00 35.5px,#ff0e00 37.5px,#ff0400 38.5px,#ff0000 39.5px,#ff0000 286.5px)"></i>
<i style="top:232px;left:388px;width:287px;background:linear-gradient(90deg,#ff6200 0.5px,#ff4b00 16.5px,#ff3700 26.5px,#ff2600 32.5px,#ff1a00 35.5px,#ff0d00 37.5px,#ff0400 38.5px,#ff0000 39.5px,#ff0000 286.5px)"></i>
</div>
<svg width="685" height="273" viewBox="0 0 685 273" font-family="Liberation Sans, sans-serif" font-size="13" text-rendering="geometricPrecision">
<style>text{stroke:#000;stroke-width:0.15;}</style>
<polygon points="271.50,145.30 272.94,149.72 277.59,149.72 273.83,152.46 275.26,156.88 271.50,154.14 267.74,156.88 269.17,152.46 265.41,149.72 270.06,149.72" fill="#ff2400" stroke="#ffcc00" stroke-width="0.9"/>
<polygon points="253.66,153.34 119.43,60.89 99.59,216.17" fill="none" stroke="#000" stroke-width="0.7" stroke-dasharray="1.1,1.9"/>
<polygon points="271.52,151.67 119.43,60.89 96.29,211.39" fill="none" stroke="#000" stroke-width="0.75"/>
<line x1="125.92" y1="50.30" x2="130.22" y2="46.36" stroke="#222" stroke-width="0.6"/>
<text transform="translate(130.80,45.20) scale(1,1.05)">540</text>
<line x1="173.36" y1="81.33" x2="178.19" y2="77.73" stroke="#222" stroke-width="0.6"/>
<text transform="translate(178.40,76.60) scale(1,1.05)">560</text>
<line x1="219.44" y1="114.26" x2="224.34" y2="110.71" stroke="#222" stroke-width="0.6"/>
<text transform="translate(224.60,109.20) scale(1,1.05)">580</text>
<line x1="257.31" y1="141.52" x2="262.21" y2="137.96" stroke="#222" stroke-width="0.6"/>
<text transform="translate(263.60,138.10) scale(1,1.05)">600</text>
<line x1="278.63" y1="156.84" x2="283.53" y2="153.29" stroke="#222" stroke-width="0.6"/>
<text transform="translate(285.10,152.70) scale(1,1.05)">620</text>
<line x1="271.5" y1="151.7" x2="281.8" y2="193" stroke="#000" stroke-width="0.6"/>
<text transform="translate(255.00,206.70) scale(1,1.05)">Sample A</text>
<line x1="195" y1="26.5" x2="236" y2="26.5" stroke="#000" stroke-width="1"/>
<line x1="194.9" y1="43.4" x2="233.5" y2="43.4" stroke="#000" stroke-width="1" stroke-dasharray="3.6,2.2"/>
<text transform="translate(242.00,30.50) scale(1,1.05)">NTSC</text>
<text transform="translate(242.00,48.50) scale(1,1.05)">Adobe RGB</text>
<rect x="50" y="15.5" width="264.5" height="215" fill="none" stroke="#000" stroke-width="1"/>
<line x1="50.00" y1="230.5" x2="50.00" y2="234.50" stroke="#000" stroke-width="1"/>
<text transform="translate(50.00,250.00) scale(1,1.05)" text-anchor="middle">0.0</text>
<line x1="83.06" y1="230.5" x2="83.06" y2="233.00" stroke="#000" stroke-width="1"/>
<line x1="116.12" y1="230.5" x2="116.12" y2="234.50" stroke="#000" stroke-width="1"/>
<text transform="translate(116.12,250.00) scale(1,1.05)" text-anchor="middle">0.2</text>
<line x1="149.19" y1="230.5" x2="149.19" y2="233.00" stroke="#000" stroke-width="1"/>
<line x1="182.25" y1="230.5" x2="182.25" y2="234.50" stroke="#000" stroke-width="1"/>
<text transform="translate(182.25,250.00) scale(1,1.05)" text-anchor="middle">0.4</text>
<line x1="215.31" y1="230.5" x2="215.31" y2="233.00" stroke="#000" stroke-width="1"/>
<line x1="248.38" y1="230.5" x2="248.38" y2="234.50" stroke="#000" stroke-width="1"/>
<text transform="translate(248.38,250.00) scale(1,1.05)" text-anchor="middle">0.6</text>
<line x1="281.44" y1="230.5" x2="281.44" y2="233.00" stroke="#000" stroke-width="1"/>
<line x1="314.50" y1="230.5" x2="314.50" y2="234.50" stroke="#000" stroke-width="1"/>
<text transform="translate(314.50,250.00) scale(1,1.05)" text-anchor="middle">0.8</text>
<line x1="50" y1="230.50" x2="46.00" y2="230.50" stroke="#000" stroke-width="1"/>
<text transform="translate(41.00,235.10) scale(1,1.05)" text-anchor="end">0.0</text>
<line x1="50" y1="206.61" x2="47.50" y2="206.61" stroke="#000" stroke-width="1"/>
<line x1="50" y1="182.72" x2="46.00" y2="182.72" stroke="#000" stroke-width="1"/>
<text transform="translate(41.00,187.32) scale(1,1.05)" text-anchor="end">0.2</text>
<line x1="50" y1="158.83" x2="47.50" y2="158.83" stroke="#000" stroke-width="1"/>
<line x1="50" y1="134.94" x2="46.00" y2="134.94" stroke="#000" stroke-width="1"/>
<text transform="translate(41.00,139.54) scale(1,1.05)" text-anchor="end">0.4</text>
<line x1="50" y1="111.06" x2="47.50" y2="111.06" stroke="#000" stroke-width="1"/>
<line x1="50" y1="87.17" x2="46.00" y2="87.17" stroke="#000" stroke-width="1"/>
<text transform="translate(41.00,91.77) scale(1,1.05)" text-anchor="end">0.6</text>
<line x1="50" y1="63.28" x2="47.50" y2="63.28" stroke="#000" stroke-width="1"/>
<line x1="50" y1="39.39" x2="46.00" y2="39.39" stroke="#000" stroke-width="1"/>
<text transform="translate(41.00,43.99) scale(1,1.05)" text-anchor="end">0.8</text>
<line x1="50" y1="15.50" x2="47.50" y2="15.50" stroke="#000" stroke-width="1"/>
<text transform="translate(182.25,270.00) scale(1,1.05)" text-anchor="middle">CIE x</text>
<text transform="translate(10.10,123.00) rotate(-90) scale(1,1.05)" text-anchor="middle">CIE y</text>
<text transform="translate(0.80,13.20) scale(1,1.05)" font-weight="bold" font-size="18">a</text>
<path d="M388.50 233.10 V19.30 H675.30 V232.70" fill="none" stroke="#000" stroke-width="0.65"/>
<line x1="388.50" y1="232.80" x2="675.70" y2="232.80" stroke="#000" stroke-opacity="0.45" stroke-width="0.6"/>
<line x1="388.50" y1="233.00" x2="388.50" y2="235.00" stroke="#000" stroke-opacity="1" stroke-width="0.8"/>
<text transform="translate(388.50,250.00) scale(1,1.05)" text-anchor="middle">600</text>
<line x1="436.30" y1="233.00" x2="436.30" y2="235.00" stroke="#000" stroke-opacity="0.5" stroke-width="0.8"/>
<text transform="translate(436.30,250.00) scale(1,1.05)" text-anchor="middle">610</text>
<line x1="484.10" y1="233.00" x2="484.10" y2="235.00" stroke="#000" stroke-opacity="0.5" stroke-width="0.8"/>
<text transform="translate(484.10,250.00) scale(1,1.05)" text-anchor="middle">620</text>
<line x1="531.90" y1="233.00" x2="531.90" y2="235.00" stroke="#000" stroke-opacity="0.5" stroke-width="0.8"/>
<text transform="translate(531.90,250.00) scale(1,1.05)" text-anchor="middle">630</text>
<line x1="579.70" y1="233.00" x2="579.70" y2="235.00" stroke="#000" stroke-opacity="0.5" stroke-width="0.8"/>
<text transform="translate(579.70,250.00) scale(1,1.05)" text-anchor="middle">640</text>
<line x1="627.50" y1="233.00" x2="627.50" y2="235.00" stroke="#000" stroke-opacity="0.5" stroke-width="0.8"/>
<text transform="translate(627.50,250.00) scale(1,1.05)" text-anchor="middle">650</text>
<line x1="675.30" y1="233.00" x2="675.30" y2="235.00" stroke="#000" stroke-opacity="1" stroke-width="0.8"/>
<text transform="translate(675.30,250.00) scale(1,1.05)" text-anchor="middle">660</text>
<line x1="388.50" y1="210.81" x2="386.00" y2="210.81" stroke="#000" stroke-width="0.8"/>
<text transform="translate(381.50,215.41) scale(1,1.05)" text-anchor="end">10</text>
<line x1="388.50" y1="183.45" x2="386.00" y2="183.45" stroke="#000" stroke-width="0.8"/>
<text transform="translate(381.50,188.05) scale(1,1.05)" text-anchor="end">20</text>
<line x1="388.50" y1="156.09" x2="386.00" y2="156.09" stroke="#000" stroke-width="0.8"/>
<text transform="translate(381.50,160.69) scale(1,1.05)" text-anchor="end">30</text>
<line x1="388.50" y1="128.74" x2="386.00" y2="128.74" stroke="#000" stroke-width="0.8"/>
<text transform="translate(381.50,133.34) scale(1,1.05)" text-anchor="end">40</text>
<line x1="388.50" y1="101.38" x2="386.00" y2="101.38" stroke="#000" stroke-width="0.8"/>
<text transform="translate(381.50,105.98) scale(1,1.05)" text-anchor="end">50</text>
<line x1="388.50" y1="74.02" x2="386.00" y2="74.02" stroke="#000" stroke-width="0.8"/>
<text transform="translate(381.50,78.62) scale(1,1.05)" text-anchor="end">60</text>
<line x1="388.50" y1="46.66" x2="386.00" y2="46.66" stroke="#000" stroke-width="0.8"/>
<text transform="translate(381.50,51.26) scale(1,1.05)" text-anchor="end">70</text>
<line x1="388.50" y1="19.30" x2="386.00" y2="19.30" stroke="#000" stroke-width="0.8"/>
<text transform="translate(381.50,23.90) scale(1,1.05)" text-anchor="end">80</text>
<text transform="translate(531.50,269.50) scale(1,1.05)" text-anchor="middle">Peak wavelength (nm)</text>
<text transform="translate(356.00,127.30) rotate(-90) scale(1,1.05)" text-anchor="middle">FWHM (nm)</text>
<text transform="translate(345.60,13.20) scale(1,1.05)" font-weight="bold" font-size="18">b</text>
</svg>
</body></html>
